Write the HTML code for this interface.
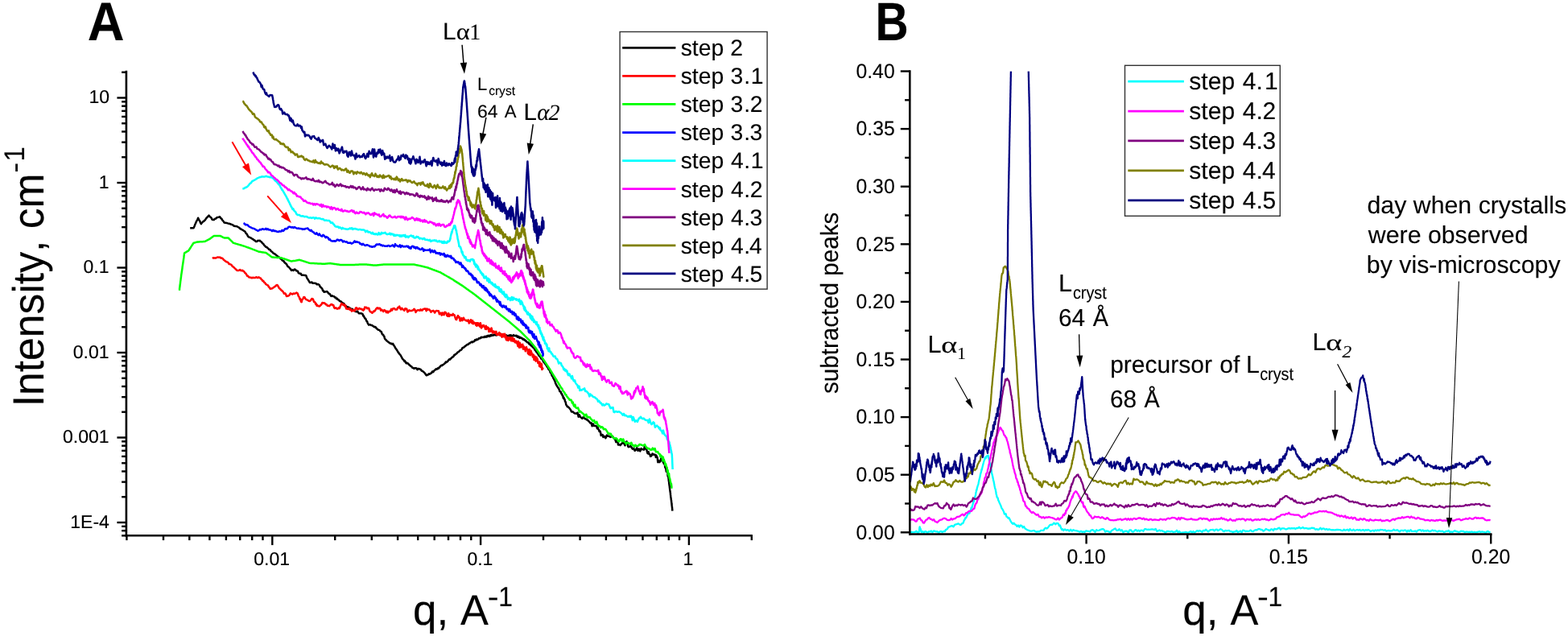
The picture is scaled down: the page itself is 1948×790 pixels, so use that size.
<!DOCTYPE html>
<html lang="en"><head><meta charset="utf-8"><title>SAXS intensity curves and subtracted peaks</title>
<style>html,body{margin:0;padding:0;background:#fff}body{width:1948px;height:790px;overflow:hidden}svg{display:block;filter:blur(0.45px)}text{font-family:"Liberation Sans", Arial, Helvetica, sans-serif;fill:#000;white-space:pre;font-kerning:none;text-rendering:geometricPrecision;stroke:#000;stroke-width:0.12px;paint-order:stroke fill}</style>
</head><body>
<svg width="1948" height="790" viewBox="0 0 1948 790" role="img" aria-label="SAXS intensity curves (A) and subtracted peaks (B)">
<rect width="1948" height="790" fill="#fff"/>
<defs><clipPath id="cb"><rect x="1131" y="88.3" width="730" height="576"/></clipPath></defs>
<g id="chartA">
<polyline points="236.2,283.5 237.6,283.2 239.1,283.2 240.5,283.2 241.1,281.9 241.6,281 242.2,279 242.7,278.1 243.3,276.8 243.8,275.4 244.4,274.4 245,273.2 245.5,272.5 246.1,270.7 246.7,271.9 247.3,273.4 248,274.1 248.6,275.5 249.2,277.1 249.9,278.2 250.7,276.9 251.6,276.1 252.5,274.9 253.4,274.7 254.2,273.8 255.1,273 256,271.4 256.9,270.4 257.7,269.5 258.6,268.7 259.5,267.6 260.5,269 261.5,269.7 262.5,270.5 263.5,272.6 264.6,273.1 265.8,273 266.9,271.9 268.1,271.5 269.3,270.3 270.5,269.9 271.7,269.8 272.9,269.2 273.7,270.1 274.5,271.3 275.3,271.6 276.1,273.3 276.9,274.1 277.7,275 278.5,276.5 280,276.7 281.5,276.9 283,277.4 284.6,277.7 286.1,278.2 287.3,278.8 288.6,279.1 289.9,280.1 291.1,280.8 292.4,281.1 293.7,281.1 294.9,281.5 296.2,282.3 297.3,282.9 298.4,284.2 299.5,284.5 300.5,285.3 301.6,285.7 302.7,286.7 303.8,287.2 304.6,287.9 305.5,289.7 306.3,290.3 307.2,291.7 308,293.4 308.9,294.4 310.1,294.8 311.4,295.3 312.7,296.4 313.9,296.8 315.2,298 316.5,298.6 317.7,299.9 319,300 320.3,298.8 321.5,298.9 322.8,298.7 323.7,299.9 324.6,300.2 325.5,301.4 326.4,302.4 327.3,303.1 328.2,304.6 329.1,305.4 330.2,306.7 331.3,306.9 332.4,308 333.5,308.9 334.5,310.1 335.6,310.2 336.7,312 337.7,312.6 338.7,313.5 339.7,314.7 340.8,314.9 341.8,315.9 342.8,316.5 343.8,317.6 344.8,318.3 345.8,319.2 346.8,319.5 347.8,320 348.7,321.5 349.7,321.9 350.6,323.3 351.6,324.1 352.5,324.3 353.5,326 354.4,326.9 355.3,327.5 356.1,328.3 357,330.2 357.8,331.3 358.6,331.5 359.5,332.5 360.3,333.6 361.2,334.5 362,336 363.3,335.3 364.6,336 365.8,334.5 367.1,334.9 368,336.3 369,336.6 369.9,336.7 370.9,339.2 371.8,339.4 372.8,340.1 373.7,339.8 374.7,341.7 375.9,341.7 377.2,341.8 378.5,341.9 379.7,342 380.4,342.7 381,344.5 381.6,345.8 382.3,346.7 382.9,347.7 383.5,348.6 384.2,349.8 384.8,351 386.1,351 387.3,350.5 388.6,351.8 389.9,351.8 391.1,351.8 392.4,352 393.7,353.3 394.9,353 396.2,353.6 396.9,354.2 397.6,356.2 398.3,356.4 399,357.4 399.7,357.8 400.4,358.9 401.1,361.1 401.8,361 402.5,362.7 403.8,362.6 405.1,362.3 406.3,362.1 407.2,362.9 408,364.4 408.9,364.9 409.7,365 410.5,366.5 411.4,367.9 412.7,367.3 413.9,368.1 415.2,368.3 416.1,369.6 417.1,369.4 418,371.3 419,370.9 419.9,372.2 420.9,372.4 421.8,373.8 422.8,374.3 423.7,374.4 424.7,376 425.6,376.1 426.6,377.7 427.5,377.1 428.5,379.6 429.4,379.5 430.4,380.6 431.4,381.2 432.4,381.5 433.4,381.9 434.4,382.4 435.4,383.5 436.5,383.7 437.5,383.7 438.5,384.8 439.5,385.8 440.5,386.1 441.6,386.7 442.8,387.3 443.9,386.6 445,388.1 446.1,389.3 447.3,389.2 448.4,389.3 449.5,389.4 450.6,390.3 451.2,392.3 451.7,392.1 452.3,393.6 452.8,394.2 453.3,395.5 453.9,395.6 454.4,396.2 455,397.9 455.5,399.1 456.1,399.1 456.6,400.9 457.1,402 457.7,402.8 458.2,403.7 459.5,403.2 460.8,403.9 462,404 463.3,404.9 464.2,405.6 465.1,406.3 466.1,406 467,406.8 467.9,408.2 468.8,408.7 469.7,409.8 470.7,409.7 471.6,410.3 472.5,411.6 473.4,411.8 474,412.6 474.5,414.4 475.1,415.5 475.6,415.5 476.2,416 476.7,417.4 477.3,417.6 477.8,419.9 478.4,421.2 478.9,421.6 479.5,422 480,423.1 481,423.6 482,424.5 483,425.3 484.1,425.9 485.1,426.7 486.1,426.6 487.1,427.5 488.1,426.9 488.7,427.7 489.3,429.2 489.8,429.5 490.4,430.7 491,431.8 491.6,432.9 492.2,433.5 492.7,434.4 493.3,435.1 493.9,436.3 494.5,437.5 495,437.6 495.6,438.9 496.2,439.5 496.8,440.4 497.4,440.9 498,441.9 498.6,443 499.2,444.3 499.8,445.2 500.5,446.3 501.1,446.8 501.7,447.2 502.3,448.7 503.1,448.3 503.9,450.3 504.7,451.3 505.5,450.6 506.3,451.4 507.1,451.4 507.9,452.8 508.8,453.3 509.6,454.2 510.4,454.9 511.2,455.2 512,456.5 512.8,457 513.6,457 514.4,457.8 515.4,457.3 516.5,457.2 517.5,457.5 518.5,459.1 519.5,457.9 520.5,458.1 521.5,458.5 522.5,458.7 523.2,459.8 523.9,460.7 524.6,460.7 525.3,461.3 526,461.8 526.7,462.4 527.4,463.1 528.1,464 528.8,465 529.5,466 530.2,466.3 531.1,465.6 532,465.5 532.9,464.2 533.7,464.8 534.6,463.9 535.5,463.8 536.4,462.5 537.2,461.4 538.1,462.2 539,460.8 539.9,459.9 540.8,459.4 541.5,458.3 542.3,458.8 543.1,458.4 543.9,457.4 544.7,457.8 545.4,456.5 546.2,456.3 547,454.9 547.8,454.4 548.5,453.8 549.3,454 550.1,453.2 550.9,452.7 551.6,452.2 552.3,451.5 553.1,451.1 553.8,449.5 554.5,450.1 555.2,449.5 555.9,449.1 556.7,448.1 557.4,447.1 558.1,446.3 558.8,446.8 559.6,445.4 560.3,445.5 561,444.6 561.7,443.6 562.4,443.4 563,443.3 563.7,442.3 564.4,440.8 565.1,441 565.7,440.2 566.4,439.8 567.1,439.1 567.8,438.8 568.4,437.6 569.1,437.3 569.8,437.1 570.5,436.3 571.1,435.5 571.8,435.1 572.4,435 573.1,434.5 573.7,433.8 574.3,432.3 575,432 575.6,431.8 576.3,431.6 576.9,430.7 577.5,430 578.2,430.1 578.8,429.3 579.5,428.8 580.1,428.4 580.7,427.8 581.4,427.9 582,427.7 582.7,426.6 583.3,426.2 583.9,426.3 584.5,425.4 585.1,425.3 585.7,424.9 586.3,424.5 586.9,425.3 587.5,424.5 588.2,424.4 588.8,424.2 589.4,423.4 590,422.2 590.6,423 591.2,422.7 591.8,421.4 592.4,421.4 593,422 593.6,421.4 594.2,421.3 594.8,420.2 595.4,420.4 596,420.1 596.5,420.3 597.1,419.2 597.7,419.6 598.2,418.7 598.8,419 599.3,419.1 599.9,419.1 600.4,418.8 601,418.6 601.5,418.9 602.1,418.5 602.6,417.8 603.2,418.5 603.7,418.7 604.3,417.9 604.8,417.4 605.4,418.3 605.9,417.8 606.5,416.7 607,417.3 607.6,417.1 608.1,417.9 608.6,417 609.1,416.4 609.6,417.1 610.1,417.3 610.6,415.9 611.1,416.6 611.6,416.4 612.2,416.8 612.7,416.5 613.2,415.9 613.7,416.3 614.2,416.1 614.7,415.3 615.2,415.4 615.7,416.3 616.2,416.2 616.7,416.5 617.2,415.6 617.7,415.8 618.2,414.8 618.7,415.9 619.2,414.7 619.7,415.1 620.2,415.4 620.7,415 621.2,416.2 621.7,415.2 622.2,414.9 622.7,415.5 623.1,416.1 623.6,415.4 624.1,416.3 624.6,416.5 625.1,415.3 625.6,416.4 626.1,416.3 626.6,416.4 627,416.5 627.5,416.7 628,416.4 628.5,416.8 629,416.4 629.5,417.3 630,417.2 630.4,417.4 630.9,417 631.4,417.2 631.9,417.1 632.4,416.7 632.9,417.3 633.4,416.3 633.9,417.7 634.4,417.3 634.9,416.3 635.4,417.3 635.9,417.6 636.5,417.5 637,416.8 637.5,417 638,416.1 638.5,417.1 639,417.2 639.5,417 640,416.8 640.5,417 640.9,417.4 641.4,416.9 641.8,416.8 642.3,417.4 642.7,418.7 643.2,418.7 643.6,418.4 644.1,417.7 644.5,418.9 645,418.5 645.4,419.9 645.9,419.5 646.3,419 646.8,419.2 647.2,419.8 647.7,419.7 648.1,420.2 648.5,420.1 648.9,420.8 649.3,421.5 649.7,420.9 650.1,421.6 650.5,421.8 650.9,421.2 651.3,422.2 651.7,422.5 652.2,422.2 652.6,422.9 653,423.4 653.4,423.2 653.8,423.8 654.2,424.4 654.6,424.7 655,425.2 655.4,425.3 655.8,425.2 656.2,425.3 656.5,425.6 656.9,426.6 657.2,427.1 657.6,426.4 657.9,427.7 658.2,427.8 658.6,427.8 658.9,428.3 659.2,428.4 659.6,429.3 659.9,429.1 660.3,429 660.6,429.8 660.9,429.5 661.3,430.7 661.6,430.7 661.9,431.3 662.3,431.6 662.6,431.9 662.8,432 663.1,432.2 663.4,432.1 663.7,433.1 663.9,432.9 664.2,434.1 664.5,434 664.8,435.1 665,435.2 665.3,434.8 665.6,435.5 665.9,436 666.1,437 666.4,437.1 666.7,437.2 667,437.3 667.2,438 667.5,437.9 667.8,439.2 668.1,439.4 668.4,439.4 668.6,439.8 668.9,440.6 669.2,441.4 669.5,440.4 669.7,441 670,442.3 670.3,442.2 670.6,442.7 670.8,443.2 671.1,442.9 671.4,443.8 671.7,444 671.9,444 672.2,445.4 672.5,444.7 672.8,444.6 673,445.8 673.3,445.4 673.6,446.2 673.9,446.1 674.2,447.3 674.4,447.6 674.7,447.4 674.9,449 675.2,448.7 675.4,449.1 675.7,450.1 675.9,450.1 676.2,450.6 676.5,450.6 676.7,450.8 677,451.1 677.2,451.9 677.5,451.9 677.7,452.7 678,452.7 678.2,452.6 678.5,453 678.7,454.1 679,454.5 679.2,454.1 679.5,455.4 679.7,455 680,455.9 680.3,455.7 680.5,456 680.8,457 681,457.7 681.3,458.4 681.5,457.9 681.8,458.2 682,458.3 682.3,458.8 682.5,459.8 683.1,460.4 683.7,462.8 684.4,462.9 685,464.2 685.6,466.5 686.2,467.4 686.8,467.9 687.4,469.7 688,470.6 688.6,471.9 689.1,472.9 689.6,474 690.1,476 690.6,476.8 691.3,478.4 692,479.5 692.7,480.6 693.3,481.6 694,482.4 694.7,483.9 695.4,486.2 696,486.4 696.7,486.7 697.4,489.1 698.1,489.3 698.7,491.4 699.3,491.7 699.8,494.6 700.4,493.7 700.9,495.7 701.5,495.9 702,498.9 702.6,499.1 703.2,502.2 703.7,503.4 704.3,503.9 704.8,505.3 705.8,505.3 706.8,506.4 707.8,507.5 708.9,508.9 709.9,511.4 710.9,511.5 711.9,511.4 712.9,512.7 714.1,513.5 715.2,513.5 716.4,513.8 717.5,512.6 718.7,517.8 719.9,515.4 721,518 722.1,518.7 723.3,519.9 724.4,518.4 725.5,517.7 726.6,520.3 727.8,520.2 728.9,521.5 730,521.4 731.1,523.2 732.3,523.9 733.4,525.4 734.5,525.2 735.6,529.3 736.8,526.5 737.9,529 739,529 740.1,528.9 741.3,529.6 741.9,532.3 742.6,530.2 743.3,533.3 744,533.9 744.6,536 745.3,535.3 746,537 746.7,541.1 747.3,539.6 748,540.7 748.7,540.1 749.4,543 750.9,541.9 752.4,544.3 753.9,540.6 755.4,541.7 756.8,541.8 758.1,542.9 759.5,542.3 760.8,541.7 762.2,543.8 763.5,545.3 764.4,546.2 765.3,549.1 766.2,546.1 767.1,546.7 768,552.6 768.9,552.5 769.8,552.2 770.7,553.1 771.6,551.8 772.9,550.5 774.1,549.3 775.3,551 776.5,553.3 777.7,549.3 778.6,548.4 779.5,551.1 780.4,555 781.3,555.2 782.2,554.8 783.1,554.1 784,554.6 784.9,556.3 785.8,557.6 787.2,556.8 788.5,559.8 789.9,559.1 791.2,556.2 792.6,559.9 793.9,557.6 795.3,560.4 796.6,557.1 798,558.3 799,558.2 800,558.7 801,553.5 802,555.3 802.6,557.9 803.2,557.7 803.8,560.7 804.5,563.2 805.1,563.3 805.7,561.3 806.3,564 806.9,564.1 807.5,564.7 808.1,566.9 809.3,566.3 810.5,563.5 811.7,564.7 813,564.5 814.2,565.2 814.8,568 815.4,565.6 816.1,567.8 816.7,568.3 817.3,574.2 818,571.9 818.6,573 819.2,574.1 820.3,573.3 821.3,569.4 822.3,571.8 822.8,572.3 823.3,569.5 823.8,574.1 824.3,574.5 824.8,576 825.3,575.2 825.8,576.4 826.3,580.5 826.7,580.9 827.1,581.9 827.4,583.3 827.8,585.8 828.2,585.7 828.5,585.1 828.9,585.4 829.3,586.1 829.6,591.4 830,590 830.4,593.2 830.5,594.4 830.7,595.6 830.8,597.1 831,597.9 831.2,599.5 831.3,600.9 831.5,601.9 831.6,603.2 831.8,604.1 831.9,605.6 832.1,606.8 832.2,608.2 832.4,609.4 832.6,610.8 832.7,611.6 832.9,612.9 833,614.4 833.2,615.6 833.3,616.9 833.5,618.2 833.7,619.3 833.8,620.8 834,621.6 834.1,623.1 834.3,624.4 834.4,625.5 834.6,627 834.7,628.2 834.9,629.3 835,630.6 835.2,632.2 835.3,633.6 835.4,634.7" fill="none" stroke="#000000" stroke-width="2.5" stroke-linejoin="round"/>
<polyline points="263.8,320.8 265.2,320.2 266.5,320.5 267.9,320.6 269.3,319.9 270.7,319.4 272,319.7 273.4,319.6 274.5,320.7 275.7,320.6 276.8,321.3 277.9,322.8 279,323.5 280.2,324.6 281.3,325.2 282.4,325.5 283.5,326.3 284.6,328 285.6,328 286.7,328.6 287.7,329.3 288.7,330.7 289.8,331.6 290.8,332.3 291.8,333.3 292.9,334.3 293.9,335.4 294.9,336.1 296.5,336 298.1,335.1 299.7,336.3 301.3,335.7 302.3,336.9 303.2,337.2 304.2,338.9 305.2,339.5 306.2,341 307.2,342.8 308.2,342.8 309.1,344.3 310.1,344.6 311.5,344.7 312.9,345.2 314.3,344.8 315.8,345 317.2,344.9 318.6,344.2 320,345.1 321.4,344.3 322.8,345.2 323.7,345.4 324.6,347 325.5,347.5 326.4,349 327.3,349 328.2,350.8 329.1,351.1 330.1,352.9 331,353.4 332,354.1 332.9,354.4 333.9,356.4 334.8,357.1 335.8,358.8 336.7,358.6 337.8,358.4 338.9,357.8 340,357 341,356.3 342.1,355.6 343.2,354.4 344.3,353.9 345.1,354.8 346,356.4 346.8,358 347.7,358.6 348.5,359.5 349.4,360.3 350.2,361.2 351.1,361.7 351.9,362.7 352.9,364.8 353.9,364.3 354.9,365.1 355.9,367.9 357,367.7 358.2,367.5 359.5,366.6 360.8,364.3 362,364.9 363.3,365.6 364.6,364.4 365.8,364.9 367.1,364.4 368.4,363.6 369.6,364.3 370.2,365.8 370.7,367.6 371.3,368.5 371.9,369.2 372.4,371.4 373,371 373.6,373.4 374.1,374.8 374.7,375.1 375.2,372.5 375.7,372 376.2,371.6 376.7,370.5 377.2,369.3 378.2,369 379.2,370.7 380.3,372.1 381.3,372.4 382.3,372.8 383.5,373.7 384.8,374.1 386.1,373 387.3,371.1 388.6,371.3 389.3,372.6 390,374.9 390.7,374.9 391.4,375.4 392.1,377.6 392.8,377.2 393.5,379.8 394.2,378.7 394.9,380.1 396,380.3 397.1,380.4 398.2,379.2 399.3,378.3 400.4,376 401.4,376.4 402.5,376.3 403.6,376.6 404.6,378.2 405.7,378.1 406.8,379.7 407.8,379.7 408.9,380.2 409.7,379.5 410.5,378.9 411.4,378 412.3,378.1 413.3,379.1 414.2,378.9 415.2,382.3 416.1,383 417.1,382.3 418,382.8 419,383.7 419.9,383.3 420.8,382.4 421.7,383.1 422.6,380.7 423.5,378.8 424.4,376.9 425.3,378.2 426.3,378.7 427.2,377.8 428.2,380.3 429.1,379.4 430.1,383.5 431,383.5 432,383.8 432.9,384 433.9,382.7 434.9,384.9 435.9,384.1 437,386.6 438,385.9 439,384.9 440,386.2 441,385.9 442,382.4 443,382.3 444.1,384 445.2,384.3 446.3,382.9 447.4,383.5 448.5,383.9 449.5,383.8 450.6,385.1 451.3,385.6 451.9,384.1 452.5,384.4 453.2,381.5 454.2,382 455.2,381.8 456.2,383.3 457.2,382.7 458.2,382.8 459.2,386.1 460.3,387.5 461.3,387.5 462.3,388.7 463.3,387.9 464.2,386.4 465.2,386.7 466.1,385.5 467.1,384.1 468,382.7 469,382.3 469.9,383.4 470.9,382.8 472,382.8 473.1,385.6 474.1,384.6 475.2,385.7 476.3,387 477.4,385 478.5,385.7 480,388.2 481,386.5 482,388.5 483,386.8 484.1,387.1 485.1,386.3 486.1,383.9 487.1,385.5 488.1,383.4 489.1,383.1 490.1,383.2 491.1,384.6 492.2,384.5 493.2,384.4 494.2,382 495.2,382.2 496.2,380.6 497.2,383.2 498.2,384.4 499.2,382.7 500.3,384.3 501.3,384.4 502.3,385.7 503.3,383.3 504.3,383.5 505.3,383.8 506.3,387.5 507.3,386.8 508.4,385.3 509.4,386 510.4,385.9 511.4,386.1 512.4,385.4 513.4,385.2 514.4,383.8 515.4,384.7 516.5,387.9 517.5,386.2 518.5,385.5 519.5,385.1 520.5,385.4 521.5,385.8 522.5,384.3 523.5,385.4 524.6,385.5 525.6,384 526.6,383.9 527.6,383.5 528.6,383.4 529.6,386.2 530.6,383.6 531.6,384.7 532.5,384.4 533.5,384.6 534.4,385.9 535.4,387.7 536.4,386.4 537.3,386.3 538.3,385.8 539.2,386.8 540.2,388.5 541.1,386.8 542.1,386 543,386 544,386.5 544.9,386.3 545.9,390.3 546.8,389 547.8,388.7 548.7,391.5 549.7,388.5 550.6,390.8 551.6,391.1 552.5,387.7 553.5,387.9 554.4,389.1 555.3,392.1 556.3,392.8 557.2,389.2 558.2,392.9 559.1,390.9 560.1,391.1 561,391.6 561.9,391.7 562.8,389.8 563.7,391.3 564.6,391.3 565.4,394.2 566.3,396.7 567.2,397 568.1,393.9 569,392.1 569.9,394.4 570.8,393.9 571.6,398.6 572.5,396.9 573.4,395.2 574.3,398.1 575.2,397.3 575.9,394.7 576.7,396.6 577.4,397.2 578.2,397.8 578.9,398.2 579.7,397.7 580.4,398.8 581.2,397.8 581.9,397.5 582.7,401.5 583.4,399.9 584.1,400.2 584.9,397.2 585.6,399.7 586.4,401.4 587.1,398.3 587.9,402.3 588.6,400.2 589.4,401.2 589.9,401 590.5,401.8 591.1,403.6 591.7,401.3 592.3,404.7 592.8,401.2 593.4,401.2 594,404.1 594.6,401.5 595.2,402.8 595.7,405.1 596.3,405.8 596.9,401.3 597.5,405.2 598,407.6 598.6,406.8 599.2,404.7 599.8,404.4 600.4,405.1 600.9,404 601.5,405.9 602,406 602.4,406.3 602.9,408.7 603.3,406.6 603.8,404.8 604.2,409.1 604.7,405.9 605.1,407.1 605.6,407.9 606,407.8 606.5,406.9 606.9,408.4 607.4,412.1 607.8,408.2 608.3,409.2 608.7,411.5 609.2,411.1 609.6,411.4 610.1,411.8 610.5,407.4 611,409.4 611.4,411.2 611.9,412.1 612.3,413.6 612.8,412.5 613.2,411.5 613.7,412.2 614.1,412 614.6,413 615.1,413.9 615.5,412.4 616,411.8 616.5,411.9 616.9,415.4 617.4,415.9 617.9,415.6 618.3,415.6 618.8,415.7 619.3,414.5 619.7,415.8 620.2,413.1 620.7,414.7 621.1,414 621.6,416.7 622.1,414.7 622.6,415.7 623,416.7 623.5,418.6 624,415.1 624.4,415 624.9,418.2 625.4,415.1 625.8,417.5 626.3,416.4 626.7,417.5 627.1,414.7 627.6,419.3 628,417.4 628.4,416.9 628.9,422.1 629.3,420.2 629.7,422.5 630.2,420.1 630.6,419 631,420 631.5,422.9 631.9,420.2 632.3,421.3 632.8,421.6 633.2,419.3 633.6,421.4 634.1,420.4 634.5,419.3 634.9,423.3 635.4,423.2 635.8,422.3 636.2,420.8 636.7,419.2 637.1,423.7 637.5,422.9 638,422.2 638.4,423.5 638.8,421.1 639.1,424.1 639.5,424.6 639.9,425.3 640.3,425.3 640.7,425.5 641.1,423.4 641.5,425 641.9,425.1 642.3,425.9 642.6,427.1 643,428 643.4,430.1 643.8,423.9 644.2,428.4 644.6,427.6 645,431.7 645.4,430.2 645.8,425.7 646.2,429.8 646.5,428.3 646.9,431.4 647.3,427.9 647.7,429.9 648.1,430.3 648.5,430.5 648.9,429.8 649.3,427.8 649.7,432.3 650,433.6 650.4,431.9 650.8,430.4 651.2,432.9 651.6,433.9 652,432.8 652.4,433.4 652.8,436.3 653.2,431.8 653.6,433.1 653.9,430.9 654.3,433.4 654.7,433.6 655.1,433.5 655.5,434.2 655.9,439.2 656.3,435.7 656.7,436.2 657.1,440.3 657.4,436.8 657.8,433.9 658.2,437.7 658.5,436 658.9,441.3 659.2,436.1 659.5,437.8 659.8,436.1 660.1,439.8 660.4,438 660.7,440.1 661,439.9 661.3,439.8 661.7,443.1 662,443.5 662.3,442.1 662.6,440.6 662.9,440.7 663.2,443.6 663.5,447.1 663.8,442.9 664.1,442.6 664.5,443.1 664.8,442.7 665.1,443.3 665.4,445.1 665.7,448.7 666,446.2 666.3,446.2 666.6,443.8 666.9,447.7 667.2,447.6 667.5,445.6 667.8,446.3 668.1,448.7 668.4,451.1 668.6,450.7 668.9,450.2 669.2,449.6 669.5,451.2 669.8,450.9 670.1,455 670.4,449.4 670.7,451.3 671,454.9 671.2,452.2 671.5,455.9 671.8,453.4 672.1,454.1 672.4,453.4 672.7,451.8 673,453 673.3,459 673.6,456.9 673.9,457.2 674.1,458.3 674.4,456.7" fill="none" stroke="#ff0000" stroke-width="2.5" stroke-linejoin="round"/>
<polyline points="222.8,360.8 223,359.4 223.1,358.1 223.3,356.8 223.5,355.5 223.6,354.2 223.8,352.9 224,351.5 224.1,350.2 224.3,348.9 224.5,347.6 224.6,346.3 224.8,345 225,343.6 225.1,342.3 225.3,341 225.5,339.7 225.7,338.4 225.9,337 226.1,335.7 226.3,334.4 226.5,333 226.6,331.7 226.8,330.4 227,329.1 227.2,327.7 227.4,326.4 227.6,325.1 227.8,323.7 228,322.4 228.2,321.1 228.4,319.7 228.5,318.4 228.7,317.1 228.9,315.8 229.1,314.4 230.4,313.7 231.6,312.9 232.9,312.2 234.2,311.4 235,310.2 235.8,309 236.6,307.8 237.3,306.6 238.1,305.4 238.9,304.2 239.7,303 240.5,301.8 241.8,301.5 243,301.1 244.3,300.8 245.6,300.5 247,300.4 248.5,300.3 250,300.3 251.5,300.2 253,300.1 254.4,300 255.7,299.3 257,298.7 258.2,298 259.5,297.4 260.8,296.7 262,295.8 263.3,294.8 264.6,293.9 265.8,292.9 267.3,292.9 268.9,292.9 270.4,292.9 271.9,292.9 273.4,292.9 274.7,293.5 275.9,294.2 277.2,294.8 278.5,295.4 280.2,295.4 281.9,295.4 283.5,295.4 284.6,296.5 285.7,297.6 286.7,298.6 287.8,299.7 288.8,300.7 289.9,301.8 291.1,302.1 292.4,302.5 293.7,302.9 294.9,303.2 296.2,303.6 297.5,304 298.7,304.3 300,304.7 301.3,305.1 302.5,305.5 303.8,305.9 305.1,306.4 306.3,306.8 307.6,307.3 308.9,307.7 310.1,308.2 311.4,308.6 312.7,309.1 313.9,309.6 315.2,310.1 316.5,310.6 317.7,311.1 319,311.6 320.3,312.2 321.5,312.7 322.8,312.8 324.1,313 325.3,313.2 326.6,313.4 327.8,313.6 329.1,313.7 330.4,313.9 331.5,314.7 332.5,315.5 333.6,316.3 334.7,317.1 335.8,317.9 336.9,318.7 338,319.5 339.2,319.6 340.5,319.7 341.8,319.7 343,319.8 344.3,319.9 345.6,320 346.8,320.1 348.1,320.2 349.4,320.3 350.6,320.7 351.9,321.1 353.2,321.5 354.4,322 355.7,322.4 357,322.8 358.2,323.3 359.5,323.7 360.8,324.1 362,324.6 363.3,324.3 364.6,324.1 365.8,323.9 367.1,323.7 368.4,323.4 369.6,323.2 370.9,323 372.2,322.8 373.3,323.2 374.5,323.5 375.6,323.9 376.8,324.3 377.9,324.6 379.1,325 380.2,325.4 381.4,325.7 382.5,326.1 383.7,326.5 384.8,326.8 386.1,326.9 387.3,327 388.6,327.1 389.9,327.1 391.1,327.2 392.4,327.3 393.7,327.3 394.9,327.4 396.2,327.5 397.5,327.6 398.7,327.6 400,327.7 401.3,327.8 402.5,327.8 403.8,327.7 405.1,327.6 406.3,327.5 407.6,327.3 408.9,327.2 410.1,327.1 411.3,327.2 412.4,327.4 413.6,327.6 414.7,327.7 415.9,327.9 417,328.1 418.2,328.2 419.3,328.4 420.5,328.5 421.6,328.7 422.8,328.9 424,328.9 425.1,328.9 426.3,328.9 427.5,328.9 428.7,328.9 429.9,328.9 431.1,328.9 432.2,328.9 433.4,328.9 434.6,328.9 435.8,328.9 437,328.9 438.1,328.9 439.3,328.9 440.5,328.9 441.7,328.8 442.8,328.8 444,328.7 445.1,328.7 446.3,328.6 447.4,328.6 448.6,328.5 449.7,328.5 450.9,328.4 452,328.4 453.2,328.4 454.3,328.5 455.5,328.6 456.6,328.7 457.8,328.8 458.9,328.9 460.1,329 461.2,329.2 462.4,329.3 463.5,329.4 464.7,329.5 465.8,329.6 467,329.5 468.1,329.4 469.3,329.3 470.4,329.2 471.6,329 472.7,328.9 473.9,328.8 475,328.7 476.2,328.6 477.3,328.5 478.5,328.4 480,328.5 481.1,328.5 482.2,328.5 483.2,328.5 484.3,328.5 485.4,328.5 486.5,328.5 487.5,328.5 488.6,328.5 489.7,328.5 490.8,328.5 491.8,328.5 492.9,328.5 494,328.5 495.1,328.5 496.1,328.5 497.2,328.5 498.3,328.5 499.4,328.5 500.4,328.5 501.5,328.5 502.6,328.5 503.7,328.5 504.7,328.5 505.8,328.5 506.9,328.5 508,328.5 509.1,328.5 510.1,328.5 511.2,328.5 512.3,328.5 513.4,328.5 514.4,328.5 515.4,328.7 516.5,329 517.5,329.2 518.5,329.4 519.5,329.6 520.5,329.9 521.5,330.1 522.5,330.3 523.5,330.6 524.6,330.8 525.6,331 526.6,331.2 527.6,331.5 528.6,331.7 529.6,331.9 530.6,332.2 531.5,332.5 532.4,332.8 533.3,333.2 534.2,333.5 535.1,333.8 536,334.2 536.9,334.5 537.8,334.9 538.7,335.2 539.6,335.5 540.5,335.9 541.4,336.2 542.3,336.5 543.2,336.9 544.1,337.2 545,337.6 545.9,337.9 546.8,338.2 547.7,338.7 548.5,339.2 549.3,339.7 550.2,340.1 551,340.6 551.8,341.1 552.7,341.6 553.5,342 554.3,342.5 555.2,343 556,343.5 556.8,343.9 557.7,344.4 558.5,344.9 559.3,345.4 560.2,345.9 561,346.3 561.8,346.8 562.6,347.3 563.4,347.8 564.2,348.4 565,348.9 565.7,349.4 566.5,349.9 567.3,350.4 568.1,350.9 568.9,351.4 569.7,351.9 570.5,352.4 571.3,352.9 572,353.4 572.8,353.9 573.6,354.4 574.4,354.9 575.2,355.4 575.8,355.9 576.4,356.3 577,356.8 577.7,357.2 578.3,357.6 578.9,358.1 579.5,358.5 580.1,359 580.7,359.4 581.4,359.8 582,360.3 582.6,360.7 583.2,361.2 583.8,361.6 584.4,362 585.1,362.5 585.7,362.9 586.3,363.4 586.9,363.8 587.5,364.2 588.1,364.7 588.8,365.1 589.4,365.6 589.9,366 590.3,366.3 590.8,366.7 591.3,367.1 591.8,367.5 592.3,367.9 592.8,368.3 593.3,368.6 593.8,369 594.3,369.4 594.7,369.8 595.2,370.2 595.7,370.6 596.2,370.9 596.7,371.3 597.2,371.7 597.7,372.1 598.2,372.5 598.7,372.9 599.1,373.3 599.6,373.6 600.1,374 600.6,374.4 601.1,374.8 601.6,375.2 602.1,375.6 602.6,375.9 603.1,376.3 603.5,376.7 603.9,377 604.3,377.3 604.7,377.6 605.1,377.9 605.5,378.3 605.9,378.6 606.3,378.9 606.7,379.2 607.1,379.5 607.5,379.8 607.9,380.1 608.3,380.4 608.7,380.7 609.1,381 609.5,381.4 609.8,381.7 610.2,382 610.6,382.3 611,382.6 611.4,382.9 611.8,383.2 612.2,383.5 612.6,383.8 613,384.1 613.4,384.4 613.8,384.8 614.2,385.1 614.6,385.4 615,385.7 615.4,386 615.8,386.3 616.1,386.6 616.5,386.9 616.9,387.2 617.3,387.5 617.7,387.8 618.1,388.2 618.5,388.5 618.9,388.8 619.3,389.1 619.7,389.4 620.1,389.7 620.5,390 620.9,390.3 621.3,390.6 621.7,390.9 622.1,391.3 622.4,391.6 622.8,391.9 623.2,392.2 623.6,392.5 624,392.8 624.4,393.1 624.8,393.4 625.2,393.7 625.6,394 626,394.3 626.4,394.7 626.8,395 627.2,395.3 627.6,395.6 628,395.9 628.4,396.2 628.7,396.5 629.1,396.8 629.5,397.1 629.9,397.4 630.3,397.7 630.7,398.1 631.1,398.4 631.5,398.7 631.9,399 632.3,399.3 632.6,399.6 633,399.9 633.4,400.3 633.8,400.6 634.1,400.9 634.5,401.2 634.9,401.5 635.3,401.9 635.6,402.2 636,402.5 636.4,402.8 636.7,403.1 637.1,403.5 637.5,403.8 637.9,404.1 638.2,404.4 638.6,404.7 639,405.1 639.4,405.4 639.7,405.7 640.1,406 640.5,406.3 640.9,406.7 641.2,407 641.6,407.3 642,407.6 642.3,407.9 642.7,408.3 643.1,408.6 643.5,408.9 643.8,409.2 644.2,409.5 644.6,409.9 645,410.2 645.3,410.5 645.7,410.8 646.1,411.1 646.4,411.5 646.8,411.8 647.1,412.2 647.4,412.5 647.8,412.8 648.1,413.2 648.4,413.5 648.8,413.8 649.1,414.2 649.5,414.5 649.8,414.9 650.1,415.2 650.5,415.5 650.8,415.9 651.1,416.2 651.5,416.5 651.8,416.9 652.2,417.2 652.5,417.6 652.8,417.9 653.2,418.2 653.5,418.6 653.8,418.9 654.2,419.2 654.5,419.6 654.9,419.9 655.2,420.3 655.5,420.6 655.9,420.9 656.2,421.3 656.5,421.6 656.9,421.9 657.2,422.3 657.6,422.6 657.9,423 658.2,423.3 658.5,423.7 658.8,424 659.1,424.4 659.4,424.7 659.7,425.1 660,425.5 660.3,425.8 660.5,426.2 660.8,426.5 661.1,426.9 661.4,427.3 661.7,427.6 662,428 662.3,428.4 662.6,428.7 662.9,429.1 663.1,429.4 663.4,429.8 663.7,430.2 664,430.5 664.3,430.9 664.6,431.2 664.9,431.6 665.2,432 665.5,432.3 665.8,432.7 666,433.1 666.3,433.4 666.6,433.8 666.8,434.2 667.1,434.6 667.3,434.9 667.6,435.3 667.8,435.7 668.1,436.1 668.4,436.5 668.6,436.8 668.9,437.2 669.1,437.6 669.4,438 669.6,438.4 669.9,438.7 670.1,439.1 670.4,439.5 670.6,439.9 670.9,440.3 671.1,440.6 671.4,441 671.6,441.4 671.9,441.8 672.2,442.2 672.4,442.5 672.7,442.9 672.9,443.3 673.2,443.7 673.4,444.1 673.7,444.4 673.9,444.8 674.2,445.2 674.4,445.6 674.7,445.9 674.9,446.3 675.2,446.7 675.4,447.1 675.7,447.5 675.9,447.8 676.2,448.2 676.5,448.6 676.7,449 677,449.4 677.2,449.7 677.5,450.1 677.7,450.5 678,450.9 678.2,451.3 678.5,451.6 678.7,452 679,452.4 679.2,452.8 679.5,453.2 679.7,453.5 680,453.9 680.3,454.3 680.5,454.7 680.8,455.1 681,455.4 681.3,455.8 681.5,456.2 681.8,456.6 682,457 682.3,457.3 682.5,457.7 683.3,458.9 684,460.1 684.7,461.3 685.5,462.5 686.2,463.7 687,464.9 687.7,466.1 688.4,467.3 689.2,468.5 689.9,469.7 690.6,470.9 690.6,470.9 691.4,471.9 692.1,473.3 692.8,474.4 693.5,475.4 694.2,476.8 695,477.9 695.7,478.9 696.4,480.6 697.1,481.4 697.9,482.4 698.6,483.2 699.3,485.5 700,486 700.8,487.1 701.6,488.1 702.4,490.2 703.3,490.3 704.1,492.4 705,493.2 705.8,494.3 706.7,495.2 707.5,496.7 708.4,496.9 709.2,496.6 710,497.6 710.9,500.6 711.8,499.7 712.6,503.4 713.5,504.9 714.4,502.7 715.2,505.9 716.1,506.8 717,507.1 718,506.4 719,509 720,511.7 721,510.8 722,511.8 723,512.8 724.1,513.6 725.1,514.5 726.2,517.3 727.3,515.1 728.4,514.8 729.6,518.6 730.7,517.8 731.8,518.6 732.9,518.3 734.1,520.5 735.2,521.3 736.2,522.9 737.2,522.7 738.2,522.1 739.2,525.4 740.3,525.5 741.3,523.9 742.3,526.8 743.3,529.1 744.3,528.7 745.3,529.5 746.5,531.2 747.6,530.2 748.8,530.8 749.9,533.3 751.1,533 752.3,533.1 753.4,534.8 754.3,536 755.2,537.9 756.1,538.9 757,538.4 757.9,539.2 758.8,538.7 759.7,541.3 760.6,541.4 761.5,543.2 762.8,544.5 764.1,544.8 765.3,544.2 766.6,545.3 767.8,547.7 769.1,548.5 770.4,545.5 771.6,545.3 772.9,548.3 774.2,545.5 775.4,548.5 776.7,549.6 778,551.7 779.2,549.6 780.5,550.2 781.8,550.6 783,551.8 784.3,549.8 785.6,553 786.8,553 788.1,555 789.4,552.7 790.6,554.1 791.9,554 793.2,553.6 794.6,551.9 795.9,552.2 797.3,552.9 798.6,553.4 800,552.9 801,552.1 802,554.3 803,555.7 804.1,556.9 805.1,556.7 806.1,557.5 807.1,557.4 808.1,558.8 809.5,558.8 810.8,556.6 812.2,558.6 813.5,557 814.9,561.3 816.2,561.3 817.1,561.1 817.9,562.8 818.8,563.7 819.7,563.9 820.5,567.6 821.4,565.7 822.3,567 822.8,568 823.3,572.4 823.8,567.7 824.3,571.9 824.8,570.6 825.3,572.8 825.8,573.6 826.3,577.6 826.8,575.7 827.3,577 827.8,579.3 828.4,580.6 828.7,580.8 829,585.7 829.4,583.7 829.7,584.6 830,588.9 830.4,588.3 830.7,590.9 831.1,588.2 831.4,591.3 831.7,593.6 832.1,594.4 832.4,595.4 832.7,598 833,598.5 833.3,600.3 833.6,601.2 833.9,600.7 834.2,603.1 834.5,605.7 834.8,605.3" fill="none" stroke="#00ff00" stroke-width="2.5" stroke-linejoin="round"/>
<polyline points="302.5,277.2 303.8,277.9 305.1,279.3 306.3,279.1 307.6,279.4 308.9,281 310.1,281.8 311.4,282.3 312.7,283.1 313.9,283.5 315.2,283.9 316.5,284.4 317.7,285.3 319,285.8 320.3,286.7 321.5,286.4 322.8,285 324.1,285.4 325.3,284.6 326.6,284.3 327.8,285 329.1,284.8 330.4,283.9 331.6,285.3 332.9,284.4 334.2,285.6 335.4,285.4 336.7,285.9 338,287.2 339.2,285.7 340.5,287 341.8,286.7 343,287.3 344.3,287.7 345.6,288.1 346.8,287.3 348.1,287.5 349.4,287.4 350.6,285.9 351.9,286.9 353,285.8 354.1,284.3 355.2,284.1 356.2,284.3 357.3,283.6 358.4,281.9 359.5,281.6 360.8,281.9 362,282.6 363.3,282.1 364.6,283 365.8,282.1 367.1,282.7 368.4,283.5 369.6,283.7 370.9,283.5 372.2,284.1 373.4,284 374.7,284.2 375.9,284.9 377.2,284.5 378.5,284.7 379.7,283.9 381,283.8 382.3,283.5 383.4,285.1 384.4,285.6 385.5,286.7 386.6,285.8 387.7,287.4 388.8,288.1 389.9,288.7 391,290.2 392.2,290.7 393.3,289.3 394.5,290.9 395.6,292.1 396.8,290.4 397.9,292.3 399.1,293.1 400.2,293.6 401.4,291.7 402.5,292.7 403.5,293.8 404.6,295.1 405.6,294 406.6,295 407.6,295.3 408.6,297.6 409.6,297 410.6,298.5 411.6,299.2 412.7,299.6 413.9,299.5 415.2,299.3 416.5,299.7 417.7,299.1 419,297.6 420.3,298 421.5,298.9 422.8,298 423.9,298.1 425.1,298.9 426.2,300.4 427.4,299.4 428.5,300.2 429.7,300.5 430.8,300.3 432,301.8 433.1,301.8 434.3,301.8 435.4,301.4 436.7,302.7 438,302.1 439.2,301.2 440.5,299.4 441.8,300.8 443,300.2 444.2,300.8 445.3,301 446.4,301.2 447.5,303.1 448.7,302.8 449.8,304.1 450.9,302.8 452,303.8 453.2,304.7 454.3,304.9 455.4,304.2 456.5,304.3 457.7,304.8 458.8,305.5 459.9,306.3 461,306.1 462.2,306.8 463.3,306.6 464.3,306 465.3,306.4 466.3,305.4 467.3,304 468.4,303.5 469.5,303.9 470.6,303.5 471.7,303.2 472.9,304.6 474,304.3 475.1,305.5 476.2,304.7 477.4,305.5 478.5,305.7 480,305.6 481.1,305.9 482.2,305 483.3,305.1 484.4,306.1 485.5,305.7 486.6,305.2 487.7,304.4 488.8,305.7 489.9,306.5 491,303.1 492.2,305.1 493.3,305.1 494.5,306.1 495.6,306.3 496.8,304.4 497.9,307.1 499.1,305.1 500.3,305.7 501.3,306.5 502.3,306 503.3,306.5 504.3,305.9 505.3,305.6 506.3,306.7 507.3,305.8 508.4,308.3 509.4,307.4 510.4,308.7 511.4,306.3 512.4,305.7 513.4,305.9 514.4,307.6 515.4,306.8 516.5,308.6 517.5,307 518.5,307.2 519.5,309 520.5,308.6 521.5,309.7 522.4,310 523.4,309.8 524.4,308.4 525.3,308.9 526.3,311.8 527.3,310 528.2,310.7 529.2,310.7 530.2,310.7 531.1,310.8 532.1,310.6 533,310.8 534,309.5 535,313.5 535.9,311.8 536.9,310.8 537.9,312.9 538.8,313.2 539.8,311.2 540.8,312.6 541.7,314.7 542.6,314 543.5,314.2 544.4,315.1 545.3,314.2 546.2,314.3 547.1,316.6 548,314.9 548.9,315.3 549.8,316.4 550.7,316 551.6,314.9 552.5,318.5 553.4,316.8 554.3,319 555.2,318 556.1,316.7 557,318.5 557.8,318.3 558.6,318 559.4,319.5 560.2,317.8 561,320.9 561.8,320.2 562.6,321.2 563.4,321 564.3,323.3 565.1,323.1 565.8,324.8 566.5,326 567.3,325 568,325.3 568.7,326.1 569.5,325.4 570.2,326.3 571,328.3 571.7,327 572.4,326.3 573.2,328.9 573.7,329.9 574.2,331.9 574.8,329.9 575.3,330.2 575.9,332 576.4,332.2 576.9,333.2 577.5,332.9 578,334.3 578.6,333.9 579.1,336.3 579.6,336 580.2,336.9 580.7,336.3 581.3,336.7 581.7,337.9 582.2,338.3 582.7,340.1 583.2,340.5 583.6,339.8 584.1,340.3 584.6,339.7 585,341.3 585.5,342.1 586,341.9 586.5,341.6 586.9,344.9 587.4,342.8 587.9,346.4 588.4,346.3 588.8,347.3 589.3,344.9 589.8,347.2 590.2,345.3 590.7,347 591.2,346.1 591.7,347.6 592.1,348.4 592.6,350.6 593.1,351.3 593.6,350 594,350.7 594.5,350.4 595,350.6 595.4,351.7 595.8,352.6 596.3,354 596.7,352.7 597.1,354.5 597.5,353 597.9,353.6 598.3,354.5 598.7,356.6 599.1,355.3 599.5,357.2 599.9,356.2 600.3,355.7 600.7,355 601.1,357.2 601.5,357 601.9,359.6 602.3,359.4 602.7,357.3 603.1,360.7 603.5,360.7 603.9,358 604.4,359.5 604.8,361.5 605.2,359.6 605.6,361 606,362.9 606.4,363 606.8,363.6 607.2,364.2 607.6,362.7 608,366.4 608.4,365.2 608.8,367.2 609.2,365 609.6,365.9 610,366.5 610.3,366.2 610.7,367.1 611,367.4 611.4,368.5 611.8,368.2 612.1,368.2 612.5,369.1 612.8,370.7 613.2,369.3 613.6,370.4 613.9,370.1 614.3,367.8 614.6,369.5 615,369.9 615.3,369.6 615.7,371 616.1,369.9 616.4,372.8 616.8,372.1 617.1,374.7 617.5,374 617.8,372.3 618.2,374 618.6,374.7 618.9,374.1 619.3,374.9 619.6,374.3 620,375.1 620.3,376.7 620.7,376.3 621.1,378.7 621.4,374.9 621.8,377.4 622.2,377.6 622.6,380.3 623,380.1 623.4,379.9 623.8,380.4 624.2,381.5 624.6,380.6 625,379.7 625.4,380.5 625.8,379.6 626.2,380.5 626.6,381.5 627,380.7 627.4,381.7 627.8,381.3 628.3,380.4 628.7,380.5 629.1,383.6 629.5,383 629.9,384.3 630.3,383.3 630.7,383.7 631.1,384.4 631.5,383.8 631.9,386.4 632.3,386.2 632.7,385.6 633.1,384 633.5,384.9 633.9,385.9 634.3,387.8 634.6,386.5 635,386.9 635.3,388 635.7,387.8 636,387.8 636.4,386.8 636.7,390.3 637,388.9 637.4,388.7 637.7,389.6 638.1,388.3 638.4,388.1 638.8,388.3 639.1,391.6 639.5,389.6 639.8,391.9 640.2,390.5 640.5,390 640.9,392 641.2,392.1 641.6,392.6 641.9,396.2 642.3,394.5 642.6,393.7 643,396.1 643.3,394.8 643.6,397.2 644,393.8 644.3,397.8 644.7,395.1 645,395.9 645.4,397.6 645.7,396.2 646.1,397.2 646.4,397.8 646.7,398.3 647,396.8 647.4,400.7 647.7,398.6 648,399.2 648.3,400.1 648.6,400.8 649,402.6 649.3,398.8 649.6,401.8 649.9,403.4 650.2,402.8 650.6,402.7 650.9,401.6 651.2,404 651.5,403.2 651.8,404.4 652.2,403.1 652.5,404.5 652.8,405.1 653.1,403.5 653.4,407.4 653.8,406.1 654.1,404.8 654.4,406.6 654.7,407.5 655,407.2 655.3,406.6 655.7,408.1 656,406.8 656.3,406.7 656.6,411.1 656.9,412.2 657.3,412.8 657.6,413.2 657.9,412.7 658.2,410.7 658.5,410.7 658.8,413.4 659.1,411.5 659.4,412.1 659.7,412.9 660,413.9 660.3,411.7 660.5,414.1 660.8,415.1 661.1,412 661.4,416.7 661.7,416.6 662,414.7 662.3,418.9 662.6,417.2 662.9,417.6 663.1,419.5 663.4,414.9 663.7,418 664,419.9 664.3,420.8 664.6,419 664.9,419.2 665.2,418.7 665.5,419.7 665.8,419.3 666,418.1 666.3,421 666.5,420.2 666.7,421.2 667,421.8 667.2,422.2 667.4,423.5 667.6,423.7 667.8,423.7 668,423.7 668.2,424.9 668.4,425 668.6,425.7 668.8,428.3 669.1,427.1 669.3,426.5 669.5,424.7 669.7,425.8 669.9,425.6 670.1,430.1 670.3,430.9 670.5,429 670.7,429.4 670.9,431.2 671.1,431.8 671.4,428.7 671.6,431.4 671.8,431.7 672,430.7 672.2,435.1 672.4,433.8 672.6,433 672.7,434.2 672.9,433.9 673,434.4 673.2,435 673.3,437.6 673.5,436.5 673.6,436.3 673.8,436.4 673.9,438.2 674.1,437 674.2,436.3 674.4,439 674.5,442 674.7,439 674.8,440.5" fill="none" stroke="#0000ff" stroke-width="2.5" stroke-linejoin="round"/>
<polyline points="301.3,234.4 302.5,234.2 303.8,233.8 305.1,232.8 306.3,232.5 307.3,231.7 308.2,230.9 309.2,229.7 310.1,228.4 311.1,227.6 312,227.1 313,225.4 313.9,224.9 315.2,224.2 316.5,223.5 317.7,222.9 319,221.8 320.3,221.2 321.5,220.7 322.8,220.1 324.1,219.9 325.3,219.3 326.6,219.4 327.8,219.5 329.1,219.4 330.4,218.8 331.6,219.2 332.9,219.5 334.2,219.7 335.4,220.3 336.7,220.2 338,220.6 338.9,221.4 339.7,221.7 340.6,222.7 341.5,224 342.4,224.8 343.3,225.4 344.2,226.4 345.1,227.7 345.9,228.6 346.8,229.5 347.5,230.2 348.2,231.8 348.9,233.2 349.6,234.1 350.3,235.8 351,236.1 351.7,237.4 352.4,238.6 353,239.6 353.7,240.9 354.4,242.1 355,243.2 355.6,244.2 356.2,245.3 356.8,246.7 357.4,247.2 357.9,249.1 358.5,249.7 359.1,251.3 359.7,252.1 360.3,253.8 360.9,254.7 361.4,255.9 362,257.1 362.8,258.2 363.5,259.9 364.3,259.3 365.1,261.3 365.8,262.1 366.6,262.8 367.3,263.4 368.1,265.6 368.9,266 369.6,267 370.9,267 372.2,267.1 373.4,268.3 374.7,268.4 375.9,268.2 377.2,268.6 378.5,269.3 379.7,268.9 381,269.1 382.3,269.9 383.5,270.5 384.8,270.5 386.1,270.3 387.3,271 388.6,270.3 389.9,270.2 391.1,271.7 392.4,270.4 393.7,271.2 394.9,271.2 396.2,271.1 397.5,271.2 398.6,271.9 399.8,272.2 400.9,271.9 402.1,272.6 403.2,273.8 404.4,273.8 405.5,273.5 406.7,274.1 407.8,273.9 409,274.1 410.1,275.1 411.1,277 412,276.4 413,276.4 413.9,278.3 414.9,278.7 415.8,280.4 416.8,281.5 417.7,281.4 418.8,281.9 420,281.5 421.1,283.1 422.2,282.2 423.3,283 424.5,284.4 425.6,282.9 426.7,283.9 427.8,284 429,284.4 430.1,284.4 431.3,285 432.5,284.4 433.6,284.4 434.8,283.3 435.9,284.3 437.1,283.2 438.2,284.9 439.4,284 440.5,284.3 441.7,284 442.8,284.7 444,284.8 445.1,285.4 446.3,285.1 447.4,285 448.6,285.4 449.7,285.5 450.9,285.5 452,285.5 453.2,286.2 454.2,288.2 455.3,286.7 456.4,286.8 457.5,288.5 458.6,288.3 459.7,288.3 460.8,289.5 461.8,290.3 462.9,288.8 464,290.7 465.1,290.4 466.2,291.1 467.3,290.2 468.4,291.3 469.5,291.5 470.6,289.1 471.7,291.2 472.9,291.1 474,288.9 475.1,290 476.2,289.4 477.4,289.5 478.5,288.9 480,290.7 481.1,291.2 482.1,290.7 483.2,290.8 484.3,289.7 485.3,291.5 486.4,290.2 487.5,291.3 488.5,290.8 489.6,292.9 490.7,291.6 491.7,292.8 492.8,291.8 493.9,291.9 494.9,292.6 496,292.1 497.1,293.7 498.1,292.2 499.2,293.7 500.3,292.2 501.3,292 502.3,293.4 503.3,291.9 504.3,294.7 505.3,293.7 506.3,293.5 507.3,295 508.4,293.4 509.4,293.3 510.4,292.5 511.4,292.7 512.4,294.1 513.4,293 514.4,295.3 515.4,295.6 516.5,295.3 517.5,293.8 518.5,294.6 519.5,294.3 520.5,295.8 521.5,296.6 522.4,295.8 523.4,296.2 524.4,296.5 525.3,297.1 526.3,296 527.3,296.1 528.2,297.8 529.2,297.7 530.2,297.9 531.1,297.7 532.1,298.5 533,298.5 534,297.8 535,299.9 535.9,299.6 536.9,298.7 537.9,299 538.8,298.6 539.8,298.3 540.8,299.3 541.7,298.5 542.6,299.3 543.6,300.3 544.5,300.1 545.5,299.1 546.4,300.3 547.4,300 548.3,299.8 549.3,301.8 550.2,300.1 551.2,301.9 552.1,299.8 553,301.6 554,300.9 554.9,301.9 555.6,301.3 556.3,299.6 557,300.2 557.6,300.1 558.3,299.5 559,297.9 559.2,296.4 559.5,297 559.7,294.4 559.9,293.8 560.2,291.9 560.4,291.9 560.6,290.1 560.9,290.2 561.1,288 561.3,289.5 561.6,287.9 561.8,287.4 562,285.8 562.5,284.8 563,284.2 563.5,283.1 564.1,280.4 564.6,280.2 565.1,280.3 565.3,282 565.6,281.1 565.8,283.2 566.1,283.5 566.3,285.4 566.6,286.3 566.8,285.8 567.1,287.3 567.2,289.1 567.4,289.7 567.6,290 567.7,291.3 567.9,291.8 568,292.8 568.2,293.2 568.4,294.6 568.5,296 568.7,296.8 568.8,297.5 569,297.8 569.2,299.1 569.3,299.2 569.5,300.1 569.6,301.2 569.8,301.4 570,302.9 570.1,303.1 570.4,306 570.8,306 571.1,306.3 571.4,306.1 571.7,306.9 572,307.9 572.3,307.4 572.7,309.4 573,309.7 573.3,312.1 573.6,313.3 573.9,314.2 574.2,312.3 574.6,313 574.9,316.5 575.2,316.1 575.7,317.5 576.1,317.7 576.6,317.9 577.1,320.2 577.5,319.8 578,320.2 578.5,319.2 578.9,321 579.4,322.8 579.9,322.6 580.3,323.6 580.8,323.1 581.3,324.2 581.9,323.2 582.6,323.3 583.3,324.3 584,324.7 584.6,322.5 585.3,322.4 586,322.1 586.7,322 587.3,321.9 587.6,323.4 587.8,323.5 588.1,323.7 588.4,324.7 588.6,323.1 588.9,325.3 589.1,328 589.4,325.6 589.6,326.6 589.9,328.1 590.1,329.4 590.4,328.9 590.8,328.4 591.2,331.5 591.7,328.4 592.1,329.9 592.5,330.5 593,329.7 593.4,332.7 593.8,334.6 594.1,331.5 594.4,333.1 594.8,333.8 595.1,335.2 595.4,334.8 595.8,336 596.1,336.4 596.5,336.2 596.8,336.9 597.1,338.8 597.5,337.9 597.8,338.9 598.1,338.6 598.5,339.9 598.8,341.3 599.2,340.2 599.5,340 599.8,340.2 600.2,342.5 600.5,341.1 600.8,342.9 601.2,344.9 601.5,343.4 601.9,345.6 602.3,344 602.6,344.2 603,345.3 603.4,344 603.8,343.3 604.1,345.6 604.5,345.2 604.9,346.6 605.3,348.7 605.6,347.7 606,345.7 606.4,348.2 606.8,346.1 607.1,346.3 607.5,350.8 607.9,348 608.3,347.3 608.6,349.6 609,349.8 609.4,350.9 609.8,350.5 610.1,350.8 610.5,352.4 610.9,351.6 611.3,351.2 611.6,352.6 612,352.1 612.4,354.3 612.8,353.4 613.2,353.5 613.6,353.5 614,355 614.4,355.8 614.8,354.6 615.2,353.1 615.5,356.4 615.9,355 616.3,356.9 616.7,355.8 617.1,357.3 617.5,356.8 617.9,356.5 618.3,356.2 618.7,357.9 619,358.5 619.4,356.8 619.8,356.8 620.2,359.6 620.6,361.8 621,359 621.4,359.9 621.8,360.1 622.1,359.4 622.5,363 622.8,359.6 623.2,362.2 623.5,361.4 623.9,363.3 624.2,364.8 624.6,363.5 624.9,363.3 625.3,365.3 625.6,364 626,362.5 626.3,366.7 626.7,364.8 627,366 627.4,368.4 627.7,367.6 628.1,367.2 628.4,369.2 628.8,366.4 629.1,365.8 629.5,366.8 629.8,368.7 630.2,369.2 630.5,368.4 630.9,371.9 631.2,371 631.5,370.5 631.9,370.3 632.4,370.6 632.9,371.1 633.3,370.4 633.8,373.1 634.3,373 634.8,371.8 635.3,371 635.8,368.9 636.2,372.4 636.7,370.3 637.2,372.5 637.7,371.8 638.2,369.6 638.6,371.4 639.1,371.2 639.6,371.2 640.1,371.4 640.6,371.7 641.1,371.3 641.5,372.7 642,371.9 642.4,371.8 642.8,372.1 643.2,372.2 643.5,372.5 643.9,373.1 644.3,373.9 644.7,373.5 645.1,371.8 645.4,374.6 645.8,373.7 646.2,375.1 646.6,377.9 647,377.1 647.3,373.7 647.7,374.1 648.1,377.2 648.3,376.1 648.6,375.5 648.8,375.7 649.1,378.2 649.3,377.7 649.6,379.1 649.8,379.2 650,380 650.3,379.8 650.5,379.7 650.8,382.1 651,383.6 651.3,380.9 651.5,382.2 651.7,385.2 652,381.8 652.2,382.1 652.5,384.7 652.7,385.6 653,384.8 653.2,386.8 653.4,385.5 653.7,386.3 653.9,386.4 654.2,387 654.5,387.3 654.8,389.5 655.1,389 655.4,390.5 655.7,388.5 656,388.1 656.3,388.7 656.6,389.3 656.9,390.7 657.2,390.1 657.5,391.4 657.8,391.9 658.1,390.2 658.4,390.2 658.7,394.3 659,392 659.3,395.7 659.6,393.2 659.9,392.1 660.2,392.8 660.5,393.7 660.8,397.6 661.1,392.9 661.4,393.3 661.7,395 662,396.7 662.3,398 662.6,398.7 662.9,396.4 663.2,400.2 663.5,400.2 663.8,397.9 664.1,399.9 664.4,400 664.7,399.6 665,399.6 665.3,399.7 665.6,401.5 665.9,400.5 666.2,402.8 666.5,402.9 666.8,400.1 667.1,403.2 667.4,402.8 667.7,404.5 668.1,403.2 668.4,404.6 668.5,405.7 668.7,406.2 668.9,406.2 669,403.9 669.2,406.2 669.4,408.2 669.6,408.4 669.7,408.4 669.9,408 670.1,408.3 670.3,407 670.4,406.8 670.6,409.5 670.8,411.3 671,410.2 671.1,410.3 671.3,411.2 671.5,413.8 671.7,411.5 671.8,412.6 672,413.7 672.2,415.1 672.3,414.7 672.5,413.8 672.7,414.2 672.9,413.8 673,415.5 673.2,417.6 673.4,416.9 673.6,416.5 673.7,416 673.9,417.5 674.1,419.5 674.3,419.7 674.4,419.5 674.6,420.9 674.8,421.9 674.9,420.8 675.1,421.9 675.3,418.7 675.4,422.7 675.6,421.8 675.8,423 675.9,421.8 676.1,423.1 676.3,422.3 676.5,424.3 676.7,423.4 677,426.8 677.2,425.4 677.5,426.5 677.8,425.9 678,427.1 678.3,426.7 678.6,427 678.8,429.4 679.1,428.2 679.4,428 679.6,429.6 679.9,433.3 680.2,432.6 680.4,432 680.7,432.5 680.9,433 681.2,433.7 681.5,436.2 681.7,436.2 682,434.8 682.3,432.6 682.5,435 683.4,437 684.3,437.1 685.2,439.5 686.1,439.6 687,441.8 687.9,442.9 688.8,442.7 689.7,442.6 690.6,445.4 691.5,445.6 692.4,446.3 693.3,448.8 694.2,451.5 695.1,450.2 696,451.1 696.9,451.1 697.8,454.2 698.7,454.8 699.5,456.1 700.4,459.1 701.2,458.2 702,460.4 702.8,459.3 703.6,461.4 704.4,460.6 705.2,464.1 706,466.1 706.8,464.4 707.6,464.7 708.5,467.3 709.3,467.9 710.1,470.3 710.9,467 711.7,470.1 712.5,472.8 713.3,473.4 714.1,472.4 714.9,475.4 715.6,476.4 716.3,477.3 717,478 717.6,479.3 718.3,481.6 719,479.6 719.7,479.9 720.3,485 721,483.8 722.4,484.8 723.7,483.8 725.1,483.3 726.1,482.4 727.1,486 728.1,485.7 729.1,486.4 730.1,487.8 731.1,488.7 732.3,492.4 733.4,489.5 734.5,491.2 735.6,491.3 736.8,492.9 737.9,493.3 739,493.4 740.1,494.7 741.3,495.3 742.2,496.5 743.1,498.8 744,497.8 744.9,498.7 745.8,500.6 746.7,500.4 747.6,502.2 748.5,503.4 749.4,502.1 750.7,503.7 752.1,503 753.4,501.3 754.8,502 756.1,501.9 757.5,504.9 758.5,507.2 759.5,506.2 760.5,506.9 761.5,506.1 762.5,511.8 763.5,512.2 764.6,511 765.6,511 766.7,511.8 767.9,511.6 769,511.2 770.2,512 771.4,512.8 772.5,513.8 773.7,515.7 775,513.9 776.4,516.3 777.7,515.9 779.1,517.2 780.4,517.8 781.8,516.8 782.8,518 783.8,516.6 784.8,517.8 785.8,522.2 786.8,518.1 787.8,521 788.9,523.8 789.9,522.6 790.9,522.6 791.9,524 792.9,521.6 793.9,519.4 794.9,519.4 795.9,517.7 797.2,519.5 798.4,520.2 799.6,519.5 800.8,520.9 802,521.7 803.2,521.9 804.5,522 805.7,525.1 806.9,520.6 808.1,524.4 809.3,527.1 810.4,526.4 811.6,524.4 812.7,525.3 813.9,530.8 815,529.3 816.2,528.6 817.1,529.9 817.9,530.2 818.8,532.4 819.7,531.2 820.5,534.1 821.4,534.7 822.3,535.9 823.1,538.4 824,534.6 824.9,538.5 825.8,540 826.6,541 827.5,541.6 828.4,542.8 828.8,545.7 829.3,544.1 829.7,546.4 830.2,548.5 830.6,548 831.1,551.2 831.5,549.3 832,553.8 832.4,552.8 832.6,555.4 832.9,556.6 833.1,555.4 833.4,558.6 833.6,559.3 833.9,560.1 834.1,560.8 834.3,562.9 834.6,563.4 834.8,564.8 834.9,566 834.9,567.3 835,568.4 835.1,569.5 835.1,570.9 835.2,571.8 835.2,573.4 835.3,574.5 835.3,575.7 835.4,576.9 835.4,578.2 835.5,579.5 835.5,580.5 835.6,581.7 835.6,583" fill="none" stroke="#00ffff" stroke-width="2.5" stroke-linejoin="round"/>
<polyline points="301.3,171.6 302,172.8 302.8,173.8 303.5,174.9 304.2,175.8 305,177.1 305.7,178.2 306.5,179.6 307.2,180 308,182.1 308.7,181.8 309.5,183.6 310.2,185 310.9,185.7 311.7,186.6 312.4,187.9 313.2,189.3 313.9,190.3 314.7,190.5 315.5,192.3 316.3,192.9 317.1,194.7 317.9,195 318.7,196.4 319.5,197.8 320.3,198.2 321,199.5 321.8,200 322.6,201.3 323.4,201.6 324.2,203.1 325,204.2 325.8,205.2 326.6,206.9 327.5,206.6 328.5,207.6 329.4,209.5 330.4,210.6 331.3,211.4 332.3,212.8 333.2,214.2 334.2,213.9 335.1,214.4 336.1,215.9 337,217.6 338,218.2 338.9,218.8 339.9,220 340.8,220.9 341.8,221.4 342.8,222.8 343.8,222.9 344.8,224.1 345.8,224.8 346.8,226 347.8,227.4 348.9,227.5 349.9,228.6 350.9,229.9 351.9,230.5 352.9,230.6 353.9,232.4 354.9,232.4 355.9,233.4 357,234.5 358,236.1 359.1,235.2 360.2,236.3 361.3,237.4 362.4,237.4 363.5,238.8 364.6,240.3 365.6,238.9 366.7,240.9 367.8,241.1 368.9,243.7 370,243.5 371.1,244.2 372.2,244.5 373.2,244.5 374.2,246.1 375.2,247.1 376.2,247.6 377.2,249.7 378.2,249.7 379.2,249.1 380.3,250.3 381.3,251.6 382.3,251.8 383.5,252.2 384.7,252 385.9,252.9 387,253.1 388.2,252.7 389.4,254.5 390.6,253.1 391.8,254.5 393,253.2 394.2,253.5 395.4,254 396.6,254.4 397.8,255.7 399,253.8 400.1,257 401.3,254.5 402.5,256.4 403.7,256.3 404.8,256 406,257.5 407.1,256.5 408.3,257.2 409.4,257.5 410.6,259.5 411.7,257.1 412.9,260.1 414,258.3 415.2,258.1 416.3,258.6 417.5,260.5 418.6,259.4 419.8,259.1 420.9,260.7 422.1,260.7 423.2,261.7 424.4,259.8 425.5,262.6 426.7,262.6 427.8,261.5 429,261.5 430.1,262.4 431.3,261.9 432.5,263 433.6,263 434.8,262.5 435.9,261.6 437.1,261.1 438.2,263.2 439.4,261.8 440.5,264.3 441.7,265.1 442.8,263.6 444,264.5 445.1,265 446.3,264.7 447.4,262.9 448.6,263.2 449.7,263.8 450.9,264.5 452,263.7 453.2,264.9 454.3,266.2 455.4,264.6 456.5,265.1 457.6,264.3 458.7,265.3 459.8,266.5 460.9,267 462,266 463.1,265.1 464.2,268 465.3,264.4 466.4,265.9 467.5,265.7 468.6,266.6 469.7,267.3 470.8,266.4 471.9,268.9 473,269.1 474.1,268.1 475.2,266.9 476.3,265.9 477.4,268.9 478.5,268.1 480,269.4 481.1,270.7 482.1,269.8 483.2,267.9 484.3,267.5 485.3,269 486.4,269.6 487.5,270.2 488.5,269.9 489.6,269.5 490.7,268.9 491.7,270.3 492.8,270.6 493.9,269.2 494.9,268.9 496,269.5 497.1,268.9 498.1,270.3 499.2,268.8 500.3,270.3 501.3,269.4 502.3,271 503.3,272.7 504.3,269.6 505.3,271.1 506.3,273.1 507.3,272.2 508.4,271.6 509.4,272.1 510.4,271.4 511.4,270.3 512.4,270.1 513.4,271.3 514.4,271.6 515.4,273.7 516.5,272.9 517.5,271 518.5,273.4 519.5,271.7 520.5,273.7 521.5,272.3 522.4,274.6 523.4,274 524.4,273.6 525.3,275.6 526.3,274.4 527.3,273 528.2,275.6 529.2,274.3 530.2,275.1 531.1,276.1 532.1,276.9 533,276.5 534,275.4 535,276 535.9,275.8 536.9,277 537.9,276.8 538.8,278.6 539.8,277.2 540.8,278.7 541.7,280.4 542.7,279 543.6,278.4 544.6,280.1 545.5,277.9 546.5,278.9 547.4,280.6 548.4,279.9 549.3,279.1 550.3,279.1 551.2,279 552.2,281.4 553.1,282 554.1,281.6 555.1,280.1 556,280.5 557,280 557.8,278.4 558.6,279.8 559.4,279.2 560.2,276.4 561,276.9 561.2,276.7 561.5,274.3 561.7,275.5 561.9,274.7 562.1,271.8 562.4,271.6 562.6,271.8 562.8,270.9 563,269.1 563.3,268.1 563.5,267.1 563.7,266.9 563.9,266.1 564.2,264.5 564.4,263.3 564.6,262.8 564.8,261.8 565.1,260.9 565.3,258.8 565.6,259.4 565.8,259.4 566.1,257.8 566.3,258.1 566.6,256.4 566.8,255.9 567.1,255.2 567.3,251.6 567.6,253.4 567.8,252.9 568.1,250.5 569.1,248.3 570.1,249.5 570.4,250.2 570.6,251.8 570.9,250.2 571.1,252.6 571.4,252.2 571.6,254.7 571.9,255 572.2,256.2 572.4,256 572.7,256.9 572.9,259.3 573.2,258.8 573.3,259.8 573.5,260.2 573.6,261.1 573.7,261.6 573.9,263.7 574,264.3 574.2,264.2 574.3,266.5 574.5,266.1 574.6,267.8 574.8,266.8 574.9,267.9 575,268.6 575.2,271.2 575.3,271.3 575.5,271.1 575.6,272.4 575.8,272.9 575.9,273.6 576.1,273.8 576.2,275.6 576.4,276.3 576.6,276 576.8,277.8 576.9,279 577.1,279.2 577.3,279.4 577.5,281 577.7,281.9 577.9,283.7 578,282.1 578.2,283.7 578.4,284.1 578.6,284.4 578.8,285.6 579,285 579.1,286.3 579.3,286.4 579.5,288.7 579.7,288.8 579.9,289 580.1,290.3 580.3,291.7 580.6,291.5 580.9,290.4 581.2,295.8 581.5,293.5 581.8,295.7 582.2,293.8 582.5,295.3 582.8,296.6 583.1,297.5 583.4,297.1 583.7,300.8 584.1,298 584.4,299.2 584.7,302.8 585,301.1 585.3,300.8 585.7,303 586.2,303.4 586.6,305 587,306.3 587.4,304.5 587.9,306.4 588.3,305.5 588.7,304.7 589.1,305.4 589.6,305.8 590,307.3 590.1,308.2 590.2,306 590.3,304.9 590.4,305.1 590.5,303.7 590.6,304.7 590.7,304.7 590.8,303.1 590.9,302.1 591,301.3 591.1,301.3 591.2,300.9 591.3,300.4 591.5,298.8 591.6,298.6 591.7,296.8 591.8,297.4 591.9,297.3 592,296.7 592.1,294.7 592.2,293.7 592.3,295.4 592.4,293.5 592.6,292.6 592.8,292.8 593,291.5 593.1,292 593.3,291.6 593.5,289.2 593.7,287.7 593.9,288.3 594.1,286 594.2,289.2 594.4,287.3 594.5,287.3 594.6,288.8 594.7,289.6 594.8,289.4 594.9,289.6 595,289.6 595.1,290.7 595.2,291.3 595.3,291.3 595.4,292.8 595.4,293.7 595.5,293.9 595.6,295.9 595.7,295.2 595.8,296.1 595.9,297.6 596,298 596.1,297.5 596.2,298.2 596.3,298.4 596.4,299.2 596.5,299.6 596.6,298.8 596.7,299.4 596.8,301.8 596.9,303.3 597,302.4 597.1,301.9 597.2,302.2 597.4,305.2 597.5,306 597.6,305.9 597.7,305.3 597.8,305.5 597.9,307.4 598,306.7 598.1,306.6 598.3,306.4 598.4,308 598.5,308.8 598.6,308.8 598.7,311.4 598.8,309.8 598.9,312.2 599,311.8 599.2,312 599.3,313.5 599.4,312.1 599.5,314.5 599.8,313.4 600.1,313.9 600.4,315.7 600.7,315.7 601,314.6 601.3,317.5 601.6,315.2 601.9,317.1 602.2,316.3 602.5,317.6 602.8,319.2 603.1,318.4 603.4,317.7 603.7,321 604.1,320.6 604.4,319.1 604.7,320 605,320.3 605.3,324.2 605.6,322 606,324.4 606.3,323.6 606.7,324.1 607.1,323.5 607.5,320.9 607.9,323.6 608.3,324.7 608.7,323.5 609,327.3 609.4,325.4 609.8,325.5 610.2,323.2 610.6,327.7 611,328.2 611.4,324.8 611.7,325.3 612.1,329 612.5,326 612.9,328.7 613.3,328.2 613.7,329.7 614.1,329.1 614.5,330.2 615,329.3 615.4,327.3 615.8,330 616.2,332.6 616.7,330.5 617.1,331.4 617.5,331.3 617.9,332.6 618.4,332.7 618.8,333.9 619.2,330.9 619.6,330 620.1,334.5 620.5,332.5 620.9,333.6 621.3,336.1 621.8,333.9 622.1,337.1 622.5,334.8 622.8,332.4 623.2,335.5 623.5,336.1 623.9,336.4 624.2,336.3 624.6,339.8 624.9,339.5 625.3,339 625.6,337.3 626,338.2 626.4,339.4 626.7,341.4 627.1,337.1 627.4,341.8 627.8,342 628.1,341.1 628.5,341.5 628.8,340.3 629.2,341.2 629.5,343.9 629.9,342.6 630.2,344.6 630.5,344.2 630.8,342.8 631.2,345.2 631.5,346.8 631.8,347.3 632.1,345.9 632.4,342.9 632.8,346.9 633.1,343.3 633.4,349 633.7,345.6 634,345.4 634.4,349.3 634.7,348.8 635,348.4 635.3,351 635.6,348.5 635.9,349.7 636.2,349.7 636.5,349.4 636.7,349 637,348.5 637.2,344.4 637.5,346.2 637.7,346.7 638,344.6 638.2,346.8 638.5,344.5 638.7,343 639,345.1 639.2,342.4 639.5,342.4 639.7,342.5 640,341.8 640.3,342.5 640.5,343.1 640.8,340.3 641,341.4 641.3,340 641.5,339.8 641.8,338.2 642,339.5 642.2,339 642.4,339.6 642.6,339.7 642.8,339.7 642.9,342.3 643.1,341.6 643.3,340.3 643.5,344.5 643.7,345.9 643.9,342.7 644.1,344.7 644.3,342.8 644.5,343.6 644.8,344.2 645,341.1 645.2,340.5 645.5,340.9 645.7,341.8 646,341.9 646.2,339.6 646.4,340.3 646.7,342.6 646.9,339.7 647.1,336.6 647.4,339.1 647.6,336 647.9,336.5 648.1,336.8 648.3,339.3 648.4,341.1 648.6,340.7 648.7,340.7 648.9,338.4 649,342.3 649.2,342.6 649.3,339.2 649.5,344.3 649.6,342.2 649.8,342.4 649.9,343.9 650.1,346.1 650.2,343.3 650.4,345.7 650.5,347.1 650.7,344.8 650.8,347.6 651,346.1 651.1,346.2 651.3,347 651.4,347.8 651.5,349.3 651.6,350.2 651.7,349.7 651.8,349.3 652,349.7 652.1,349.9 652.2,348.4 652.3,351.6 652.4,353.3 652.5,350.8 652.7,352.7 652.8,353 652.9,353.3 653,352.5 653.1,352.5 653.2,354.9 653.4,355.5 653.5,354.8 653.6,357.1 653.7,356.4 653.8,357.4 653.9,357.2 654.1,359.5 654.2,358.7 654.4,358.9 654.5,357.1 654.7,362.8 654.9,361.7 655.1,363.6 655.3,359.5 655.4,361.5 655.6,361.8 655.8,361.4 656,363.2 656.2,363.5 656.3,365.5 656.5,365.5 656.7,362.8 656.9,366.4 657.1,365.2 657.3,368.2 657.4,367.8 657.6,368.1 657.8,365.9 658,367.8 658.2,370.3 658.3,368.4 658.5,370.5 658.7,367.2 658.9,368.4 659.1,370.1 659.2,370.4 659.4,368.8 659.5,370.7 659.7,369.1 659.8,369.3 659.9,368.2 660.1,369.4 660.2,364.7 660.3,364.3 660.5,367 660.6,367.8 660.8,365.8 660.9,365.8 661,364.3 661.2,365.6 661.3,364.4 661.4,362.3 661.6,365.2 661.7,361.6 661.9,359.5 662,363.1 662.1,360.9 662.3,360.6 662.4,359.7 662.5,361.8 662.6,361.8 662.6,362.2 662.7,364.2 662.8,363.4 662.9,364.7 663,363.7 663.1,364.7 663.2,364.5 663.3,366.2 663.4,366.9 663.5,366.9 663.6,366.8 663.7,366 663.8,367.6 663.8,370 663.9,369 664,369.9 664.1,371.4 664.2,369.9 664.3,370.5 664.4,371.3 664.5,372.5 664.6,373.5 664.7,373 664.8,372.5 664.9,373.6 664.9,374.1 665,375.7 665.1,373.7 665.2,375.7 665.3,375.8 665.6,377.3 665.9,376.6 666.2,378.5 666.5,377.4 666.8,377.8 667.1,380.9 667.4,376.9 667.7,381.6 668,379.7 668.3,378.7 668.6,381.5 668.9,379.3 669.2,380.3 669.5,379.8 669.8,382.5 670.1,379.5 670.4,381.6 670.6,380.1 670.8,382.4 670.9,382.3 671.1,381.7 671.3,378.7 671.5,378.6 671.7,376.8 671.9,378.7 672.1,376.6 672.3,377.4 672.5,374.8 672.7,376.6 672.8,379.1 673,375.3 673.2,375.3 673.4,374.4 673.5,374.4 673.6,375.5 673.6,374.9 673.7,375.7 673.8,377.3 673.9,375.9 673.9,378 674,376.9 674.1,378.2 674.2,379.3 674.2,378.9 674.3,380.8 674.4,379.6 674.5,381.1 674.5,382.9 674.6,382 674.7,381.8 674.8,383.3 674.8,383.7 674.9,383 675,384.2 675.1,384.2 675.1,384.8 675.2,385.4 675.3,384.5 675.4,386.3 675.4,386.7 675.6,389.6 675.7,387.6 675.9,386.5 676.1,389.6 676.2,391.3 676.4,392.1 676.5,387 676.7,393.4 676.8,390.4 677,389.4 677.1,393.7 677.3,392.5 677.4,390.7 677.6,393.5 677.7,392.8 677.9,393.6 678.1,391.6 678.2,394.7 678.4,395.8 678.5,395.1 678.7,395.2 678.8,395 679,399.8 679.1,397 679.3,396 679.4,396.8 679.6,398.9 679.7,398.8 679.9,397.2 680,398.9 680.2,399.3 680.4,401.7 680.5,400.8 681.5,400.3 682.5,399.7 683.5,404.1 684.6,404.2 685.6,402.9 686.6,405.6 687.6,406 688.6,408.2 689.6,409.4 690.6,411.7 691.6,410 692.7,410.4 693.7,413.9 694.7,413.1 695.7,412.9 696.7,414.8 697.3,416.4 697.9,419.9 698.4,419.3 699,421.4 699.6,423 700.2,425.9 700.8,424.1 701.3,426.7 701.9,426.7 702.5,427.6 703.1,428.4 703.7,431 704.2,430.6 704.8,432.6 706.3,432 707.8,431.9 708.5,433.3 709.1,434.1 709.7,436.7 710.4,436.8 711,438.9 711.6,439 712.3,439.1 712.9,442.9 714.3,444.7 715.6,444.4 717,442.3 718.3,442.6 719.7,444.1 721,443.8 721.7,448.5 722.4,447.6 723,448.9 723.7,448.9 724.4,451.3 725.1,453.3 725.7,451.2 726.4,452.1 727.1,455 728.4,456 729.6,452.4 730.9,454.9 732.2,453.2 732.9,453 733.6,458.3 734.3,456 735,457.8 735.8,460.4 736.5,460.3 737.2,461 738.7,460.2 740.3,460.6 741.8,461 743.3,459.8 744,464.8 744.6,462.6 745.3,465 746,463.9 746.7,467.6 747.3,467.4 748,472 748.7,467.7 749.4,470.9 750.8,467.9 752.2,472.3 753.6,474.6 755,472 756.5,472.3 757.3,475.8 758.1,476 759,475.5 759.8,474.7 760.7,478.8 761.5,479.1 763,479.8 764.6,476.1 766.1,477.5 767.6,479.4 768.2,478.6 768.8,480 769.4,483 770,482.3 770.6,480.1 771.2,485.6 771.8,487.1 772.5,486.3 773.1,489.1 773.7,488.8 774.7,488.8 775.7,487.2 776.7,487.3 777.7,485.8 778.7,485.7 779.7,490.5 780.8,487.6 781.8,489.3 782.6,489.3 783.4,491.2 784.2,495.6 785,493.4 785.8,494.4 786.3,493.5 786.7,491.7 787.2,491.5 787.7,486.9 788.1,489.3 788.6,485.2 789,487.3 789.5,485.6 790,483.8 790.4,482 790.9,481.9 791.6,482 792.3,479.8 793.1,483.3 793.8,485.9 794.5,485.7 795.2,489.4 795.9,489.9 796.5,486.4 797,484.6 797.5,485.8 798,484.1 798.5,480.3 799,482.5 799.3,482.4 799.6,484.6 799.9,483.1 800.2,487.5 800.5,487.6 800.8,491 801.1,490.2 801.4,494.1 801.7,491.2 802,494.9 802.8,492.5 803.5,495.5 804.3,493.7 805.1,497 805.8,498.5 806.6,498 807.3,500.2 808.1,502.8 809.4,499.9 810.6,499.1 811.9,503 813.2,500.8 813.6,502.6 814.1,506.4 814.5,504.3 815,503.3 815.5,505.3 815.9,506.5 816.4,508.9 816.8,513.3 817.3,512.9 817.8,512.8 818.2,515.3 819.2,516 820.3,511.1 821.3,511.9 822.3,510.3 823.3,509.7 823.6,508.9 823.9,510.5 824.2,513.4 824.5,514.4 824.8,518.4 825.2,517.3 825.5,520.4 825.8,519.9 826.1,519.1 826.4,521.4 826.7,522.6 827,522.4 827.3,525.4 827.5,526.6 827.7,527.4 827.9,528.1 828.2,530.2 828.4,531.1 828.6,532.7 828.8,534.8 829,534.3 829.2,535.6 829.4,537.9 829.5,538.9 829.6,540.2 829.7,541.5 829.8,543 829.9,544.2 830,545.6 830.1,546.8 830.2,548.1 830.3,549.3 830.4,550.6 830.5,551.7 830.6,553.2 830.7,554.6 830.8,555.4 830.9,556.7 831,558.2 831.1,559.4 831.2,560.3 831.3,561.3 831.4,562.8" fill="none" stroke="#ff00ff" stroke-width="2.5" stroke-linejoin="round"/>
<polyline points="301.3,163 302,163.8 302.8,165.6 303.6,166 304.4,167.7 305.2,168 305.9,170.1 306.7,170.8 307.5,172.6 308.3,173.4 309.1,174.2 309.8,175.1 310.6,176.6 311.4,177.5 312.4,177.9 313.4,179.5 314.4,179 315.4,180.8 316.5,182.7 317.5,182.8 318.5,182.6 319.5,184.8 320.5,185.2 321.5,185.6 322.5,186.4 323.5,187.7 324.6,188.9 325.6,189.2 326.6,190.5 327.5,190.6 328.5,192.4 329.4,191.8 330.4,192.4 331.3,194.4 332.3,195.5 333.2,197.5 334.2,196.9 335.1,198.2 336.1,198 337,199.7 338,201 338.9,201.2 339.9,203.1 340.8,204.2 341.8,204.2 342.9,204.6 344.1,205.1 345.3,206.3 346.4,205.6 347.6,207.7 348.8,207.1 350,208.4 351.1,207.9 352.3,208.6 353.5,209.3 354.6,210.9 355.8,211.1 357,211.7 358,213.2 359.1,212.2 360.2,214.3 361.3,213.7 362.4,214 363.5,215 364.6,217.1 365.6,218.3 366.7,216.9 367.8,217 368.9,217.2 370,219.3 371.1,220.3 372.2,220.7 373.3,221 374.5,222.4 375.7,221.3 376.9,222 378.1,221.5 379.2,221.1 380.4,220.3 381.6,222.6 382.8,222.2 384,222.5 385.1,222.7 386.3,223.6 387.5,223.9 388.7,221.9 389.9,224.2 391.1,225.1 392.3,225.2 393.5,224.8 394.7,225.5 395.9,223.7 397.1,226.2 398.3,225.7 399.5,226.3 400.7,227.3 401.9,226.9 403.1,225.6 404.3,224.9 405.5,226.9 406.8,227.7 408,228.2 409.2,229.4 410.4,228.9 411.6,229 412.8,226.8 414,230.1 415.2,229.4 416.3,231.9 417.5,230.6 418.6,229 419.8,230.2 420.9,231 422.1,229.3 423.2,228.6 424.4,231.3 425.5,230.3 426.7,230.9 427.8,231.4 429,231.1 430.1,232.6 431.3,232.1 432.5,232.3 433.6,233.2 434.8,232.3 435.9,230.9 437.1,232.7 438.2,231.2 439.4,233.3 440.5,232.7 441.7,233.3 442.8,235 444,234.4 445.1,232.6 446.3,232 447.4,233.3 448.6,235.3 449.7,234.8 450.9,232.3 452,235.4 453.2,234.8 454.3,235.5 455.5,236.4 456.6,233.7 457.8,235.6 458.9,235.2 460.1,236.5 461.2,234.9 462.4,233.6 463.5,235.7 464.7,236.8 465.8,235.6 466.9,235.4 468,235.9 469.1,235.6 470.2,235.2 471.3,235.2 472.4,237.7 473.5,235.2 474.5,236 475.6,237.3 476.7,237.2 477.8,233.7 478.9,234.8 480,235.3 481.1,235.8 482.1,233.7 483.2,234.5 484.3,236.3 485.3,237.1 486.4,235.3 487.5,237.3 488.5,238.8 489.6,236 490.7,239.1 491.7,237.5 492.8,235.2 493.9,238.1 494.9,238.2 496,240.2 497.1,237.5 498.1,241 499.2,238.7 500.3,239.1 501.3,238.8 502.3,240 503.3,241.2 504.3,239.7 505.3,239.2 506.3,241 507.3,240 508.4,240.9 509.4,242.1 510.4,241.1 511.4,241.6 512.4,241.6 513.4,241.7 514.4,242.9 515.4,243.5 516.5,242.5 517.5,240 518.5,240.5 519.5,243.8 520.5,243.6 521.5,244.9 522.4,242.8 523.4,244 524.4,243.2 525.3,244.7 526.3,244.3 527.3,243.3 528.2,245.7 529.2,245.2 530.2,247.9 531.1,247.2 532.1,243.8 533,247.3 534,245.1 535,245.7 535.9,246.6 536.9,245.3 537.9,249.9 538.8,248.7 539.8,246.6 540.8,248.5 541.7,245.5 542.7,250.1 543.6,248.7 544.6,249.1 545.5,250.2 546.5,249.4 547.4,250.1 548.4,248.2 549.3,250.3 550.3,249.4 551.2,250.8 552.2,249.9 553.1,251 554.1,249.9 555.1,249 556,249.9 557,251.5 557.7,250.2 558.5,250.2 559.2,249.1 560,250.4 560.8,247.5 561.5,245.3 562.3,246.6 563,246.8 563.3,247.5 563.5,244.5 563.7,243.9 563.9,244.2 564.1,243.6 564.3,241.5 564.5,242.5 564.7,239.8 565,239.5 565.2,237.5 565.4,235.5 565.6,236 565.8,235.3 566,234.1 566.2,236.3 566.4,231.6 566.7,233.1 566.9,233.4 567.1,231 567.3,230.5 567.4,228.6 567.6,227.8 567.8,228.7 568,228.2 568.2,225.3 568.3,225.4 568.5,224.2 568.7,224 568.9,221.8 569.1,222.6 569.2,220.4 569.4,220.3 569.6,218.5 569.8,219.3 569.9,217.2 570.1,216.9 570.5,215.8 570.9,216.4 571.3,215 571.7,216.3 572.2,212.1 572.4,214.8 572.7,213.3 572.9,215.1 573.2,213 573.4,218.4 573.7,214 573.9,219.2 574.2,218.5 574.3,219.4 574.4,220.2 574.5,220.9 574.6,221.8 574.7,222.5 574.8,223.2 574.9,224.1 575,225 575.1,225.7 575.2,226.4 575.3,227.2 575.4,228 575.5,228.9 575.6,229.6 575.7,230.3 575.8,231.1 575.9,231.7 576,232.6 576.1,233.5 576.2,234.2 576.3,235 576.4,235.9 576.5,236.6 576.6,237.4 576.7,237.8 576.8,238.9 576.9,239 577.1,239.9 577.2,241.1 577.3,242.3 577.4,240.9 577.5,244.5 577.7,244.4 577.8,244.6 577.9,244.5 578,245 578.2,248.1 578.3,246.9 578.4,248 578.5,248.7 578.7,249.5 578.8,252 578.9,252.6 579,251 579.1,251.8 579.3,254.6 579.4,254.3 579.5,254 579.6,255 579.8,257 579.9,256.8 580,257.6 580.1,260 580.3,259.4 580.6,258.3 580.9,261.4 581.2,259.2 581.5,260.5 581.8,261.6 582.2,260.9 582.5,264.1 582.8,264.2 583.1,264.7 583.4,267.1 583.7,268.1 584.1,266.5 584.4,269.6 584.7,270.4 585,267.9 585.3,269.8 585.7,267.8 586.2,268.1 586.6,270.8 587,273.1 587.4,275.2 587.8,272.5 588.3,275.2 588.7,270.9 589.1,274.5 589.5,276.8 590,273.8 590.4,275.3 590.5,274.8 590.5,274.4 590.6,273.4 590.7,272.8 590.8,272.5 590.9,271.9 591,271.3 591.1,270.5 591.1,270 591.2,269.7 591.3,268.8 591.4,268.4 591.5,267.8 591.6,266.9 591.6,266.4 591.7,266 591.8,265.3 591.9,264.7 592,264 592.1,263.5 592.2,262.9 592.2,262.6 592.3,261.8 592.4,261.3 592.6,263.1 592.8,260.9 593,259.5 593.1,260.4 593.3,255.3 593.5,257.4 593.7,257.9 593.9,256.6 594.1,256 594.2,255.9 594.4,254.8 594.5,256.7 594.6,255.6 594.7,257.6 594.8,256.4 594.9,259.6 595,259.1 595.1,257.1 595.2,258 595.3,258.7 595.4,260.3 595.4,260.8 595.5,263.3 595.6,264 595.7,261.3 595.8,262.8 595.9,262.1 596,263.7 596.1,265.2 596.2,266.1 596.3,266.4 596.4,268.2 596.5,266.8 596.6,266.9 596.7,268.6 596.8,270 596.9,269.2 597,270.4 597.1,272.5 597.2,270.3 597.4,271.7 597.5,270.8 597.6,273.7 597.7,271.1 597.8,273.8 597.9,276.4 598,274.7 598.1,274.7 598.3,276 598.4,276.5 598.5,276.3 598.6,276.6 598.7,277.9 598.8,278.5 598.9,277.8 599,279.7 599.2,279.1 599.3,280 599.4,280.3 599.5,280.5 599.8,278 600.1,285.4 600.4,280.5 600.7,281.6 601,283.6 601.3,285.5 601.6,283.8 601.9,282.8 602.2,286.7 602.5,286.8 602.8,284.7 603.1,286.3 603.4,286.8 603.7,290.9 604.1,288.3 604.4,285.8 604.7,288.4 605,285.8 605.3,289.9 605.6,290.3 605.9,292.4 606.3,291.3 606.6,289.6 607,290.7 607.3,289.7 607.7,291.4 608,288.6 608.4,288.4 608.7,292.9 609.1,292.3 609.4,291.2 609.8,292.2 610.1,295.5 610.5,293.6 610.9,296.4 611.2,296.3 611.6,293.3 611.9,299.2 612.3,298.3 612.6,294.7 613,297 613.3,295 613.7,297.5 614.1,300.1 614.5,297.4 614.9,296.8 615.3,299.9 615.7,297.1 616.1,299.5 616.5,302.3 616.9,301.4 617.3,298.8 617.7,299.6 618.1,303.3 618.5,304.9 618.9,300.4 619.3,301.5 619.7,300.5 620.2,300 620.6,300.7 621,302.3 621.4,305.9 621.8,304.6 622.1,308.1 622.5,302.8 622.8,302 623.2,306.6 623.5,302.1 623.9,304.1 624.2,308.6 624.6,308.8 624.9,309.2 625.3,305.3 625.6,309.5 626,308.8 626.4,306.6 626.7,310.1 627.1,312.6 627.4,308.1 627.8,313.9 628.1,311.2 628.5,309.8 628.8,306.5 629.2,309.1 629.5,309.6 629.9,310.9 630.2,313.7 630.5,314.4 630.7,313 631,313.2 631.3,313.2 631.6,312.2 631.9,313.6 632.2,319 632.5,313.4 632.8,317.6 633.1,317.9 633.3,316.4 633.6,318.7 633.9,316.7 634.2,316.9 634.5,317.5 634.8,320.9 635.1,318.4 635.4,314.8 635.7,319.7 635.9,319.7 636.4,320.3 636.8,320.1 637.3,321 637.7,325.1 638.2,322.1 638.6,322 639.1,317.9 639.5,320.2 640,321.8 640.1,321.3 640.1,320.9 640.2,320.2 640.2,319.8 640.3,319.4 640.4,319.1 640.4,318.5 640.5,318.2 640.5,317.9 640.6,317 640.7,316.6 640.7,316.3 640.8,315.4 640.8,315.2 640.9,314.7 641,314.6 641,313.7 641.1,313.4 641.1,313 641.2,312.1 641.3,311.7 641.3,311.6 641.4,310.8 641.4,310.8 641.5,309.9 641.5,309.3 641.6,308.9 641.7,308.8 641.7,308.1 641.8,308 641.8,306.8 641.9,306.5 642,306.3 642,305.8 642.1,305.8 642.2,307.3 642.3,305.9 642.3,308.7 642.4,308.1 642.5,308 642.6,308.7 642.7,309 642.8,310 642.8,308.2 642.9,310.6 643,310.3 643.1,310.7 643.2,313.8 643.2,313.1 643.3,312.8 643.4,313.5 643.5,316.4 643.6,314.8 643.6,314.3 643.7,315.8 643.8,316.4 643.9,316.1 644,319.3 644.1,316.9 644.1,317.7 644.2,318.8 644.3,319.4 644.4,318.9 644.5,320.2 644.8,321.9 645.2,321.1 645.6,319.2 646,319 646.3,322.4 646.7,319.1 647.1,317.8 647.2,317.2 647.3,320.3 647.4,315.5 647.6,319.3 647.7,315.7 647.8,316.3 647.9,314.6 648,315.7 648.1,315.2 648.3,312.5 648.4,311.7 648.5,309.6 648.6,310.1 648.7,312.3 648.8,311.3 649,310.4 649.1,309.7 649.2,309 649.3,310.3 649.4,308.3 649.5,307.9 649.7,310 649.8,307.1 649.9,306.5 650,305.6 650.1,305.3 650.3,305.1 650.4,308 650.6,303.9 650.7,306.3 650.9,306.8 651.1,303.9 651.2,310.6 651.4,305.9 651.5,309.7 651.7,310.5 651.8,308.9 652,309 652.2,312.7 652.2,312.1 652.3,312.1 652.4,312.3 652.4,313.5 652.5,313.4 652.6,313.3 652.6,315.9 652.7,314.5 652.8,316.8 652.8,317.4 652.9,317.8 653,318.2 653,317.1 653.1,318.9 653.2,318.9 653.2,319.9 653.3,319.6 653.4,321.7 653.4,321.3 653.5,322.2 653.6,323.6 653.6,321.5 653.7,322.7 653.8,321.9 653.8,322.6 653.9,323.5 654,325.3 654,324.3 654.1,327.4 654.2,326.5 654.4,327.3 654.5,331.5 654.7,328.8 654.9,326.5 655.1,328.1 655.2,333.3 655.4,331.3 655.6,327.7 655.8,332.3 655.9,332.1 656.1,333 656.3,330.3 656.5,328.6 656.6,328.1 656.8,330.4 657,332.6 657.2,331.8 657.3,332.9 657.5,335.2 657.7,333.4 657.9,335.6 658.1,332.8 658.2,336.5 658.6,341.2 658.9,338.2 659.2,336.7 659.6,334.8 659.9,342.3 660.3,340.9 660.6,341.6 660.9,338.1 661.3,341.9 661.6,339.3 661.9,340.6 662.3,338.3 662.5,340.8 662.6,342.2 662.8,345.3 663,346 663.2,345.9 663.3,344.7 663.5,343.6 663.7,343.8 663.9,347.8 664,340.9 664.2,344.7 664.4,341.1 664.6,343.8 664.7,347 664.9,348.5 665.1,343.3 665.3,346.1 665.4,343.4 665.6,350.7 665.8,349.1 666,354.3 666.2,345.9 666.3,350.3 666.8,355.4 667.2,350.1 667.7,352.2 668.1,347.6 668.6,349.1 669,355.1 669.5,349.4 669.9,350.1 670.4,353.7 670.8,356.4 671.2,355.1 671.5,348.2 671.9,351 672.3,354 672.7,349.1 673.1,351.1 673.5,352.6 673.9,356.2 674.3,349.8 674.7,350.1 675.1,351.8 675.4,355.4" fill="none" stroke="#800080" stroke-width="2.5" stroke-linejoin="round"/>
<polyline points="301.3,125.6 302.1,125.9 303,127.6 303.8,129.1 304.6,129.7 305.5,130.9 306.3,131.2 307.2,132.8 308,133.8 308.9,135.5 309.7,136.2 310.5,137.2 311.4,138.1 312.3,138.7 313.2,140.2 314.1,141.9 315,141.1 315.9,142 316.8,145.1 317.6,146 318.5,146.4 319.4,147.2 320.3,147.7 321.2,148.7 322.1,149.1 323,151.2 323.9,151.7 324.8,151.5 325.7,153.4 326.6,154.6 327.4,155.2 328.2,158 329,158.5 329.8,157.4 330.6,160.1 331.4,161.5 332.2,162.7 333,163.3 333.8,162.3 334.6,165.4 335.4,165.8 336.2,167.9 337,168.1 337.8,167.5 338.6,171.2 339.4,169.7 340.2,172.7 341,173.1 341.8,173.5 342.9,172.7 344,174.1 345.1,174.6 346.3,175.8 347.4,176.3 348.5,178.6 349.6,178 350.8,179.3 351.9,178.4 352.9,179.2 353.8,181.4 354.8,182.4 355.8,183 356.8,182.7 357.7,182.9 358.7,186.7 359.7,185 360.7,186.2 361.6,189.2 362.6,188.5 363.6,188.6 364.6,190.5 365.7,190.5 366.8,192.7 367.9,191.7 369,191.4 370.1,195 371.2,194.9 372.3,194.2 373.4,194.4 374.5,193.5 375.6,195 376.7,194.7 377.8,197.9 379,198.9 380.1,197.5 381.2,197.8 382.3,199.2 383.5,199.3 384.7,200.3 385.9,200.5 387,200.7 388.2,201.3 389.4,199.4 390.6,202.1 391.8,198.9 393,201.8 394.2,201.6 395.4,202.8 396.6,202.3 397.8,203.2 399,200.5 400.1,202.7 401.3,202.6 402.5,204.2 403.7,204.7 404.8,204.1 406,204.3 407.1,204.4 408.3,205.6 409.4,206.7 410.6,207.5 411.7,206.6 412.9,205.6 414,206.2 415.2,208.9 416.3,206.6 417.5,208 418.6,206.2 419.8,210.5 420.9,209.6 422.1,208.9 423.2,209.9 424.4,211.4 425.5,210.7 426.7,211.6 427.8,211.6 429,210 430.1,209.5 431.3,213.7 432.5,211.7 433.6,214.4 434.8,214.7 435.9,212.5 437.1,212.5 438.2,212.8 439.4,216.3 440.5,214.1 441.7,214 442.8,215.9 444,213.4 445.1,214.2 446.3,214.4 447.4,215.4 448.6,213.8 449.7,215 450.9,216.4 452,214.9 453.2,216.1 454.3,217.4 455.4,215.3 456.5,216.7 457.6,218.3 458.7,217.3 459.8,220.1 460.9,217.3 462,215.2 463.1,218.2 464.2,218.1 465.3,219 466.4,215.8 467.5,217.9 468.6,219.9 469.7,218.6 470.8,220.1 471.9,217.5 473,219.3 474.1,218.8 475.2,221.2 476.3,217.5 477.4,220.9 478.5,219.3 480,219.6 481.1,218.8 482.1,218.4 483.2,218 484.3,220.9 485.3,219.2 486.4,222.6 487.5,221.8 488.5,222 489.6,223.2 490.7,221.6 491.7,223.3 492.8,219.6 493.9,221.7 494.9,224.1 496,222.6 497.1,225.5 498.1,223.4 499.2,222.1 500.3,224.4 501.3,224.1 502.3,223.7 503.3,224.1 504.3,223.3 505.3,224.1 506.3,226.1 507.3,224 508.4,225 509.4,224.3 510.4,225.7 511.4,226.7 512.4,226.9 513.4,225.8 514.4,225.4 515.4,227.1 516.5,228.2 517.5,228.1 518.5,230.1 519.5,227.7 520.5,227.4 521.5,227.5 522.4,229.6 523.4,226.9 524.4,228.2 525.3,226.2 526.3,228.5 527.3,230.1 528.2,230.8 529.2,230.4 530.2,231.2 531.1,228.7 532.1,232.5 533,233 534,227.9 535,228.9 535.9,231.9 536.9,232.1 537.9,233.2 538.8,231.7 539.8,230 540.8,231.4 541.7,234.1 542.7,232 543.6,229.5 544.6,232 545.5,233.4 546.5,232.5 547.4,233.6 548.4,233.5 549.3,232.9 550.3,231.4 551.2,233.2 552.2,234.3 553.1,232.4 554.1,235.1 555.1,236.4 556,234.9 557,234 557.6,233.2 558.2,231.1 558.8,234.1 559.4,230.4 560,229.2 560.6,232.4 561.2,230.4 561.8,227.3 562.4,227.9 563,226.8 563.2,226.6 563.4,223.2 563.6,223.2 563.7,221.9 563.9,222.5 564.1,220.8 564.3,221 564.4,221.4 564.6,219.3 564.8,217.1 565,217 565.2,216.5 565.3,213.6 565.5,215.5 565.7,213.7 565.9,213.4 566,212.9 566.2,211.1 566.4,211.3 566.6,209.6 566.7,207.2 566.9,207.4 567.1,206.4 567.2,206.4 567.4,206.4 567.6,202.6 567.7,203.1 567.9,201.6 568,201.6 568.2,201.3 568.4,201.2 568.5,197.3 568.7,198.1 568.8,198.4 569,195.5 569.2,196.1 569.3,195 569.5,195.1 569.6,193.2 569.8,190.2 570,190.1 570.1,190.3 570.4,188.9 570.7,188 570.9,190 571.2,185.1 571.5,186.6 571.7,187.2 572,181.5 572.3,184.2 572.6,183.1 572.7,183.1 572.9,187 573.1,184.7 573.3,187.2 573.5,186 573.6,186.7 573.8,188.9 574,190.8 574.2,190.2 574.2,191.1 574.3,191.7 574.4,192.7 574.4,193.3 574.5,194.1 574.6,194.9 574.6,195.6 574.7,196.3 574.8,197 574.8,197.9 574.9,198.6 575,199.6 575,200.1 575.1,201 575.2,201.6 575.2,202.5 575.3,202.9 575.4,203.8 575.4,204.9 575.5,205.5 575.6,205.9 575.6,206.9 575.7,207.7 575.8,208.4 575.8,209 575.9,209.8 576,211 576,211.4 576.1,212.4 576.2,213.1 576.2,213.7 576.3,214.6 576.3,215.3 576.4,215.9 576.5,216.9 576.5,217.6 576.6,218.4 576.7,219 576.7,219.8 576.8,220.6 576.9,220.6 577,222.9 577.2,223.1 577.3,223.5 577.4,224 577.5,225.3 577.6,225.8 577.7,226.1 577.8,227.8 578,229.5 578.1,230.4 578.2,230 578.3,230 578.4,232.6 578.5,232.1 578.6,232.7 578.8,232.6 578.9,234.1 579,234.3 579.1,234.9 579.2,236.2 579.3,237.1 579.4,237.8 579.6,238.5 579.7,237.6 579.8,240.4 579.9,240 580,241.3 580.1,240.8 580.3,243.2 580.6,244.1 580.9,243.6 581.2,243.9 581.5,244.2 581.8,248.8 582.2,245.4 582.5,245 582.8,246.5 583.1,248.7 583.4,248.5 583.7,249.6 584.1,251 584.4,253.6 584.7,255.4 585,251.2 585.3,252.8 585.7,253 586.2,256 586.6,257.7 587,256.9 587.4,255.1 587.8,256.5 588.3,254.5 588.7,256.9 589.1,257.7 589.5,256.5 590,258.8 590.4,259.5 590.5,258.1 590.6,258.2 590.6,257.2 590.7,255 590.8,256.8 590.9,254.4 591,253.4 591.1,254.6 591.2,253.8 591.3,253.5 591.4,252.8 591.5,253 591.5,251.6 591.6,251.6 591.7,250.6 591.8,248.4 591.9,249.1 592,248.7 592.1,248 592.2,247.1 592.3,246.4 592.4,247.3 592.5,245.7 592.5,243.9 592.6,245.2 592.7,243.8 592.8,243 592.9,242.3 593.1,239.1 593.2,238.5 593.3,239.8 593.5,241.7 593.6,240.2 593.7,237 593.9,239.4 594,239.9 594.1,235.4 594.2,235.5 594.4,233.8 594.5,233.9 594.6,234.7 594.7,235.2 594.8,236 594.8,236.5 594.9,237.2 594.9,237.8 595,238.1 595.1,238.4 595.1,239.3 595.2,239.8 595.3,240.2 595.3,241.1 595.4,241.4 595.5,242.2 595.5,242.7 595.6,243.4 595.6,243.4 595.7,244 595.8,244.8 595.8,245.6 595.9,246.2 596,246.5 596,247.1 596.1,247.9 596.1,248.1 596.2,248.8 596.3,249.5 596.3,250 596.4,250.4 596.5,251.4 596.6,251.3 596.7,250.9 596.9,250.8 597,253.7 597.1,256.5 597.2,254.3 597.4,254.6 597.5,256.2 597.6,254.7 597.8,256.2 597.9,257.6 598,257.5 598.2,259.3 598.3,258.8 598.4,258.4 598.6,260.4 598.7,261.4 598.8,263.3 599,259.1 599.1,260.6 599.2,265.2 599.4,262.9 599.5,264.4 599.8,264.4 600,262.8 600.3,262.6 600.6,263.5 600.8,267.7 601.1,262.1 601.3,264.2 601.6,267.6 601.9,267.5 602.1,266.3 602.4,266.7 602.7,266.5 602.9,267.8 603.2,273.4 603.5,270.7 603.7,271 604,272.5 604.2,270.9 604.5,267.3 604.8,275.2 605,268.4 605.3,272.2 605.6,273.8 605.9,269.6 606.3,275.1 606.6,272.5 607,272.2 607.3,274.6 607.7,273.9 608,273.6 608.4,275.1 608.7,277.9 609.1,275.5 609.4,274.1 609.8,276.6 610.1,276.8 610.5,274.4 610.9,278.6 611.2,277.7 611.6,279.9 611.9,279.5 612.3,279.8 612.6,278.4 613,282.5 613.3,282.3 613.7,281.8 614.1,282.7 614.5,286.1 614.9,281.4 615.3,280.8 615.7,284.9 616.1,281.6 616.5,282.3 616.9,285.5 617.3,286 617.7,287.8 618.1,280.3 618.5,281.8 618.9,282.7 619.3,282 619.7,288 620.2,288.1 620.6,282.1 621,287.9 621.4,289.9 621.8,288.4 622.1,289.2 622.5,285 622.8,289.1 623.2,286.7 623.5,288.8 623.9,290.9 624.2,291.6 624.6,290.6 624.9,288.7 625.3,295.5 625.6,290.4 626,291.5 626.4,294.7 626.7,292.5 627.1,292.4 627.4,293.4 627.8,291 628.1,293.7 628.5,293.9 628.8,294 629.2,294.2 629.5,294.5 629.9,296.7 630.2,294.4 630.6,294.6 630.9,296.5 631.3,299.3 631.7,296.8 632,299.4 632.4,298.1 632.7,301.3 633.1,298.8 633.4,294.6 633.8,294.8 634.2,303.5 634.5,297.5 634.9,304.4 635.2,302.6 635.6,297.5 635.9,302.6 636.3,299.5 636.6,302.4 637,299.3 637.3,297.1 637.6,299.8 638,298.8 638.3,299.1 638.6,298.8 639,302.1 639.3,295.6 639.7,300.8 640,297.6 640.1,296.9 640.1,296.8 640.2,296.3 640.3,295.9 640.3,295.1 640.4,295.1 640.5,294.5 640.5,293.7 640.6,293.4 640.7,292.5 640.7,292.4 640.8,291.8 640.9,291.4 640.9,291.2 641,290.5 641.1,290 641.1,289.9 641.2,289.5 641.3,288.2 641.4,288.3 641.4,287.6 641.5,287 641.6,286.5 641.6,286 641.7,285.7 641.8,285.3 641.8,285 641.9,284.7 642,284 642,283.9 642.1,286.5 642.2,283.6 642.3,283.8 642.4,285.8 642.5,285.4 642.6,287 642.7,289.2 642.8,284.9 642.9,290 643,288.1 643.1,288.6 643.1,291.9 643.2,287.6 643.3,287.7 643.4,291.1 643.5,290.6 643.6,290.7 643.7,291.9 643.8,290.6 643.9,292.7 644,293.1 644.1,292.9 644.2,294.7 644.3,295 644.4,294.9 644.5,296.4 644.7,295.5 645,295.4 645.2,292.8 645.5,292.1 645.8,289.4 646,291 646.3,291.3 646.6,292.3 646.8,290.6 647.1,291.4 647.2,294.2 647.3,290.8 647.4,291.4 647.5,291 647.6,290.7 647.7,289.5 647.8,287.7 647.9,284.5 648,286.9 648.2,288.4 648.3,287.3 648.4,285.1 648.5,287.3 648.6,288 648.7,282.9 648.8,283.3 648.9,284.4 649,279.7 649.1,282.2 649.3,283 649.5,285.4 649.7,279.1 649.9,288.2 650.1,284.1 650.3,286.7 650.4,282.9 650.6,287.8 650.8,287.2 651,291.3 651.2,288.4 651.4,290.7 651.6,284.8 651.8,292.8 652,291.9 652.2,289.4 652.2,289.1 652.3,291.1 652.4,290.5 652.4,290.9 652.5,292.7 652.6,292.5 652.6,291.9 652.7,292.9 652.8,294.5 652.8,295.4 652.9,296.8 653,294.5 653,295.7 653.1,296.8 653.2,295.7 653.2,295.1 653.3,298.5 653.4,298.9 653.4,297.4 653.5,301 653.6,300.2 653.6,299.6 653.7,301 653.8,300.7 653.8,301.3 653.9,303.9 654,300.7 654,304.8 654.1,301.8 654.2,303.1 654.3,307.9 654.5,302.5 654.6,303.8 654.8,307.9 654.9,304.8 655.1,307.9 655.2,305 655.4,311 655.5,306.9 655.7,308.5 655.8,310.1 656,305.5 656.1,312.5 656.3,308.2 656.4,307.9 656.6,314.8 656.7,310.2 656.9,308.5 657,310.2 657.2,311.1 657.3,313 657.5,314.3 657.6,311.1 657.8,315.7 657.9,317.8 658.1,320.4 658.2,316.5 658.6,314.3 658.9,315.9 659.2,315.6 659.6,311.4 659.9,310.8 660.3,309.6 660.6,315.5 660.9,313.2 661.3,315.2 661.6,312.5 661.9,312.7 662.3,312.7 662.4,312.4 662.4,313.1 662.5,313.6 662.6,312.9 662.7,313.2 662.7,314.3 662.8,315 662.9,316.9 663,316.5 663.1,317.2 663.1,316.7 663.2,318.8 663.3,319.6 663.4,318.4 663.4,317.2 663.5,319.1 663.6,318.5 663.7,320.3 663.8,321.8 663.8,320.8 663.9,323.3 664,322.1 664.1,320.1 664.1,322.5 664.2,322.7 664.3,323.8 664.4,322.9 664.5,326.2 664.6,326.9 664.8,327.8 664.9,326.1 665,325.2 665.1,324 665.2,326.8 665.3,327.1 665.4,326.8 665.5,326.5 665.7,329.3 665.8,330.9 665.9,333.2 666,331.9 666.1,331.6 666.2,331.5 666.3,330.7 666.5,335.2 666.8,335.8 667,329.7 667.2,335.2 667.4,336.4 667.6,337.2 667.8,336.1 668,335.5 668.2,333.9 668.5,338.5 668.7,336.5 668.9,333.8 669.1,337.9 669.3,333.8 669.5,338 669.7,334 670,339.1 670.2,334.6 670.4,339.2 670.5,342.6 670.6,335 670.8,342.3 670.9,337.2 671,336.7 671.2,338.3 671.3,337.3 671.4,339.6 671.6,336.5 671.7,333 671.8,337.3 672,335.6 672.1,333 672.2,333.7 672.4,335.3 672.5,331.8 672.6,336.9 672.8,335.9 672.9,330.2 673,331.9 673.2,333.5 673.3,332.2 673.4,330.2 673.5,330.5 673.5,330.8 673.6,331.8 673.7,331.7 673.7,332.1 673.8,333.3 673.9,333.3 673.9,334 674,334.2 674.1,334.7 674.1,335.1 674.2,335.6 674.3,336.5 674.3,336.6 674.4,337.2 674.5,337.4 674.5,338 674.6,338.4 674.7,338.8 674.7,339.5 674.8,339.7 674.9,340.1 674.9,340.5 675,341 675.1,341.9 675.1,342.3 675.2,342.3 675.2,343 675.3,343.7 675.4,343.6 675.4,344.3" fill="none" stroke="#808000" stroke-width="2.5" stroke-linejoin="round"/>
<polyline points="314.4,89.6 315.1,91.2 315.8,92.9 316.5,92.7 317.2,94.6 317.9,94.3 318.6,96.4 319.2,96.5 319.9,98.7 320.6,99.7 321.3,101.5 322,101.7 322.7,102.3 323.4,103.5 324.1,104.8 324.7,107.9 325.4,106 326.1,108.8 326.8,110.6 327.5,111 328.2,111 328.9,113.8 329.6,115.9 330.3,117 331,115.5 331.6,118 332.9,118.8 334.2,119.9 335.4,118.1 336.7,118.3 338,118.3 338.2,118.4 338.5,120.3 338.7,120.6 339,122.8 339.2,123.9 339.5,125.3 339.7,127.4 340,128.6 340.3,129.7 340.5,130.5 340.8,131.5 341,132.7 342.2,132.9 343.3,132.5 344.4,130.8 345.6,130.2 346.3,130.7 347,133.6 347.7,135.5 348.4,136.2 349.1,135 349.8,136.6 350.5,137.3 351.2,141.5 351.9,141 353.2,139.7 354.4,142 355.7,142.1 357,142.1 357.7,143.5 358.3,143.1 359,143.8 359.7,147 360.4,149.8 361.1,146.6 361.8,147.5 362.5,151.2 363.2,149.4 363.9,149.7 364.6,153.2 365.8,155.5 367.1,156.2 368.4,156.3 369.6,154.4 370.9,156.5 372.2,155.8 373.4,156.8 374.1,159 374.8,157.5 375.5,162.1 376.2,162.6 376.9,164 377.6,164.8 378.3,163.9 379,169.4 379.7,168.7 380.9,167.5 382,168.2 383.2,167.8 384.3,168.8 385.5,171.2 386.7,172.6 387.8,169.5 389,169.5 390.1,169.1 391.3,171.7 392.4,172.1 393.5,173.3 394.6,174.1 395.7,171 396.7,173.2 397.8,176.5 398.9,174.5 400,175.4 401.1,173.9 402.2,180.2 403.3,179.7 404.3,178.7 405.4,181.8 406.5,184 407.6,182.5 408.8,180.7 409.9,181.8 411.1,183.2 412.3,185.4 413.4,178.6 414.6,183.8 415.8,180 416.9,187.4 418.1,184.2 419.3,187 420.4,184.7 421.6,190.4 422.8,187.2 423.9,185.2 425,182.6 426,189.3 427.1,189.9 428.2,187.7 429.3,188.5 430.4,187.6 431.5,193.4 432.5,194.7 433.6,189.1 434.7,188.9 435.8,193.5 436.9,187.5 438,192.5 439.1,193.2 440.3,192.8 441.5,197.6 442.6,190.7 443.8,195.3 445,193.9 446.2,193 447.3,195.4 448.5,194.3 449.7,195 450.8,192.4 452,191.1 453.2,195.4 454.2,197 455.3,194.3 456.4,190.9 457.5,194.8 458.6,187.8 459.7,190.6 460.8,191.2 461.8,189.6 462.9,185.3 464,195.6 465.1,185.4 466.2,193.6 467.3,194.6 468.4,189.6 469.3,190.8 470.3,185.9 471.3,189.4 472.3,185.5 473.3,190.2 474.3,192.7 475.2,187 476.2,191.4 477.2,190.5 478.2,197.8 479.2,194.8 480.2,196.4 481.2,194.5 482.1,196.3 483.1,196.2 484.1,193 485.1,200 486.1,197.4 487.1,195 488.1,199.4 489.1,201.2 490.1,201.4 491.1,201.6 492.2,199.6 493.2,198 494.2,197.2 495,193.9 495.9,199.2 496.8,196 497.6,198.1 498.5,193 499.4,193.8 500.3,193.9 501.1,191.9 501.9,194.6 502.7,195.1 503.5,196.8 504.3,192.5 505.1,194 505.9,193.8 506.7,198.1 507.5,196.6 508.4,202.4 509.2,197.4 510,203.6 510.8,201.8 511.6,197.4 512.4,197.3 513.4,194.2 514.4,197.6 515.4,199.3 516.5,203.3 517.5,197.7 518.5,199 519.5,202 520.5,200.4 521.5,194.8 522.5,203.5 523.5,200.9 524.6,200.5 525.6,201.9 526.6,199.9 527.6,198.2 528.6,201.9 529.6,206.3 530.6,200.9 531.6,204 532.7,201.6 533.7,204.1 534.7,203 535.6,200.1 536.5,205.7 537.4,199.8 538.3,195.9 539.2,199.4 540.1,200 541,200.7 541.9,199.3 542.8,199.2 543.7,205.3 544.6,197.1 545.5,199.9 546.4,202.1 547.3,203.8 548.2,201.6 549.1,205.8 550,202.4 550.9,205 551.9,200 552.9,205.3 553.9,206.1 554.9,202.5 555.9,205.2 557,205.2 557.7,203.2 558.4,203.6 559.2,204.7 559.9,205.3 560.6,206 561.4,202.3 562.1,204.3 562.9,203.7 563.6,203.2 564.3,200.5 565.1,196.4 565.3,201.3 565.6,198.1 565.8,195.7 566.1,192.9 566.3,193.5 566.6,191.4 566.8,188.4 567.1,189.3 567.3,192.1 567.6,188.2 567.8,189.1 568.1,193.5 568.4,188.1 568.6,189.9 568.9,184 569.1,185.4 569.2,184.4 569.3,183.7 569.3,182.5 569.4,182.1 569.5,181.4 569.5,180.2 569.6,179.6 569.7,178.9 569.8,178 569.8,177.2 569.9,176.2 570,175.7 570.1,175 570.1,173.7 570.2,173.2 570.3,172.1 570.3,171.5 570.4,170.8 570.5,169.5 570.6,168.5 570.6,168.1 570.7,167.7 570.8,166.7 570.8,165.6 570.9,164.7 571,164 571.1,163.1 571.1,162.3 571.2,161.6 571.3,160.4 571.4,160.1 571.4,158.7 571.5,158.7 571.6,157.6 571.6,156.5 571.7,155.4 571.8,155.2 571.9,154 571.9,153.4 572,152.4 572.1,152 572.2,150.9 572.2,150.2 572.3,149.1 572.3,148.4 572.4,147.7 572.4,147.1 572.5,146 572.6,145.5 572.6,145 572.7,143.7 572.7,143 572.8,142.4 572.9,141.3 572.9,140.6 573,139.7 573,139.1 573.1,138.6 573.1,137.5 573.2,136.8 573.3,136.2 573.3,135.5 573.4,134.5 573.4,133.6 573.5,133 573.6,132 573.6,131.5 573.7,130.6 573.7,130.1 573.8,128.7 573.8,128.4 573.9,127.2 574,126.6 574,126.4 574.1,125.2 574.1,124.7 574.2,123.6 574.3,122.9 574.3,121.9 574.4,121.4 574.4,120.5 574.5,119.6 574.5,119 574.6,118.1 574.7,117.7 574.7,116.8 574.8,116.1 574.8,114.9 574.9,114.5 575,113.9 575,112.7 575.1,111.9 575.1,111.3 575.2,110.7 575.3,107.9 575.4,108.5 575.6,109 575.7,105.7 575.8,107.8 575.9,105.4 576.1,103.9 576.2,105.8 576.3,104.5 576.4,101.8 576.6,103 576.7,101.4 576.8,100.6 576.9,103.7 577.1,101 577.2,103.9 577.3,102.8 577.5,103.6 577.6,106.1 577.7,106.3 577.8,106.1 578,107.4 578.1,107.5 578.2,108.2 578.3,109 578.3,109.7 578.4,110.8 578.5,110.8 578.5,112.3 578.6,112.9 578.6,113.6 578.7,114.2 578.7,114.6 578.8,116.1 578.9,116.1 578.9,117.2 579,118 579,118.4 579.1,119.3 579.1,120.1 579.2,120.8 579.2,121.8 579.3,122.6 579.4,122.5 579.4,123.6 579.5,124.7 579.5,125 579.6,126.1 579.6,126.8 579.7,127.3 579.7,128.1 579.8,128.3 579.8,129.3 579.9,130 579.9,131 580,131.3 580,132.2 580.1,132.8 580.1,133.9 580.2,134.7 580.2,135.1 580.3,135.9 580.3,136.5 580.4,137.5 580.4,138 580.5,138.8 580.5,139.4 580.6,139.9 580.6,140.5 580.7,141.5 580.7,142.5 580.8,143.1 580.8,143.9 580.9,144.4 580.9,145.1 581,145.7 581,146.4 581.1,147.4 581.1,148 581.2,148.8 581.2,149.3 581.3,150.3 581.3,150.6 581.4,151.7 581.4,152.2 581.4,153.2 581.5,153.7 581.5,154.1 581.6,154.8 581.6,156.1 581.7,156.3 581.7,157 581.8,157.7 581.8,159.1 581.9,159.7 581.9,160.4 582,160.6 582,161.9 582.1,162.5 582.1,163 582.2,163.3 582.2,164.4 582.3,165.1 582.3,165.9 582.4,166.2 582.4,167.3 582.5,167.7 582.5,168.1 582.6,169.2 582.6,169.9 582.7,170.8 582.7,171.7 582.8,171.6 582.8,172.5 582.9,173.7 582.9,174 583,174.3 583.1,175.2 583.1,176.3 583.2,177.1 583.2,177.6 583.3,178.5 583.3,179 583.4,179.2 583.4,180.1 583.5,181 583.5,181.4 583.6,182.2 583.6,182.8 583.7,183.7 583.7,184.6 583.8,185.2 583.8,185.7 583.9,186.1 583.9,186.7 584,187.4 584,188.1 584.1,188.9 584.1,189.9 584.2,190.5 584.2,191.1 584.3,191.6 584.3,192.4 584.4,193.6 584.4,193.6 584.5,194.7 584.5,195.5 584.6,195.9 584.6,196.8 584.7,197.2 584.8,197.8 584.8,198.4 584.9,199.1 584.9,200.1 585,201 585,201.2 585.1,201.9 585.1,202.6 585.2,203.5 585.2,204.5 585.3,205.1 585.3,204.2 585.5,207.1 585.7,206.4 586,208.5 586.2,209.9 586.4,214.1 586.6,207.6 586.8,209.9 587,211.7 587.2,208.7 587.4,216.5 587.7,214.6 587.9,209.9 588.1,218.3 588.3,212.7 588.5,216.9 588.7,215.9 588.9,218.7 589.2,212.9 589.4,218.2 589.5,215.6 589.6,216.6 589.7,215.9 589.8,215 589.9,215 590,217 590.2,213.2 590.3,211.8 590.4,210.7 590.5,209.7 590.6,210.8 590.7,210.4 590.8,210.7 590.9,211 591.1,206.4 591.2,208 591.3,209.1 591.4,204.7 591.5,207.7 591.6,204.5 591.7,207.1 591.8,207 592,206.3 592.1,202.6 592.2,201.4 592.3,199.8 592.4,201.5 592.5,200.3 592.6,200.1 592.7,200.1 592.8,199.7 592.9,196.1 593,195.5 593.1,199.4 593.2,198.7 593.3,196.4 593.3,194.7 593.4,194.6 593.5,194.7 593.6,194.6 593.7,192 593.8,193.6 593.9,191.1 594,190.1 594.1,191.7 594.2,190.9 594.3,188.3 594.4,188.6 594.5,187.7 594.6,188.6 594.7,188.6 594.8,187.2 594.8,186.3 594.9,186.5 595,185.2 595.1,185.7 595.2,186.6 595.2,186.7 595.3,187.7 595.3,188 595.4,188.2 595.5,188.9 595.5,189.8 595.6,190.4 595.7,191.2 595.7,191.8 595.8,192 595.8,192.7 595.9,192.9 596,193.7 596,194.3 596.1,194.7 596.1,195.2 596.2,195.8 596.3,196.4 596.3,197 596.4,197.5 596.4,198.4 596.5,198.4 596.6,198.8 596.6,199.8 596.7,200.5 596.8,201 596.8,201.4 596.9,202.2 596.9,202.1 597,203.3 597.1,203.6 597.1,204.1 597.2,204.9 597.2,204.8 597.3,205.6 597.4,206.3 597.4,206.4 597.5,207.2 597.5,207.4 597.6,208.5 597.6,209 597.7,209.5 597.8,209.7 597.8,210.2 597.9,210.6 597.9,211.6 598,212.1 598,212.8 598.1,213.2 598.2,213.6 598.2,214.3 598.3,214.7 598.3,215.7 598.4,215.9 598.5,216.3 598.5,216.7 598.6,217.7 598.6,218.3 598.7,218.9 598.7,218.6 598.8,219.7 598.9,219.9 598.9,221 599,220.9 599,221.4 599.1,222.3 599.1,222 599.2,223.1 599.3,223.4 599.3,223.9 599.4,224.7 599.4,224.9 599.5,224.8 599.8,223.9 600.1,221.9 600.4,229 600.7,233.2 600.9,230.6 601.2,229.1 601.5,227.6 601.8,230.6 602.1,235.3 602.4,229.3 602.7,231.4 603,230.1 603.3,234.1 603.5,238.8 603.8,230.2 604.1,236.6 604.4,235.6 604.7,236.4 605,230.9 605.3,234.2 605.6,235.9 605.8,229.3 606,240.8 606.2,244.2 606.5,235.4 606.7,238 606.9,236.7 607.1,234.5 607.4,233.3 607.6,239.6 607.8,240.1 608,236.1 608.3,240.6 608.5,245.2 608.7,236.5 608.9,236.1 609.2,247.1 609.4,247.6 609.6,243.6 609.8,242.8 610.1,247.3 610.3,238.3 610.5,242.3 610.7,250 611,244.1 611.2,248.3 611.4,254.6 611.6,248.5 612.1,240 612.5,247.2 612.9,247.8 613.4,248.3 613.8,246.5 614.2,245.9 614.7,249.7 615.1,248.6 615.6,245 616,258 616.4,246.1 616.9,249.3 617.3,253.9 617.7,250.4 618.1,243.2 618.4,256.4 618.8,250.1 619.1,251.8 619.5,255.7 619.8,253.6 620.2,249.7 620.5,259.3 620.9,246 621.2,252.6 621.6,249.9 621.9,261.9 622.3,253.6 622.7,251.4 623,252.5 623.4,253 623.7,256.2 624.1,263 624.4,260.1 624.8,262.3 625.1,260.2 625.5,253.5 625.8,261 626.1,255.7 626.4,252 626.7,256.2 627,257.6 627.3,261.3 627.6,265.1 627.9,257.5 628.3,265.2 628.6,260 628.9,263.7 629.2,263.2 629.5,272.2 629.8,262.2 630.1,262.9 630.4,264.1 630.7,269.3 631,271.6 631.3,269.7 631.6,262.2 631.9,267.1 632.3,268.3 632.7,260.4 633.1,261.8 633.5,258.5 633.8,264.8 634.2,263.6 634.6,272.7 635,256.4 635.4,265.2 635.8,262.5 636.2,268.1 636.6,258.3 637,262.2 637,264.9 637.1,260.5 637.2,264.2 637.2,263.7 637.3,262.6 637.4,265.9 637.5,264.4 637.5,269.4 637.6,267.4 637.7,265.2 637.7,268.5 637.8,269.2 637.9,266.4 638,270.5 638,271.6 638.1,273.4 638.2,274.2 638.2,272.3 638.3,272.8 638.4,275.3 638.4,272.5 638.5,272.2 638.6,270.3 638.7,276.9 638.7,275.4 638.8,273.3 638.9,278.8 638.9,277.3 639,277.4 639.1,275.9 639.2,274.1 639.2,278.3 639.3,277.1 639.4,277.6 639.4,280.4 639.5,278.1 639.6,280.8 639.6,280.7 639.7,277.9 639.8,280 639.9,283.9 639.9,284.2 640,283.4 640,283.1 640.1,282.4 640.1,281.7 640.1,282.1 640.2,280.7 640.2,280.7 640.2,279.9 640.2,279.6 640.3,278.8 640.3,278.7 640.3,278.6 640.4,277.8 640.4,277.2 640.4,276.6 640.5,276.5 640.5,275.9 640.5,275.5 640.5,275.1 640.6,274.1 640.6,273.7 640.6,273.5 640.7,273.4 640.7,272.5 640.7,271.5 640.8,271.8 640.8,270.6 640.8,270.1 640.8,270.3 640.9,269.6 640.9,269.8 640.9,269.3 641,268.3 641,267.9 641,267.9 641.1,267.1 641.1,265.7 641.1,265.7 641.1,265 641.2,264.7 641.2,264.6 641.2,264.2 641.3,263.3 641.3,262.6 641.3,262.6 641.4,262 641.4,262 641.4,261.5 641.4,260.4 641.5,260.1 641.5,259.7 641.5,259.2 641.6,258.3 641.6,258.1 641.6,257.9 641.7,256.7 641.7,256.2 641.7,257 641.7,256.1 641.8,255.4 641.8,255.1 641.8,254.3 641.9,254 641.9,254.1 641.9,253.2 642,252.7 642,251.9 642,251.2 642,251.3 642.1,250.6 642.1,250.3 642.1,250.1 642.2,249.6 642.2,248.8 642.2,248.4 642.3,247.3 642.3,247.5 642.3,246.7 642.3,246.1 642.4,245.7 642.4,245.5 642.4,244.9 642.5,244.9 642.5,246 642.5,246.5 642.5,246.9 642.6,247.7 642.6,247.6 642.6,248.5 642.7,248.4 642.7,249.1 642.7,250 642.7,250.2 642.8,250.4 642.8,251.4 642.8,251.8 642.8,252.3 642.9,252.7 642.9,253.1 642.9,253.3 643,254.2 643,253.9 643,254.3 643,255 643.1,255.6 643.1,256.2 643.1,256.6 643.2,256.7 643.2,257.7 643.2,257.9 643.2,258.7 643.3,258.8 643.3,259.4 643.3,260 643.3,260.2 643.4,260.4 643.4,261.9 643.4,261.6 643.5,262.5 643.5,262.7 643.5,263.3 643.5,263.9 643.6,264.6 643.6,265.2 643.6,265.4 643.7,266.1 643.7,266.1 643.7,267 643.7,266.7 643.8,267.5 643.8,268 643.8,268 643.8,269.1 643.9,268.9 643.9,270.3 643.9,270.2 644,270.7 644,271.2 644,272 644,272.4 644.1,272.4 644.1,273.6 644.1,273.8 644.2,274.4 644.2,274.5 644.2,275.2 644.2,275.8 644.3,276.2 644.3,276.1 644.3,277 644.3,277.8 644.4,277.6 644.4,278.5 644.4,279.2 644.5,280.7 644.6,278.6 644.7,281.1 644.8,279.9 644.9,278.5 645,276.7 645.2,273.3 645.3,281.3 645.4,276.9 645.5,273.4 645.6,272.3 645.7,270.1 645.9,273.6 646,272.6 646.1,277.9 646.2,274.2 646.3,272.6 646.5,270.2 646.6,272.5 646.7,271.2 646.8,272.8 646.9,267.8 647,268.1 647.2,268.1 647.3,266 647.4,268.4 647.5,272.1 647.6,266.7 647.7,264.5 647.9,264.2 648,269.3 648.1,265.1 648.2,264 648.3,267.4 648.4,270.3 648.5,269.9 648.6,266.7 648.7,267.1 648.8,265.9 648.9,270.8 649,265.9 649.1,266.4 649.2,270.5 649.3,271.4 649.4,273.9 649.5,271.5 649.6,271.8 649.7,275.1 649.8,276.6 649.9,272.6 650,270.9 650.1,273.6 650.2,275.1 650.3,272.3 650.4,275.8 650.5,275.2 650.6,277.1 650.7,280.5 650.8,278.5 650.9,277 651,278.7 651.1,279.3 651.2,278.8 651.2,278.1 651.2,278 651.3,277.1 651.3,276.8 651.3,276.4 651.4,276.1 651.4,275.3 651.4,275.6 651.5,275.1 651.5,274.1 651.5,273.4 651.5,272.9 651.6,272.6 651.6,272.5 651.6,271.8 651.7,271.5 651.7,271.2 651.7,270.4 651.8,270 651.8,269.7 651.8,268.8 651.9,268.8 651.9,268 651.9,267.6 651.9,267 652,266.7 652,266.4 652,265.6 652.1,265.1 652.1,265.1 652.1,264.6 652.2,264.1 652.2,263.6 652.2,263.1 652.3,262.2 652.3,262.1 652.3,261.5 652.4,261.2 652.4,260.3 652.4,260.2 652.4,259.9 652.5,258.9 652.5,259 652.5,258.3 652.6,258.1 652.6,257.5 652.6,256.6 652.7,256.8 652.7,256 652.7,255.6 652.8,255 652.8,254.7 652.8,254 652.8,254 652.8,253.4 652.9,253.1 652.9,252.3 652.9,251.7 652.9,251.3 652.9,251 653,250.2 653,249.8 653,249.7 653,249.1 653,248.8 653,248.1 653.1,247.5 653.1,247.5 653.1,246.6 653.1,245.9 653.1,245.4 653.2,245.7 653.2,244.6 653.2,244.3 653.2,244.1 653.2,243.4 653.3,243.2 653.3,242.7 653.3,241.8 653.3,241.3 653.3,240.9 653.4,240.6 653.4,240.1 653.4,239.4 653.4,239.2 653.4,238.8 653.4,238.1 653.5,237.9 653.5,237.4 653.5,236.9 653.5,236.8 653.5,235.9 653.6,235.4 653.6,235.1 653.6,234.5 653.6,234.1 653.6,233.6 653.7,233.3 653.7,232.5 653.7,232.2 653.7,231.7 653.7,231.5 653.8,231 653.8,230.4 653.8,230 653.8,229.7 653.8,229.1 653.9,228.5 653.9,228 653.9,227.8 653.9,227.1 653.9,226.7 653.9,225.9 654,225.6 654,225.4 654,225.1 654,224.5 654,224 654.1,223.3 654.1,223 654.1,222.4 654.1,222.1 654.1,221.8 654.2,220.9 654.2,220.5 654.2,220 654.2,219.6 654.3,219.4 654.3,218.9 654.3,218.3 654.3,218 654.4,217.3 654.4,216.8 654.4,216.3 654.5,216.2 654.5,215.2 654.5,214.8 654.5,214.5 654.6,213.8 654.6,213.2 654.6,213.2 654.7,212.4 654.7,211.9 654.7,211.8 654.7,211 654.8,210.8 654.8,210 654.8,209.8 654.9,209.4 654.9,209.2 654.9,208.4 654.9,207.8 655,207.6 655,207.3 655,206.8 655.1,205.9 655.1,205.9 655.1,205.2 655.1,204.7 655.2,204.1 655.2,203.7 655.2,203.2 655.3,202.8 655.3,202.2 655.3,201.6 655.3,201.3 655.4,201.1 655.4,200.4 655.4,200.9 655.4,201.3 655.5,201.6 655.5,202.1 655.5,202.9 655.6,203.4 655.6,203.6 655.6,204.3 655.6,204.7 655.7,204.8 655.7,205.5 655.7,205.9 655.8,206.2 655.8,207.2 655.8,207.6 655.8,207.9 655.9,208.7 655.9,208.9 655.9,209.2 656,209.8 656,210.3 656,210.9 656,211.2 656.1,211.9 656.1,211.8 656.1,212.7 656.2,212.9 656.2,213.5 656.2,214.2 656.2,214.4 656.3,215 656.3,215.6 656.3,216 656.4,216.6 656.4,216.9 656.4,217.4 656.4,218.1 656.5,218.4 656.5,218.9 656.5,219.2 656.6,219.5 656.6,220 656.6,220.5 656.6,221.5 656.7,221.6 656.7,222.1 656.7,222.3 656.7,223.1 656.8,223.5 656.8,223.6 656.8,224.2 656.8,225 656.9,224.9 656.9,225.8 656.9,226.3 656.9,226.5 657,227.4 657,227.5 657,228 657,228.5 657.1,229 657.1,229.7 657.1,230.3 657.1,230.1 657.2,231.1 657.2,231.5 657.2,232.2 657.2,232.6 657.3,233 657.3,233.4 657.3,234 657.3,234.1 657.4,234.8 657.4,235.1 657.4,236 657.4,235.9 657.5,236.7 657.5,237.2 657.5,237.8 657.5,237.9 657.6,238.1 657.6,239.2 657.6,239.2 657.6,239.7 657.7,240.3 657.7,241.1 657.7,241.2 657.7,241.4 657.8,241.8 657.8,242.4 657.8,243.1 657.8,243.9 657.9,243.7 657.9,244.1 657.9,244.7 657.9,245.4 658,245.9 658,246.5 658,246.7 658,246.9 658.1,247.9 658.1,248.2 658.1,248.8 658.1,249.1 658.2,249.7 658.2,250 658.2,250.2 658.2,251 658.3,251.7 658.3,251.8 658.4,252.4 658.4,252.9 658.5,253 658.6,253.8 658.6,254.5 658.7,254.4 658.7,255.3 658.8,255.7 658.8,255.9 658.9,256.3 658.9,257.1 659,257.7 659.1,258 659.1,258.5 659.2,258.6 659.2,259.3 659.3,259.7 659.3,260.4 659.4,261 659.4,260.9 659.6,259.1 659.7,262.1 659.8,261.1 660,262.1 660.1,264.5 660.2,268.3 660.3,269.4 660.5,262.6 660.6,265.2 660.7,263.7 660.9,270.6 661,267.9 661.1,270.7 661.2,264.7 661.4,269.9 661.5,269.4 661.6,265.9 661.8,262.5 661.9,270.3 662,264.8 662.1,271 662.3,275.1 662.4,268.4 662.5,272.3 662.6,272.5 662.7,276.2 662.8,267.5 663,274.1 663.1,281.7 663.2,279.9 663.3,273.5 663.4,279.9 663.5,283.6 663.6,285.8 663.7,284 663.9,281 664,275.1 664.1,277.1 664.2,274.1 664.3,277.5 664.4,288.2 664.5,276.3 664.6,280.5 664.8,285.3 664.9,275.4 665,283.9 665.1,284.5 665.2,281.9 665.3,286 665.5,280.6 665.7,282.7 665.8,285.3 666,272.9 666.2,289.7 666.3,279.3 666.5,276.5 666.7,278.6 666.8,293.4 667,277.5 667.2,299.3 667.3,293.9 667.5,294.1 667.7,285.7 667.8,287.6 668,286.4 668.2,301.7 668.4,289.9 668.6,285.9 668.9,296.2 669.2,287.3 669.5,288.8 669.7,281.3 670,284.4 670.3,292 670.6,290.3 670.8,286.3 671.1,287.6 671.4,287.7 671.5,287.9 671.6,286.6 671.7,286.3 671.8,288.1 672,287.8 672.1,291.3 672.2,287.9 672.3,286.7 672.4,287.3 672.5,288.8 672.6,280.9 672.7,288.9 672.9,280.9 673,288.7 673.1,282.4 673.2,275.5 673.3,275.9 673.4,277.9 673.6,282.8 673.8,276.4 673.9,270.3 674.1,285.1 674.3,284.7 674.4,282.1 674.6,283.6 674.8,279.6 674.9,276.7 675.1,274.5 675.3,275.7 675.4,284.4" fill="none" stroke="#000080" stroke-width="2.5" stroke-linejoin="round"/>
<line x1="156.9" y1="87.8" x2="156.9" y2="666.6" stroke="#000" stroke-width="2.6"/>
<line x1="155.6" y1="665.3" x2="934.9" y2="665.3" stroke="#000" stroke-width="2.6"/>
<line x1="145.4" y1="649" x2="156.9" y2="649" stroke="#000" stroke-width="2.4"/>
<line x1="145.4" y1="543.5" x2="156.9" y2="543.5" stroke="#000" stroke-width="2.4"/>
<line x1="145.4" y1="438" x2="156.9" y2="438" stroke="#000" stroke-width="2.4"/>
<line x1="145.4" y1="332.5" x2="156.9" y2="332.5" stroke="#000" stroke-width="2.4"/>
<line x1="145.4" y1="227" x2="156.9" y2="227" stroke="#000" stroke-width="2.4"/>
<line x1="145.4" y1="121.5" x2="156.9" y2="121.5" stroke="#000" stroke-width="2.4"/>
<line x1="151.1" y1="665.34" x2="156.9" y2="665.34" stroke="#000" stroke-width="2.4"/>
<line x1="151.1" y1="659.22" x2="156.9" y2="659.22" stroke="#000" stroke-width="2.4"/>
<line x1="151.1" y1="653.83" x2="156.9" y2="653.83" stroke="#000" stroke-width="2.4"/>
<line x1="151.1" y1="617.24" x2="156.9" y2="617.24" stroke="#000" stroke-width="2.4"/>
<line x1="151.1" y1="598.66" x2="156.9" y2="598.66" stroke="#000" stroke-width="2.4"/>
<line x1="151.1" y1="585.48" x2="156.9" y2="585.48" stroke="#000" stroke-width="2.4"/>
<line x1="151.1" y1="575.26" x2="156.9" y2="575.26" stroke="#000" stroke-width="2.4"/>
<line x1="151.1" y1="566.91" x2="156.9" y2="566.91" stroke="#000" stroke-width="2.4"/>
<line x1="151.1" y1="559.84" x2="156.9" y2="559.84" stroke="#000" stroke-width="2.4"/>
<line x1="151.1" y1="553.72" x2="156.9" y2="553.72" stroke="#000" stroke-width="2.4"/>
<line x1="151.1" y1="548.33" x2="156.9" y2="548.33" stroke="#000" stroke-width="2.4"/>
<line x1="151.1" y1="511.74" x2="156.9" y2="511.74" stroke="#000" stroke-width="2.4"/>
<line x1="151.1" y1="493.16" x2="156.9" y2="493.16" stroke="#000" stroke-width="2.4"/>
<line x1="151.1" y1="479.98" x2="156.9" y2="479.98" stroke="#000" stroke-width="2.4"/>
<line x1="151.1" y1="469.76" x2="156.9" y2="469.76" stroke="#000" stroke-width="2.4"/>
<line x1="151.1" y1="461.41" x2="156.9" y2="461.41" stroke="#000" stroke-width="2.4"/>
<line x1="151.1" y1="454.34" x2="156.9" y2="454.34" stroke="#000" stroke-width="2.4"/>
<line x1="151.1" y1="448.22" x2="156.9" y2="448.22" stroke="#000" stroke-width="2.4"/>
<line x1="151.1" y1="442.83" x2="156.9" y2="442.83" stroke="#000" stroke-width="2.4"/>
<line x1="151.1" y1="406.24" x2="156.9" y2="406.24" stroke="#000" stroke-width="2.4"/>
<line x1="151.1" y1="387.66" x2="156.9" y2="387.66" stroke="#000" stroke-width="2.4"/>
<line x1="151.1" y1="374.48" x2="156.9" y2="374.48" stroke="#000" stroke-width="2.4"/>
<line x1="151.1" y1="364.26" x2="156.9" y2="364.26" stroke="#000" stroke-width="2.4"/>
<line x1="151.1" y1="355.91" x2="156.9" y2="355.91" stroke="#000" stroke-width="2.4"/>
<line x1="151.1" y1="348.84" x2="156.9" y2="348.84" stroke="#000" stroke-width="2.4"/>
<line x1="151.1" y1="342.72" x2="156.9" y2="342.72" stroke="#000" stroke-width="2.4"/>
<line x1="151.1" y1="337.33" x2="156.9" y2="337.33" stroke="#000" stroke-width="2.4"/>
<line x1="151.1" y1="300.74" x2="156.9" y2="300.74" stroke="#000" stroke-width="2.4"/>
<line x1="151.1" y1="282.16" x2="156.9" y2="282.16" stroke="#000" stroke-width="2.4"/>
<line x1="151.1" y1="268.98" x2="156.9" y2="268.98" stroke="#000" stroke-width="2.4"/>
<line x1="151.1" y1="258.76" x2="156.9" y2="258.76" stroke="#000" stroke-width="2.4"/>
<line x1="151.1" y1="250.41" x2="156.9" y2="250.41" stroke="#000" stroke-width="2.4"/>
<line x1="151.1" y1="243.34" x2="156.9" y2="243.34" stroke="#000" stroke-width="2.4"/>
<line x1="151.1" y1="237.22" x2="156.9" y2="237.22" stroke="#000" stroke-width="2.4"/>
<line x1="151.1" y1="231.83" x2="156.9" y2="231.83" stroke="#000" stroke-width="2.4"/>
<line x1="151.1" y1="195.24" x2="156.9" y2="195.24" stroke="#000" stroke-width="2.4"/>
<line x1="151.1" y1="176.66" x2="156.9" y2="176.66" stroke="#000" stroke-width="2.4"/>
<line x1="151.1" y1="163.48" x2="156.9" y2="163.48" stroke="#000" stroke-width="2.4"/>
<line x1="151.1" y1="153.26" x2="156.9" y2="153.26" stroke="#000" stroke-width="2.4"/>
<line x1="151.1" y1="144.91" x2="156.9" y2="144.91" stroke="#000" stroke-width="2.4"/>
<line x1="151.1" y1="137.84" x2="156.9" y2="137.84" stroke="#000" stroke-width="2.4"/>
<line x1="151.1" y1="131.72" x2="156.9" y2="131.72" stroke="#000" stroke-width="2.4"/>
<line x1="151.1" y1="126.33" x2="156.9" y2="126.33" stroke="#000" stroke-width="2.4"/>
<line x1="151.1" y1="89.74" x2="156.9" y2="89.74" stroke="#000" stroke-width="2.4"/>
<line x1="338.3" y1="665.3" x2="338.3" y2="677.1" stroke="#000" stroke-width="2.4"/>
<line x1="597.1" y1="665.3" x2="597.1" y2="677.1" stroke="#000" stroke-width="2.4"/>
<line x1="855.9" y1="665.3" x2="855.9" y2="677.1" stroke="#000" stroke-width="2.4"/>
<line x1="157.41" y1="665.3" x2="157.41" y2="671.1" stroke="#000" stroke-width="2.4"/>
<line x1="202.98" y1="665.3" x2="202.98" y2="671.1" stroke="#000" stroke-width="2.4"/>
<line x1="235.31" y1="665.3" x2="235.31" y2="671.1" stroke="#000" stroke-width="2.4"/>
<line x1="260.39" y1="665.3" x2="260.39" y2="671.1" stroke="#000" stroke-width="2.4"/>
<line x1="280.89" y1="665.3" x2="280.89" y2="671.1" stroke="#000" stroke-width="2.4"/>
<line x1="298.21" y1="665.3" x2="298.21" y2="671.1" stroke="#000" stroke-width="2.4"/>
<line x1="313.22" y1="665.3" x2="313.22" y2="671.1" stroke="#000" stroke-width="2.4"/>
<line x1="326.46" y1="665.3" x2="326.46" y2="671.1" stroke="#000" stroke-width="2.4"/>
<line x1="416.21" y1="665.3" x2="416.21" y2="671.1" stroke="#000" stroke-width="2.4"/>
<line x1="461.78" y1="665.3" x2="461.78" y2="671.1" stroke="#000" stroke-width="2.4"/>
<line x1="494.11" y1="665.3" x2="494.11" y2="671.1" stroke="#000" stroke-width="2.4"/>
<line x1="519.19" y1="665.3" x2="519.19" y2="671.1" stroke="#000" stroke-width="2.4"/>
<line x1="539.69" y1="665.3" x2="539.69" y2="671.1" stroke="#000" stroke-width="2.4"/>
<line x1="557.01" y1="665.3" x2="557.01" y2="671.1" stroke="#000" stroke-width="2.4"/>
<line x1="572.02" y1="665.3" x2="572.02" y2="671.1" stroke="#000" stroke-width="2.4"/>
<line x1="585.26" y1="665.3" x2="585.26" y2="671.1" stroke="#000" stroke-width="2.4"/>
<line x1="675.01" y1="665.3" x2="675.01" y2="671.1" stroke="#000" stroke-width="2.4"/>
<line x1="720.58" y1="665.3" x2="720.58" y2="671.1" stroke="#000" stroke-width="2.4"/>
<line x1="752.91" y1="665.3" x2="752.91" y2="671.1" stroke="#000" stroke-width="2.4"/>
<line x1="777.99" y1="665.3" x2="777.99" y2="671.1" stroke="#000" stroke-width="2.4"/>
<line x1="798.49" y1="665.3" x2="798.49" y2="671.1" stroke="#000" stroke-width="2.4"/>
<line x1="815.81" y1="665.3" x2="815.81" y2="671.1" stroke="#000" stroke-width="2.4"/>
<line x1="830.82" y1="665.3" x2="830.82" y2="671.1" stroke="#000" stroke-width="2.4"/>
<line x1="844.06" y1="665.3" x2="844.06" y2="671.1" stroke="#000" stroke-width="2.4"/>
<line x1="933.81" y1="665.3" x2="933.81" y2="671.1" stroke="#000" stroke-width="2.4"/>
<text><tspan x="110.52" y="128.1" font-size="23">10</tspan></text>
<text><tspan x="122.73" y="233.6" font-size="23">1</tspan></text>
<text><tspan x="103.55" y="339.1" font-size="23">0.1</tspan></text>
<text><tspan x="90.76" y="444.6" font-size="23">0.01</tspan></text>
<text><tspan x="77.97" y="550.1" font-size="23">0.001</tspan></text>
<text><tspan x="87.29" y="655.6" font-size="23">1E-4</tspan></text>
<text><tspan x="315.23" y="702.1" font-size="23">0.01</tspan></text>
<text><tspan x="580.43" y="702.1" font-size="23">0.1</tspan></text>
<text><tspan x="848.39" y="702.1" font-size="23">1</tspan></text>
<text><tspan x="512.97" y="775.6" font-size="53">q, </tspan><tspan x="572.1" y="775.6" font-size="53" textLength="34.89" lengthAdjust="spacingAndGlyphs">A</tspan><tspan x="605.66" y="752.5" font-size="34.6" textLength="13.83" lengthAdjust="spacingAndGlyphs">-</tspan><tspan x="619.18" y="752.5" font-size="34.6" textLength="17.7" lengthAdjust="spacingAndGlyphs">1</tspan></text>
<text transform="translate(54.2 0) rotate(-90)"><tspan x="-505.37" y="0" font-size="54.3" textLength="290.02" lengthAdjust="spacingAndGlyphs">Intensity, cm</tspan><tspan x="-214.74" y="-24.4" font-size="35.5" textLength="13" lengthAdjust="spacingAndGlyphs">-</tspan><tspan x="-200.49" y="-24.4" font-size="35.5" textLength="18.16" lengthAdjust="spacingAndGlyphs">1</tspan></text>
<text><tspan x="108.82" y="50.3" font-size="67.6" font-family='"Liberation Sans", Arial, Helvetica, sans-serif' font-weight="bold" textLength="45.79" lengthAdjust="spacingAndGlyphs">A</tspan></text>
<rect x="770.1" y="39.5" width="183" height="319.6" fill="#fff" stroke="#333" stroke-width="1.4"/>
<line x1="773.2" y1="59.3" x2="839.4" y2="59.3" stroke="#000000" stroke-width="2.7"/>
<text><tspan x="845.71" y="69.1" font-size="28.3">step </tspan><tspan x="907.18" y="69.1" font-size="28.3">2</tspan></text>
<line x1="773.2" y1="94.38" x2="839.4" y2="94.38" stroke="#ff0000" stroke-width="2.7"/>
<text><tspan x="845.71" y="104.18" font-size="28.3">step </tspan><tspan x="907.52" y="104.18" font-size="28.3">3</tspan><tspan x="924.32" y="104.18" font-size="28.3">.</tspan><tspan x="932.64" y="104.18" font-size="28.3">1</tspan></text>
<line x1="773.2" y1="129.46" x2="839.4" y2="129.46" stroke="#00ff00" stroke-width="2.7"/>
<text><tspan x="845.71" y="139.26" font-size="28.3">step </tspan><tspan x="907.52" y="139.26" font-size="28.3">3</tspan><tspan x="924.32" y="139.26" font-size="28.3">.</tspan><tspan x="931.68" y="139.26" font-size="28.3">2</tspan></text>
<line x1="773.2" y1="164.54" x2="839.4" y2="164.54" stroke="#0000ff" stroke-width="2.7"/>
<text><tspan x="845.71" y="174.34" font-size="28.3">step </tspan><tspan x="907.52" y="174.34" font-size="28.3">3</tspan><tspan x="924.32" y="174.34" font-size="28.3">.</tspan><tspan x="931.5" y="174.34" font-size="28.3">3</tspan></text>
<line x1="773.2" y1="199.62" x2="839.4" y2="199.62" stroke="#00ffff" stroke-width="2.7"/>
<text><tspan x="845.71" y="209.42" font-size="28.3">step </tspan><tspan x="907.95" y="209.42" font-size="28.3">4</tspan><tspan x="924.32" y="209.42" font-size="28.3">.</tspan><tspan x="932.64" y="209.42" font-size="28.3">1</tspan></text>
<line x1="773.2" y1="234.7" x2="839.4" y2="234.7" stroke="#ff00ff" stroke-width="2.7"/>
<text><tspan x="845.71" y="244.5" font-size="28.3">step </tspan><tspan x="907.95" y="244.5" font-size="28.3">4</tspan><tspan x="924.32" y="244.5" font-size="28.3">.</tspan><tspan x="931.68" y="244.5" font-size="28.3">2</tspan></text>
<line x1="773.2" y1="269.78" x2="839.4" y2="269.78" stroke="#800080" stroke-width="2.7"/>
<text><tspan x="845.71" y="279.58" font-size="28.3">step </tspan><tspan x="907.95" y="279.58" font-size="28.3">4</tspan><tspan x="924.32" y="279.58" font-size="28.3">.</tspan><tspan x="931.5" y="279.58" font-size="28.3">3</tspan></text>
<line x1="773.2" y1="304.86" x2="839.4" y2="304.86" stroke="#808000" stroke-width="2.7"/>
<text><tspan x="845.71" y="314.66" font-size="28.3">step </tspan><tspan x="907.95" y="314.66" font-size="28.3">4</tspan><tspan x="924.32" y="314.66" font-size="28.3">.</tspan><tspan x="931.09" y="314.66" font-size="28.3">4</tspan></text>
<line x1="773.2" y1="339.94" x2="839.4" y2="339.94" stroke="#000080" stroke-width="2.7"/>
<text><tspan x="845.71" y="349.74" font-size="28.3">step </tspan><tspan x="907.95" y="349.74" font-size="28.3">4</tspan><tspan x="924.32" y="349.74" font-size="28.3">.</tspan><tspan x="931.45" y="349.74" font-size="28.3">5</tspan></text>
<text><tspan x="549.96" y="49.3" font-size="29.8">L</tspan><tspan x="566.76" y="49.3" font-size="29" font-family='"Liberation Serif", "Times New Roman", serif' textLength="17.02" lengthAdjust="spacingAndGlyphs">α</tspan><tspan x="583.14" y="49.3" font-size="28" font-family='"Liberation Serif", "Times New Roman", serif'>1</tspan></text>
<text><tspan x="592.9" y="111.6" font-size="22">L</tspan><tspan x="607.14" y="117.5" font-size="15.6">cryst</tspan></text>
<text><tspan x="593.04" y="145.6" font-size="22.6" textLength="31.89" lengthAdjust="spacingAndGlyphs">64 </tspan><tspan x="626.76" y="145.6" font-size="22.6" textLength="14.77" lengthAdjust="spacingAndGlyphs">A</tspan></text>
<text><tspan x="650.38" y="149.4" font-size="29.5">L</tspan><tspan x="667.14" y="149.4" font-size="29" font-family='"Liberation Serif", "Times New Roman", serif' font-style="italic">α</tspan><tspan x="681.49" y="149.4" font-size="28" font-family='"Liberation Serif", "Times New Roman", serif' font-style="italic">2</tspan></text>
<line x1="574.1" y1="55.7" x2="576.04" y2="79.84" stroke="#000" stroke-width="1.5"/>
<polygon points="577,91.8 571.7,78.2 580.1,77.5" fill="#000"/>
<line x1="603.9" y1="145.9" x2="599.67" y2="167.82" stroke="#000" stroke-width="1.5"/>
<polygon points="597.4,179.6 595.9,165.1 604.2,166.6" fill="#000"/>
<line x1="662.3" y1="154.3" x2="658.53" y2="180.13" stroke="#000" stroke-width="1.5"/>
<polygon points="656.8,192 654.7,177.5 663,178.8" fill="#000"/>
<line x1="288.4" y1="176.2" x2="305.96" y2="206.67" stroke="#ff0000" stroke-width="1.9"/>
<polygon points="312.2,217.5 301,207.2 308.9,202.6" fill="#ff0000"/>
<line x1="332.2" y1="243.3" x2="353.72" y2="267.64" stroke="#ff0000" stroke-width="1.9"/>
<polygon points="362,277 348.9,269.2 355.8,263.1" fill="#ff0000"/>
</g>
<g id="chartB">
<polyline points="1130.8,661.4 1132.3,660.7 1133.8,661.4 1135.4,661 1136.9,660.9 1138.4,659.7 1140,661.8 1141.5,661.4 1141.7,660 1142,658.4 1142.2,656.9 1142.4,655.5 1142.6,654.4 1143.1,656.3 1143.7,657 1144.2,659.6 1144.8,661.1 1146.3,660 1147.8,661.9 1149.3,660 1150.8,660.4 1152.3,662.1 1153.8,660.1 1155.4,660.5 1156.9,659.4 1158.4,661.2 1160,659.4 1161.5,659.9 1163,660.4 1164.6,660.1 1166.1,662 1167.7,660.2 1169.2,660 1170.7,661 1172.3,660 1173.8,660.2 1174.9,658.1 1176,657.6 1177,656.9 1178.1,654.7 1179.7,654.3 1181.3,653.5 1183,653.2 1184.6,654.2 1186.1,651.9 1187.6,651.3 1189.2,650.9 1190.7,650.4 1192.3,651.6 1193.8,651.8 1195.3,650.1 1196.1,650.1 1196.9,648.8 1197.8,646.2 1198.6,645.2 1199.4,643.2 1200.2,643.4 1201,641.4 1201.8,639.9 1202.7,637.8 1203.5,636.8 1204.4,637.7 1205.2,634.5 1206.1,633.7 1206.6,630.6 1207.1,630.8 1207.5,630.5 1208,628.1 1208.5,626.6 1209,624.4 1209.4,623.9 1209.9,623 1210.4,620.6 1210.8,619.2 1211.2,617.3 1211.6,616 1212,615.5 1212.4,612 1212.7,611 1213.1,608.5 1213.5,608.6 1213.9,605.8 1214.3,605 1214.7,603.1 1215.1,602.6 1215.5,600.9 1215.9,598.7 1216.3,597 1216.7,595.4 1217.1,593.7 1217.4,592.9 1217.8,590.3 1218.2,588.6 1218.6,587.1 1219,586.1 1219.4,583.2 1219.8,583.5 1220.2,581.5 1220.6,579.8 1221,578.1 1221.4,576.6 1221.8,575.1 1222.2,573.4 1223,571.4 1223.9,568.3 1224.7,569.4 1225.5,566.8 1227.6,565.7 1228,568.4 1228.3,569.8 1228.7,570.5 1229.1,572.8 1229.4,573.8 1229.8,575.1 1230.1,577.1 1230.4,578.4 1230.7,580.1 1231,580.7 1231.3,582.4 1231.6,584.3 1231.9,586.3 1232.2,588.3 1232.6,589.3 1232.9,590.9 1233.2,591.5 1233.5,593.8 1233.9,595.3 1234.2,597.2 1234.5,597.4 1234.8,599.6 1235.2,601.4 1235.5,603.2 1235.8,604.7 1236.1,606.1 1236.4,607.3 1236.8,608.1 1237.1,610.3 1237.4,611.5 1237.7,614 1238.1,614.7 1238.4,616.8 1239,618.3 1239.6,618.3 1240.2,621.5 1240.8,622.2 1241.5,624.2 1242.1,625.4 1242.7,626.8 1243.4,628.2 1244.1,630.4 1244.8,631.8 1245.6,632.7 1246.3,634.2 1247,635.5 1247.9,638.6 1248.7,638.6 1249.6,638.3 1250.4,641.7 1251.3,642 1252.4,643.5 1253.4,643.1 1254.5,645.1 1255.6,647.4 1256.9,649.4 1258.2,650.8 1259.5,649.7 1260.8,651.4 1262.1,651.8 1263.5,653.8 1264.9,652.5 1266.4,654.6 1267.8,652.5 1269.2,652.9 1270.7,655.3 1272.1,654 1273.5,656.5 1275,657.4 1276.4,658.4 1277.8,658.7 1279.3,659.4 1281,659.7 1282.7,659.4 1284.4,659 1286.2,660.1 1287.9,660.7 1289.6,660.1 1291.3,660.3 1293.1,658.8 1294.8,658.8 1296.5,658.8 1297.8,656.7 1299.1,655.7 1300.4,656.5 1301.7,655.6 1303,653.9 1304.2,652.3 1305.5,651.7 1306.8,652 1308.1,651.1 1309.4,649.6 1311.2,651.2 1313,649.9 1314.8,650.3 1315.9,653.1 1316.9,652.4 1318,655.6 1319.1,658 1320.2,657.3 1321.2,659 1323,657.4 1324.8,658.8 1326.6,658.1 1328.4,659.6 1330.1,657.8 1331.8,659.6 1333.5,658.2 1335.2,659.1 1336.8,659.2 1338.3,659.5 1339.9,659.9 1341.4,660.7 1342.9,659.6 1344.5,660.9 1346,660.3 1347.6,660.8 1349.2,659.3 1350.8,659.6 1352.5,659.8 1354.1,660.5 1355.7,658.6 1357.4,658.2 1359,659.3 1360.6,660.8 1362.2,658.1 1363.7,659.1 1365.3,658.9 1366.9,658.1 1368.5,657.4 1370.1,657.1 1371.7,658.1 1373.2,660.6 1374.8,659.5 1376.4,659.9 1378,660.6 1379.5,661.4 1381,659 1382.5,658.3 1384.1,657.1 1385.6,656.5 1387.2,658.8 1388.8,658.9 1390.5,657.2 1392.1,659.4 1393.7,658.3 1395.4,661.2 1397,660 1398.6,659.7 1400.1,659.7 1401.7,661.6 1403.3,658.5 1404.9,658.3 1406.5,660.3 1408.1,660.6 1409.6,658.9 1411.2,658.1 1412.8,659.8 1414.4,658.7 1416,660 1417.5,658.7 1419,658.8 1420.5,659.7 1422.1,657.2 1423.6,657.2 1425.1,658 1426.6,657.6 1428.1,657.9 1429.6,657.6 1431.2,657.3 1432.7,657.7 1434.2,658.2 1435.7,656.9 1437.2,659.8 1438.8,659.4 1440.3,658.5 1441.8,659.5 1443.3,659 1444.8,659.9 1446.4,660.4 1447.9,661.8 1449.5,659.9 1451.1,660 1452.6,660.1 1454.2,660.5 1455.7,659.8 1457.3,660.9 1458.9,660.7 1460.4,660.5 1462,658.8 1463.6,661.3 1465.1,659.9 1466.7,662 1468.3,661.6 1469.8,661.5 1471.4,661.4 1473,660.9 1474.5,661.4 1476.1,661.9 1477.7,660.8 1479.3,659.9 1480.9,661.4 1482.5,660 1484,661.6 1485.6,660.4 1487.2,659.1 1488.8,660.1 1490.4,659.1 1491.9,659.7 1493.5,660.7 1495,658.8 1496.5,659.4 1498,657.7 1499.5,659.1 1501.1,660.4 1502.6,659 1504.1,658.1 1505.6,658.2 1507.1,657.8 1508.7,659.3 1510.2,657.9 1511.7,657.6 1513.2,659.1 1514.7,658.3 1516.3,657.2 1517.8,657.8 1519.3,659.5 1520.8,660.1 1522.3,658.8 1523.9,659.4 1525.4,659.1 1526.9,658.8 1528.4,660.1 1529.9,660.1 1531.5,661.1 1533.1,660.4 1534.7,660.3 1536.3,659 1537.8,661 1539.4,660.4 1541,659.4 1542.6,661.3 1544.2,658.6 1545.8,659 1547.3,660.1 1548.9,659.6 1550.5,659.9 1552.1,659.6 1553.7,658.5 1555.3,659.9 1556.8,660.2 1558.4,658.9 1560,658.2 1561.6,658.5 1563.2,657.1 1564.8,657.1 1566.3,658 1567.9,658 1569.5,659.6 1571.1,658.8 1572.7,657 1574.3,657.8 1575.8,658.4 1577.4,659.1 1578.9,657.5 1580.4,657.4 1581.9,659.1 1583.4,656.7 1584.9,657.4 1586.4,657.3 1587.9,656.2 1589.4,655.7 1590.9,657.9 1592.4,656.3 1593.9,656.4 1595.5,656.4 1597,657.4 1598.6,657.3 1600.1,656.4 1601.7,656.1 1603.2,656.6 1604.8,656.1 1606.3,656.4 1607.9,656.1 1609.4,657 1611,655.9 1612.5,656.2 1614,654.8 1615.6,656.4 1617.1,655.9 1618.7,655 1620.2,656.3 1621.8,656.1 1623.3,656.1 1624.9,656.8 1626.4,656.5 1628,656.6 1629.5,655.7 1631.1,656 1632.6,656 1634.2,657.8 1635.7,657.2 1637.3,657.8 1638.8,657.5 1640.4,655.7 1641.9,657.6 1643.4,656.5 1645,656.6 1646.5,657.8 1648.1,657 1649.6,658.1 1651.2,657.3 1652.7,657.9 1654.3,658.4 1655.8,658.2 1657.4,658.3 1658.9,658.3 1660.5,658 1662,657.8 1663.6,658.1 1665.1,658.2 1666.6,658.9 1668.1,659.1 1669.6,657.8 1671.1,658.9 1672.6,658.4 1674.1,657.7 1675.6,659.3 1677.1,657.1 1678.6,658.7 1680.1,658.9 1681.6,657.7 1683.1,659.2 1684.6,658.5 1686.2,658 1687.7,658.7 1689.2,658 1690.7,659.2 1692.2,658.5 1693.7,658.2 1695.2,659.3 1696.7,658.1 1698.2,658.8 1699.7,657.9 1701.2,658.7 1702.7,660 1704.2,659.3 1705.7,658.7 1707.2,659.7 1708.7,658.5 1710.2,659.3 1711.7,658.3 1713.3,659.1 1714.8,657.9 1716.3,658.1 1717.8,658.2 1719.3,658.8 1720.8,658.2 1722.3,659.7 1723.8,659.1 1725.3,659 1726.8,659.3 1728.3,659.3 1729.8,659.2 1731.3,657.7 1732.8,658.8 1734.3,658.9 1735.8,658.2 1737.3,659.3 1738.8,660.4 1740.4,658.9 1741.9,658.8 1743.4,659.4 1744.9,658.6 1746.4,658.7 1747.9,660.5 1749.4,658.8 1750.9,660.1 1752.4,658.1 1753.9,659.9 1755.4,659.8 1756.9,659.8 1758.4,659.5 1759.9,660.6 1761.4,658.8 1762.9,658.4 1764.4,658.1 1766,659.6 1767.5,658.4 1769,659.8 1770.5,659.2 1772,659.7 1773.5,658.7 1775,659.7 1776.5,660.1 1778.1,659.4 1779.6,658.5 1781.2,659.4 1782.7,658.9 1784.3,659.8 1785.8,660.4 1787.4,659.5 1788.9,659.6 1790.5,660.1 1792,659.7 1793.6,660.9 1795.1,660.7 1796.7,659.7 1798.2,660.1 1799.7,659 1801.3,661 1802.8,660.4 1804.4,661 1805.9,660.1 1807.4,659.2 1808.9,660 1810.5,660.3 1812,660.9 1813.5,660.7 1815,659.6 1816.6,660 1818.1,659.8 1819.6,661.3 1821.1,660.6 1822.6,660.5 1824.2,660.9 1825.7,660.7 1827.2,660.8 1828.7,660.4 1830.3,661.4 1831.8,660.7 1833.3,661.4 1834.8,661 1836.4,660.7 1837.9,660.1 1839.4,660.9 1840.9,660.5 1842.4,660.7 1844,660.8 1845.5,662.1 1847,660.6 1848.5,659.9 1850.1,660.9 1851.6,661.1" fill="none" stroke="#00ffff" stroke-width="2.3" stroke-linejoin="round" clip-path="url(#cb)"/>
<polyline points="1130.8,646.4 1132.4,645.1 1134,645.5 1135.6,645.7 1137.2,647.6 1138.7,647.5 1140.1,644.8 1141.5,644.2 1142.8,643.5 1144.1,646.1 1145.4,646.6 1146.7,649.3 1148,649.6 1149.3,647.4 1150.6,645.6 1151.9,645.3 1153.1,643.6 1154.4,642.9 1155.9,644.9 1157.3,645 1158.7,646.4 1160.2,645.3 1161.6,647.6 1163,648.3 1164.5,649.1 1165.9,647.4 1167.4,646.3 1168.8,645.6 1170.2,645.3 1171.7,644.1 1173.4,643.7 1175.1,644.4 1176.8,645.8 1178.5,646.2 1180.3,645.8 1181.7,643.9 1183.1,645.5 1184.6,644.3 1186,644.4 1187.4,643.5 1188.9,642 1190.6,641.8 1192.3,641.4 1194,639.9 1195.8,638.7 1197.5,640.3 1198.8,639.2 1200.1,637.1 1201.4,637.2 1202.7,635.7 1203.9,634.9 1205.6,635.1 1207.2,634.6 1208.8,632.5 1210.4,631.7 1211,628.9 1211.6,627.1 1212.2,625.5 1212.9,625.3 1213.5,624.2 1214.1,621.8 1214.7,620.6 1215.4,620 1216.1,617.8 1216.7,615.5 1217.4,614.9 1218.1,614.1 1218.7,613.4 1219.4,612.1 1220.1,609.8 1220.4,608.9 1220.7,606.8 1221.1,605.8 1221.4,604.2 1221.7,603.4 1222,600.2 1222.3,598.7 1222.7,597.9 1223,597.4 1223.3,594.5 1223.8,593.1 1224.3,592.8 1224.7,592.2 1225.2,588.5 1225.7,588.4 1226.2,587.7 1226.7,585.8 1227.1,583.3 1227.6,582.1 1227.9,580.2 1228.3,578 1228.6,576.9 1228.9,576.1 1229.2,574.1 1229.6,572.3 1229.9,570.1 1230.2,568.7 1230.5,569 1230.8,566.6 1231.2,564.9 1231.5,563.5 1231.8,562.7 1232.1,559.5 1232.5,559.1 1232.8,557.9 1233.1,555.5 1233.4,554.5 1233.8,553.8 1234.1,551.2 1234.6,549.1 1235.2,549.3 1235.7,545.9 1236.2,546.1 1236.8,543.6 1237.3,542.7 1238,541.9 1238.6,541.7 1239.2,539.2 1239.9,537.3 1240.5,535.4 1241.3,534 1242,532 1242.7,531 1243.8,532.4 1244.8,534.4 1245.9,535.2 1246.7,538 1247.5,540.5 1248.3,540.9 1249.1,542.4 1249.7,543.5 1250.2,543.5 1250.8,546.2 1251.3,547.6 1251.8,548.9 1252.4,551.4 1252.8,553.4 1253.2,554.7 1253.6,556.8 1254,558.3 1254.4,558.7 1254.8,562.6 1255.2,563 1255.6,564.8 1255.9,566 1256.2,568 1256.6,568.9 1256.9,569.9 1257.2,571.3 1257.5,573.2 1257.9,575.4 1258.2,577.1 1258.5,578.7 1258.8,579.5 1259.2,582 1259.6,582.5 1260,584.1 1260.4,585.9 1260.8,587.8 1261.3,588.7 1261.7,590 1262.1,592.5 1262.5,594.6 1263,594.7 1263.5,596.1 1264,598.9 1264.4,598.3 1264.9,600.2 1265.4,602.9 1265.9,602.9 1266.4,605.3 1266.8,605.9 1267.3,608.7 1267.8,609.2 1268.3,612.7 1268.8,612.8 1269.2,614.8 1269.7,615.8 1270.2,617.3 1270.7,619.2 1271.3,621.9 1271.9,622.9 1272.5,622.9 1273.1,623.9 1273.7,627.2 1274.4,628.8 1275,628.7 1276,630.8 1277.1,631.7 1278.2,632.1 1279.3,634.1 1280.4,635.4 1281.9,637.1 1283.4,636 1284.9,637.3 1286.4,638.8 1287.9,639.8 1289.5,639 1291.1,641.9 1292.7,641.8 1294.3,643.3 1296.1,642.1 1297.8,643.7 1299.5,642.3 1301.2,642.8 1303,642.2 1304.6,642.6 1306.2,643 1307.8,643.4 1309.4,644.1 1311,645.1 1312.6,645.4 1314.3,643.4 1315.9,645.5 1317.2,644.3 1318.5,643.1 1319.7,642.6 1321,639.2 1322.3,640 1323,637.3 1323.8,637.8 1324.5,633.8 1325.2,634 1325.9,631.7 1326.6,631.6 1327.2,630.4 1327.9,628.8 1328.5,627.8 1329.1,625.4 1329.7,623.2 1330.3,621.6 1330.9,620 1331.5,619.3 1332,616.7 1332.5,618 1333.1,615.6 1333.6,613.8 1334.2,612.8 1336.3,610.1 1337.4,610.9 1338.5,612.8 1339.5,613.9 1340.3,616.3 1341,616.3 1341.7,619.1 1342.4,618.6 1343.1,622.7 1343.8,623.3 1344.6,624.5 1345.3,623.8 1346,628.7 1346.7,630.1 1347.4,628.7 1348.2,630.7 1349,632.3 1349.9,634.4 1350.7,635.8 1351.6,636.7 1352.5,637.8 1353.6,640 1354.8,640.2 1355.9,642.4 1357.1,644.1 1358.6,643.5 1360.1,641.5 1361.7,642.2 1363.2,642.4 1364.7,641.9 1366.2,642.9 1367.6,643.5 1369.1,642.2 1370.6,643.2 1372.1,644.2 1373.6,644.9 1375,643.2 1376.5,643.7 1378,645.4 1379.9,646.1 1381.8,646.2 1383.7,646.4 1385.3,646 1387,646 1388.7,645.1 1390.3,645.3 1392,644.6 1393.7,646 1395.3,645.4 1397,644.8 1398.6,644.2 1400.1,645.8 1401.7,644.1 1403.3,645.8 1404.9,644.3 1406.5,645.7 1408.1,644.1 1409.6,644 1411.2,644.9 1412.8,644.3 1414.4,643.5 1416,643.3 1417.6,643.9 1419.1,644.8 1420.7,643.6 1422.3,645.4 1423.9,644.6 1425.5,645.4 1427.1,646 1428.6,645 1430.2,645 1431.8,646.2 1433.4,645.5 1435,645.3 1436.6,645.7 1438.2,645.9 1439.9,646.1 1441.5,644.7 1443.1,645.1 1444.7,645.6 1446.4,645 1448,645.8 1449.6,644.5 1451.2,643.7 1452.9,644.3 1454.5,643.8 1456.1,643 1457.8,643.2 1459.4,643.1 1461,644.2 1462.6,645.3 1464.3,642.9 1465.9,645.4 1467.5,643 1469.2,643.7 1470.7,643.6 1472.2,644.7 1473.7,645 1475.2,645.3 1476.8,645.1 1478.4,644.9 1480,644.2 1481.6,645.3 1483.3,645.3 1484.9,645.7 1486.5,645.6 1488.1,645.4 1490,644 1491.9,643.6 1493.5,645 1495.1,643.9 1496.7,644.5 1498.3,644.5 1499.9,644.4 1501.4,646 1503,646.9 1504.6,644.8 1506.2,645.8 1507.8,644.4 1509.4,645.2 1510.9,644.4 1512.5,645 1514.1,644.3 1515.7,644.7 1517.3,643 1518.9,644.8 1520.4,644 1522,645.5 1523.6,645.1 1525.2,646.6 1526.8,646.1 1528.4,644.5 1529.9,645.9 1531.5,646.8 1533.1,646.2 1534.7,646.9 1536.3,644.8 1537.8,645.3 1539.4,644.6 1541,645.3 1542.6,644.7 1544.2,644.5 1545.8,644.9 1547.3,646.7 1548.9,645 1550.5,645.1 1552.1,645.7 1553.7,644.8 1555.3,646.5 1556.8,646.5 1558.4,645.6 1560,645.2 1561.6,645.8 1563.2,645 1564.8,645.9 1566.3,645.5 1567.9,644.7 1569.5,645.1 1571.1,644.6 1572.7,645.6 1574.3,645.4 1575.8,646.4 1577.4,645.9 1578.9,644.5 1580.5,645.1 1582,645.3 1583.5,644.8 1585,644.3 1586.3,642.4 1587.5,642.1 1588.8,641.7 1590,641.4 1591.3,639.6 1592.5,639.4 1594.3,639 1596,639.6 1597.8,638 1599.5,638.5 1601.2,636.8 1602.8,638.7 1604.5,639 1606.2,639.1 1607.9,639.6 1609.5,639.7 1611.2,639.6 1612.9,639.6 1614.5,640.6 1616.2,642.1 1617.8,642.8 1619.3,641.3 1620.9,641.9 1622.4,640.7 1623.9,639.9 1625.5,638 1627,637.6 1628.6,638.7 1630.1,637.8 1631.7,637.5 1633.2,636.5 1634.8,636.7 1636.3,636.4 1637.9,635.6 1639.4,634.8 1641,635.2 1642.5,635.3 1644.1,634.8 1645.7,635.5 1647.3,634.7 1648.8,635.9 1650.4,636.4 1652,636.3 1653.6,636.6 1655.2,637.2 1656.8,638 1658.4,639 1660,639.1 1661.6,640.7 1663.2,640.1 1664.8,641.6 1666.4,640.4 1667.9,641.3 1669.5,642.2 1671.1,640.6 1672.7,643.3 1674.3,642.1 1675.9,643.6 1677.5,643.7 1679,642.4 1680.6,644.6 1682.1,643 1683.7,643.1 1685.2,645.7 1686.8,645.4 1688.3,646 1689.9,644.1 1691.4,644.8 1693,645.6 1694.5,644.2 1696.1,645.1 1697.6,646.5 1699.2,645.8 1700.7,647.1 1702.3,644.9 1703.8,646.1 1705.3,646.4 1707,646.6 1708.6,645.6 1710.2,645.9 1711.8,646.1 1713.5,646.3 1715.1,645.4 1716.7,647.4 1718.3,646.6 1720,647 1721.6,646.3 1723.2,645.8 1724.8,646.4 1726.4,647.4 1727.9,646.5 1729.5,645.4 1731,644.7 1732.6,645.8 1734.1,644.4 1735.7,644.2 1737.2,643.3 1738.8,643.5 1740.4,643.6 1742,642.1 1743.5,643.4 1745.1,642.6 1746.7,642.4 1748.3,641.9 1749.9,641.8 1751.6,643.3 1753.3,641.5 1754.9,643 1756.6,642.7 1758.3,644.1 1759.8,644.3 1761.3,642.9 1762.8,643.3 1764.4,644.6 1765.9,644.6 1767.4,645 1768.9,645.2 1770.4,646.3 1771.9,646.2 1773.5,645.9 1775,646.2 1776.6,647 1778.2,645.8 1779.8,646.5 1781.4,646.5 1782.9,647.2 1784.5,645.9 1786.1,646.6 1787.7,645.9 1789.3,645.7 1790.9,646.3 1792.5,646.8 1794.1,646.3 1795.7,646.7 1797.3,646.5 1798.9,645.2 1800.5,646.7 1802,645.2 1803.6,645.9 1805.2,646.8 1806.8,646.5 1808.4,645.8 1810,645.1 1811.6,645 1813.2,644.7 1814.8,646.3 1816.4,645.9 1818,645.1 1819.6,644.9 1821.1,644 1822.6,644.6 1824.1,644.6 1825.6,643.3 1827.2,644 1828.7,644.6 1830.2,644.7 1831.7,643.3 1833.2,642.7 1834.7,643.9 1836.3,643.2 1837.8,643.9 1839.3,643.7 1840.9,643.5 1842.4,643.5 1843.9,644.7 1845.5,646 1847,646.4 1848.5,646.1 1850.1,645.8 1851.6,646.4" fill="none" stroke="#ff00ff" stroke-width="2.3" stroke-linejoin="round" clip-path="url(#cb)"/>
<polyline points="1130.8,631.3 1131.8,633.9 1132.9,633.1 1134,634 1135.1,633.7 1136.1,632.8 1137.2,629 1138.3,629.5 1139.4,629.3 1141,629.6 1142.6,631.1 1144.2,629.3 1145.8,631.3 1147.1,632 1148.4,632.6 1149.7,630.5 1151,631.2 1152.3,627.7 1153.8,627.3 1155.4,628.1 1156.9,627.3 1158.4,627.5 1160,626.1 1161.5,625.1 1163,625.6 1164.5,625 1165.9,628.4 1167.4,629.9 1168.8,630.8 1170.2,631.2 1171.7,631.4 1172.5,629.7 1173.4,628 1174.2,628.3 1175.1,627.2 1176,624.8 1176.9,626 1177.8,626.6 1178.7,627.2 1179.5,631.4 1180.4,631.1 1181.3,632.9 1182.2,631 1183,628.8 1183.8,627.6 1184.6,626.5 1186.1,628.6 1187.6,627.4 1189.2,628.2 1190.7,626.6 1192.3,627 1193.8,627.6 1195.3,626.8 1197.1,628 1198.9,627.2 1200.7,629.5 1201.8,627.9 1202.9,625.4 1203.9,624.6 1205,624.2 1206.1,622.6 1207.5,622.7 1209,618.5 1210.4,619.7 1212,619.8 1213.6,619.3 1215.2,617.5 1216.9,616.1 1217.5,613.9 1218.1,613.6 1218.7,611.1 1219.2,611.7 1219.8,609.5 1220.4,607.6 1221,605.2 1221.6,605.1 1222.2,603.9 1222.9,601.7 1223.6,600.1 1224.3,600.1 1224.9,599.3 1225.6,596.8 1226.3,594.6 1226.9,592.8 1227.6,592.1 1228.1,592.8 1228.6,590.1 1229.1,587.7 1229.5,586.9 1230,586 1230.5,584.6 1231,582.3 1231.4,580.4 1231.9,579.3 1232.2,577.6 1232.4,575.8 1232.7,574.7 1232.9,574.6 1233.2,573 1233.4,571.6 1233.7,568.6 1234,567.6 1234.2,566.7 1234.5,564.4 1234.7,562.6 1235,562.2 1235.2,560.8 1235.5,557.3 1235.7,556.4 1236,554.3 1236.2,554 1236.5,552.2 1236.7,550.4 1236.9,549.3 1237.2,548.6 1237.4,547.1 1237.6,545.4 1237.8,542.3 1238.1,540.6 1238.3,540 1238.5,538.6 1238.8,537.5 1239,535.1 1239.2,533.7 1239.5,532.5 1239.7,531.2 1239.9,529.8 1240.1,527.2 1240.4,525.6 1240.6,524.2 1240.8,523.4 1241.1,521.5 1241.3,520.2 1241.5,518 1241.8,516.9 1242,515.2 1242.2,514 1242.5,512.4 1242.7,510.7 1242.9,509.3 1243,507.7 1243.2,505.9 1243.4,504.5 1243.5,502.8 1243.7,501.3 1243.9,499.5 1244.1,498.1 1244.2,496.7 1244.4,495 1244.7,493.6 1244.9,492 1245.2,490.4 1245.4,489.8 1245.7,487.9 1246,485.6 1246.2,484.8 1246.5,483.4 1246.7,481.1 1247,480.3 1247.4,479.6 1247.9,477.9 1248.3,475.8 1248.7,473.3 1249.1,471.2 1250.2,472.4 1251.3,470.2 1252.4,472 1253.4,473.3 1253.7,474.5 1254,476.3 1254.3,478.5 1254.5,479 1254.8,480.7 1255.1,483.3 1255.3,484.2 1255.6,486.4 1255.9,488.6 1256.1,490.3 1256.4,490.9 1256.7,492.1 1256.9,494.1 1257.2,497.1 1257.5,496.8 1257.8,499.3 1257.9,501.1 1258.1,502.5 1258.2,504.1 1258.4,505.8 1258.5,507.4 1258.7,509.1 1258.8,510.8 1259,512.4 1259.1,513.9 1259.3,515.5 1259.4,516.9 1259.6,518.4 1259.8,519.9 1259.9,521.5 1260.1,523.1 1260.2,524.5 1260.4,526.1 1260.5,527.8 1260.7,529.2 1260.8,530.6 1261,532.3 1261.1,534 1261.3,535.5 1261.4,536.7 1261.6,538.4 1261.8,540 1261.9,541.4 1262.1,543.1 1262.2,544.7 1262.4,546.1 1262.5,547.6 1262.7,549.3 1262.8,550.7 1263,552.2 1263.1,553.7 1263.3,555.2 1263.4,556.9 1263.6,558.2 1263.7,560 1263.9,561.6 1264.1,563 1264.2,564.6 1264.4,566.1 1264.6,567.8 1264.8,569.3 1265,570.9 1265.2,572.4 1265.4,573.9 1265.6,575.7 1265.8,577.1 1266,578.7 1266.2,580.2 1266.4,582.1 1266.8,582.1 1267.2,584.7 1267.7,584.7 1268.1,589.7 1268.5,588.9 1268.9,589.1 1269.4,592.4 1269.8,592.6 1270.2,595.4 1270.7,596.3 1271.1,599.9 1271.5,599.1 1272,600.9 1272.4,601 1272.8,603.8 1273.3,605.7 1273.7,607.4 1274.1,610.8 1274.5,611.2 1275,612.5 1275.8,612.8 1276.7,616 1277.6,617.9 1278.4,618.1 1279.3,619.8 1280.6,618.9 1281.9,623.2 1283.2,622.9 1284.4,624.1 1285.7,624.5 1287.2,626.4 1288.6,627.5 1290,627.8 1291.1,626.6 1292.2,623.7 1293.3,626.9 1294.3,623.4 1295.8,623.8 1297.2,625.5 1298.6,628.1 1300.1,627.5 1301.5,627 1303,629.2 1304.4,628.3 1305.8,628.8 1307.3,629 1308.7,628.5 1310.1,628.3 1311.6,625.6 1313.2,628.6 1314.8,627.7 1316.4,627.6 1318,628 1319.1,625.8 1320.2,625.5 1321.2,624.3 1322.3,622 1323.4,622.1 1324.1,622.6 1324.8,621.6 1325.6,620.2 1326.3,616.9 1327,615.9 1327.7,613.6 1328.2,613.8 1328.7,609.9 1329.1,609.5 1329.6,610.1 1330.1,604.8 1330.6,605.5 1331.1,602.5 1331.5,601 1332,601.8 1332.5,600.2 1333.1,598.3 1333.6,596.9 1334.2,594.3 1334.7,593.6 1335.2,592.8 1336.6,592.2 1338,589.8 1339.3,589.5 1340.5,592.6 1341.7,592.9 1342.2,594.5 1342.8,595.3 1343.3,597.7 1343.8,598.3 1344.4,599.7 1344.9,601.3 1345.4,602.2 1345.8,604.8 1346.3,606.9 1346.8,608.3 1347.2,607.9 1347.7,611.4 1348.2,612.5 1349,613.8 1349.9,614 1350.7,614.8 1351.6,619.9 1352.5,618.8 1353.6,619.8 1354.8,623.6 1355.9,623.6 1357.1,623.5 1359,625.8 1360.9,625.3 1362.4,625 1363.9,626 1365.5,625.9 1367,628.1 1368.5,626.5 1370.1,626.7 1371.7,626.4 1373.2,629 1374.8,627.7 1376.4,629.2 1378,628.3 1379.6,626.9 1381.2,628.4 1382.7,627.2 1384.3,625.5 1385.9,627.4 1387.5,627.4 1389.1,629.7 1390.6,627.7 1392.2,627.3 1393.8,628.5 1395.4,629.2 1397,630.5 1398.6,627.6 1400.1,629.6 1401.7,627 1403.3,629.1 1404.9,628.7 1406.5,627 1408.1,627.3 1409.8,627 1411.5,626.1 1413.1,625.7 1414.8,627.4 1416.4,627.3 1418.1,626.9 1419.8,626.9 1421.4,627.1 1422.9,628.8 1424.5,627 1426.1,630 1427.7,628.6 1429.3,628.6 1430.9,628.9 1432.4,627.6 1434,625.9 1435.6,628.7 1437.2,624.8 1438.8,626 1440.4,624.8 1442,626.9 1443.6,626.1 1445.3,627.9 1446.9,626.5 1448.5,627.1 1450.2,628.7 1451.7,628.5 1453.2,627.6 1454.7,628.1 1456.2,625.9 1457.8,627.1 1459.4,625.9 1461.1,625.3 1462.7,623.7 1464.4,622.9 1465.8,625.2 1467.3,625.6 1468.7,625.8 1470.1,625.8 1471.5,625.2 1473,628 1474.6,626.3 1476.2,627.6 1477.8,629.3 1479.5,628.7 1481.1,630 1482.7,628.2 1484.3,629.3 1486,629 1487.6,629.1 1489.2,629.9 1490.9,629.3 1492.5,629.6 1494.1,627.9 1495.7,628.2 1497.6,629 1499.5,630.2 1501.4,629.5 1503,629.8 1504.6,628.4 1506.2,629 1507.8,627.7 1509.4,627.6 1510.9,626.8 1512.5,627.6 1514.1,626.1 1515.7,627.7 1517.3,627.1 1518.9,625.7 1520.4,626.6 1522,627.8 1523.6,626.4 1525.2,627 1526.8,629.2 1528.4,627.6 1529.9,628.5 1530.9,627.1 1531.8,624.9 1533.4,626 1534.9,625.7 1536.4,626.2 1537.9,627.5 1539.4,628.5 1541,628.1 1542.6,629.1 1544.2,628.7 1545.8,627.6 1547.3,629.9 1548.9,629 1550.5,628.1 1552.1,629.1 1553.7,627.4 1555.3,626.2 1556.8,627.5 1558.4,627 1560,627.8 1561.6,628.6 1563.2,627.7 1564.8,629.6 1566.3,628.7 1567.9,629.2 1569.3,628.1 1570.8,628.6 1572.2,628.7 1573.6,627.6 1575.1,627.1 1576.7,628.4 1578.2,628.7 1579.7,627.8 1581.2,629 1582.6,628.3 1584.1,629.2 1585.5,626 1586.9,626.4 1587.8,624 1588.6,624.7 1589.5,623.1 1590.3,620.3 1591.1,619.8 1592.5,620.2 1593.9,618.4 1595.3,617.8 1596.7,616.2 1598.6,616.1 1600.4,617.8 1602.3,618.7 1603.7,620.3 1605.1,619.2 1606.5,620.9 1607.9,622.9 1609.2,621.5 1610.6,624.1 1612.2,624.7 1613.8,624.2 1615.4,625.1 1617,624.2 1618.6,625.3 1620.2,626.4 1621.8,626 1623.3,624.6 1624.9,625 1626.4,624.4 1628,624.4 1629.5,623.1 1631.1,624.1 1632.6,623.8 1634.2,621.8 1635.7,621.1 1637.3,619.2 1638.8,620 1640.4,621.5 1641.9,619.4 1643.4,618.4 1645,618.9 1646.5,619 1648.1,618.6 1649.6,617.4 1651.2,616.8 1652.8,617.3 1654.4,616.2 1656,617.2 1657.6,616.1 1659.2,615 1660.8,615.4 1662.6,615.9 1664.5,617.2 1666.4,616.7 1667.7,618.1 1669.1,617.8 1670.5,619.2 1671.9,620 1673.3,620.9 1674.7,621.1 1676.1,623 1677.5,623 1679,623.2 1680.6,622.7 1682.1,624.3 1683.7,623.5 1685.2,624.3 1686.8,624 1688.3,625.3 1689.9,625.8 1691.4,626.6 1693,626.2 1694.5,626.5 1696.1,626.4 1697.6,629 1699.2,628.6 1700.7,627.3 1702.3,627.7 1703.8,628.7 1705.3,628.4 1706.9,628 1708.4,628.4 1710,628.1 1711.5,629.7 1713.1,629 1714.6,628.9 1716.2,629.4 1717.7,629.2 1719.3,629.1 1720.8,628.9 1722.4,628 1723.9,626.9 1725.5,628.9 1727,629.1 1728.6,627.1 1730.1,627.7 1731.7,627.9 1733.2,626.9 1734.8,627.9 1736.4,626.4 1738,624.8 1739.6,626.4 1741.2,626.3 1742.8,623.6 1744.3,624.5 1746,624.6 1747.7,624.5 1749.4,625.3 1751,626 1752.7,625.6 1754.3,626.5 1755.9,626.1 1757.5,626.9 1759.1,627 1760.7,627.1 1762.3,628.8 1763.8,628.5 1765.4,628.3 1766.9,627.9 1768.4,629.2 1769.9,628.3 1771.4,628.6 1773,629.4 1774.5,629.7 1776,629.4 1777.5,628.1 1779,628.2 1780.6,629.6 1782.1,629.3 1783.7,629.8 1785.3,630 1786.9,629.5 1788.5,628.2 1790.1,629.6 1791.7,629.6 1793.3,630.6 1794.9,630.5 1796.5,628.9 1798.1,629.4 1799.7,628.8 1801.2,629.2 1802.8,629.2 1804.4,629.1 1805.9,628.5 1807.4,628.7 1808.9,629.4 1810.4,628.6 1812,629.2 1813.5,628.3 1815,628.8 1816.5,628.7 1818,628.6 1819.6,628.2 1821.1,626.9 1822.6,627.9 1824.1,627.2 1825.6,627.7 1827.2,626.5 1828.7,626.3 1830.2,626.6 1831.7,627.1 1833.2,625.8 1834.7,626.3 1836.3,626.2 1837.9,625.8 1839.6,627.6 1841.3,627 1843,626.2 1844.6,627.3 1846.4,628.1 1848.1,628.4 1849.8,628.4 1851.6,628.8" fill="none" stroke="#800080" stroke-width="2.3" stroke-linejoin="round" clip-path="url(#cb)"/>
<polyline points="1130.8,603.3 1131.8,605.1 1132.9,608.9 1134,606.9 1135.1,607.6 1135.8,610.7 1136.5,608.2 1137.2,611.9 1137.6,610.2 1138.1,609.6 1138.5,606.1 1138.9,606.6 1139.4,602.6 1139.8,603.1 1140.2,598.9 1140.7,598.7 1141.1,600.3 1141.5,598.2 1142.6,597.2 1143.7,599.7 1144.8,599.6 1145.8,600.4 1146.9,599.6 1148,603.1 1149.1,604.9 1150.1,605.5 1151.4,602.3 1152.7,605.1 1154,602.6 1155.3,604 1156.6,601.6 1158.2,603.1 1159.8,600.1 1161.4,604 1163,603.7 1164.5,603.8 1165.9,603.2 1167.4,601.5 1168.8,598.5 1170.2,598.5 1171.7,598.9 1173.1,596.4 1174.5,599.9 1176,600 1177.4,602.8 1178.8,601.3 1180.3,602.1 1181.7,604.7 1183.1,602.4 1184.6,598.7 1186,598.3 1187.4,596.2 1188.9,597.9 1190.6,598.7 1192.3,596.9 1194,598.5 1195.8,598.7 1197.5,597.5 1198.6,596.2 1199.6,593.2 1200.7,594.3 1201.8,591.8 1202.7,592.2 1203.5,587.9 1204.4,588.3 1205.2,587.7 1206.1,585.5 1207.4,588.5 1208.7,585 1210,582.4 1211.3,584 1212.6,582.4 1213.2,582 1213.9,579.3 1214.6,577.1 1215.2,575.9 1215.9,574.9 1216.6,572.9 1217.3,572.9 1217.9,570.9 1218.4,566.8 1218.8,566.7 1219.2,566.2 1219.7,564.8 1220.1,560.9 1220.5,563.5 1220.9,561.2 1221.4,558.6 1221.8,554.7 1222.2,556.2 1222.5,555.7 1222.7,553 1222.9,552.4 1223.2,550.5 1223.4,547.1 1223.6,546.3 1223.9,546.3 1224.1,543.3 1224.3,542.5 1224.5,540.8 1224.8,539 1225,537.7 1225.2,535.9 1225.5,534.6 1225.8,532.2 1226.1,531.4 1226.4,530 1226.8,526.8 1227.1,526.1 1227.4,525.7 1227.7,523.2 1228,522.4 1228.4,521.1 1228.7,519.4 1228.9,517.9 1229.1,516.2 1229.2,514.6 1229.4,513 1229.6,511.3 1229.8,509.8 1230,508.2 1230.1,506.3 1230.3,504.7 1230.5,503.2 1230.7,501.8 1230.8,500 1231,498.6 1231.1,496.6 1231.2,494.9 1231.3,493.4 1231.4,491.8 1231.5,490.2 1231.7,488.4 1231.8,487.1 1231.9,485.3 1232,483.7 1232.1,482.3 1232.3,480.5 1232.4,479.3 1232.6,477.8 1232.7,476.3 1232.8,474.8 1233,473.1 1233.1,472 1233.2,470.2 1233.4,468.7 1233.5,467.1 1233.7,465.6 1233.8,464.2 1233.9,462.8 1234.1,461.2 1234.2,459.8 1234.4,458.2 1234.5,456.9 1234.6,455.3 1234.8,453.8 1234.9,452.4 1235,450.9 1235.2,449.4 1235.3,447.7 1235.5,446.3 1235.6,444.8 1235.7,443.3 1235.9,442.1 1236,440.1 1236.1,438.8 1236.3,437.5 1236.4,435.7 1236.5,434.3 1236.6,432.8 1236.8,431.4 1236.9,429.8 1237,428.4 1237.2,426.7 1237.3,425.2 1237.4,424 1237.6,422.2 1237.7,421 1237.8,419.5 1238,417.9 1238.1,416.5 1238.2,414.6 1238.3,413.5 1238.5,411.6 1238.6,410.5 1238.7,408.9 1238.9,407.3 1239,405.8 1239.1,404.3 1239.2,402.8 1239.3,401.4 1239.5,399.7 1239.6,398.2 1239.7,396.5 1239.8,395.1 1239.9,394 1240,392.3 1240.2,390.6 1240.3,389.2 1240.4,387.6 1240.5,386.2 1240.6,384.4 1240.8,383.2 1240.9,381.9 1241,380 1241.1,378.6 1241.2,377 1241.3,375.9 1241.5,374.2 1241.6,372.5 1241.7,371.1 1241.8,369.6 1242,367.9 1242.1,366.3 1242.2,365 1242.4,363.4 1242.5,361.8 1242.7,360.6 1242.8,358.8 1243,357.4 1243.2,355.5 1243.3,354.3 1243.5,352.5 1243.6,351.2 1243.8,349.5 1243.9,347.8 1244,346.5 1244.2,344.8 1244.3,343.2 1244.5,342.1 1245,339.7 1245.6,339.7 1246.1,338.7 1246.7,332.5 1247.2,332.6 1248.3,331 1249.4,330.9 1250.5,333.4 1251.6,334.7 1251.9,336.3 1252.3,336.6 1252.6,338.1 1252.9,341.1 1253.3,344.4 1253.6,343.4 1254,347.6 1254.3,347.4 1254.4,348.9 1254.6,350.3 1254.7,352.2 1254.9,353.3 1255,355.1 1255.1,356.5 1255.3,358.1 1255.4,359.5 1255.6,361.2 1255.7,362.8 1255.8,364.2 1256,365.7 1256.1,367.2 1256.3,368.9 1256.4,370.3 1256.5,372 1256.7,373.2 1256.8,375.1 1257,376.5 1257.1,377.9 1257.2,379.3 1257.4,381 1257.5,382.3 1257.6,384.1 1257.7,385.8 1257.9,386.9 1258,388.7 1258.1,390.4 1258.2,391.9 1258.4,393.2 1258.5,394.8 1258.6,396.3 1258.8,397.7 1258.9,399.4 1259,400.8 1259.1,402.4 1259.3,403.8 1259.4,405.2 1259.5,407 1259.6,408.4 1259.8,409.9 1259.9,411.4 1260,412.9 1260.1,414.6 1260.2,415.9 1260.4,417.5 1260.5,418.9 1260.6,420.5 1260.7,421.8 1260.8,423.5 1260.9,425.1 1261,426.3 1261.1,427.9 1261.2,429.4 1261.4,430.8 1261.5,432.5 1261.6,433.9 1261.7,435.3 1261.8,437 1261.9,438.4 1262,440.1 1262.1,441.4 1262.3,443 1262.4,444.3 1262.5,445.8 1262.6,447.5 1262.7,449.3 1262.8,450.5 1262.9,452.1 1263,453.6 1263.1,455 1263.1,456.7 1263.2,458 1263.3,459.9 1263.4,461 1263.5,462.9 1263.6,464.3 1263.7,465.9 1263.8,467.4 1263.9,468.9 1264,470.5 1264.1,471.9 1264.1,473.4 1264.2,474.9 1264.3,476.6 1264.4,477.9 1264.5,479.4 1264.6,481 1264.7,482.6 1264.8,484.1 1264.9,485.6 1265,487 1265.1,488.5 1265.2,490.1 1265.3,491.5 1265.4,493.1 1265.5,494.7 1265.7,496 1265.8,497.6 1265.9,499.1 1266,500.7 1266.1,502 1266.2,503.7 1266.3,505 1266.4,506.5 1266.5,508.1 1266.6,509.5 1266.7,510.9 1266.8,512.3 1266.9,514.2 1267,515.8 1267.1,516.9 1267.2,518.6 1267.3,520 1267.4,521.5 1267.6,523.2 1267.7,524.4 1267.9,526.1 1268.1,527.7 1268.2,529.1 1268.4,530.6 1268.5,532.4 1268.7,533.7 1268.8,535.5 1269,536.8 1269.1,538.5 1269.3,539.9 1269.4,541.5 1269.6,543.1 1269.8,544.5 1269.9,546.3 1270.1,547.9 1270.3,549.6 1270.5,551.3 1270.7,552.7 1270.8,554.4 1271,556 1271.2,557.7 1271.4,559.1 1271.6,560.7 1271.7,562.7 1272.2,563.2 1272.7,566.5 1273.1,565.9 1273.6,565.8 1274,571.6 1274.5,572.8 1275,572.8 1275.4,574.3 1275.9,575.5 1276.4,577.8 1276.8,580.1 1277.3,579 1277.7,579.7 1278.2,584.5 1278.9,584.6 1279.5,588.2 1280.2,586.8 1280.9,588.4 1281.6,587.9 1282.2,588.9 1282.9,592.8 1283.6,594.4 1285.2,595.6 1286.8,595.1 1288.4,597.9 1290,597.3 1290.8,601.7 1291.7,602.7 1292.5,598.9 1293.3,603.5 1294.3,605.1 1295.4,601.2 1296.5,597.6 1297.6,598.6 1298.6,597.7 1299.9,599.2 1301.2,599 1302.5,601.5 1303.8,602.2 1305.1,602.1 1306.5,603.9 1308,600.8 1309.4,598.8 1310.5,599.9 1311.6,605 1312.6,603.8 1313.7,606.4 1314.8,604.9 1315.9,605 1316.9,601.5 1318,600.2 1319.1,599.2 1320.2,599.8 1321.2,600.3 1322.3,598.9 1323.4,597.5 1324.5,594.7 1325.6,594.1 1326.6,592 1327.1,589.7 1327.6,589.2 1328.1,588.1 1328.5,586.2 1329,585.1 1329.5,583.1 1330,582.8 1330.5,581.2 1330.9,579.5 1331.3,577.4 1331.6,575.2 1331.9,576.3 1332.2,571.7 1332.5,571.9 1332.9,571 1333.2,568.3 1333.5,568.6 1333.8,565.2 1334.2,564.9 1334.4,562.4 1334.6,561.5 1334.9,560.5 1335.1,558.8 1335.4,558.1 1335.6,554.7 1335.8,553.5 1336.1,552.1 1336.3,549.3 1337.9,549.4 1339.5,547.5 1340.6,549.3 1341.7,551.4 1342.1,551.7 1342.5,553 1342.9,555.2 1343.3,557.2 1343.7,558.8 1344.1,559.5 1344.5,561.7 1344.9,564.4 1345.3,564.7 1345.7,569.6 1346.1,569.9 1346.5,571.4 1346.9,571.4 1347.3,573.2 1347.7,577.6 1348.2,576.8 1348.7,578.4 1349.2,580.3 1349.8,582.1 1350.3,582.8 1350.8,582.3 1351.4,585.8 1351.9,588.3 1352.3,590.4 1352.8,591.4 1353.3,592.9 1354.6,592.8 1355.8,594.1 1357.1,594.9 1358.5,597.4 1359.9,597.2 1361.4,597.2 1362.8,598.6 1364.3,599.1 1365.8,597.8 1367.4,597.4 1368.9,598.9 1370.4,600.6 1371.9,599.2 1373.4,600.2 1374.9,601.6 1376.5,600.5 1378,601.4 1379.6,600.6 1381.2,603.6 1382.7,602.1 1384.3,600.9 1385.9,601.5 1387.5,602.6 1388.8,604.8 1390.2,600.1 1391.6,599.5 1392.9,599.1 1394.3,600.1 1395.6,598.7 1397,597.3 1398.6,597 1400.1,601.5 1401.7,599.6 1403.3,601.7 1404.9,600.5 1406.5,601.5 1407.1,600.9 1407.7,597.3 1408.4,594.7 1410,596.1 1411.6,595.5 1413.3,595.7 1414.9,596.9 1416.5,599 1418.1,598.3 1419.8,598.9 1421.4,601.3 1422.9,602 1424.5,598.3 1426.1,600.5 1427.7,600.7 1429.3,601.3 1430.9,601 1432.4,601.9 1434,603.7 1435.6,601.5 1437.2,603.7 1438.8,602.2 1440.1,602.8 1441.5,600.8 1442.8,602 1444.2,599.6 1445.5,599.3 1446.9,597.1 1448.3,597.8 1449.8,598 1451.3,598.1 1452.8,598.1 1454.3,599.8 1455.9,598.8 1457.3,599.5 1458.7,599.7 1460.1,596.6 1461.6,596.9 1463,595.4 1464.4,595.9 1465.8,598.2 1467.3,596.9 1468.7,598.2 1470.1,598.2 1471.5,598.3 1473,599.8 1474.5,598.9 1476,599.7 1477.5,597.2 1479,596.9 1480.6,596.6 1482,598.1 1483.4,598 1484.8,601.8 1486.2,600.9 1487.5,598.2 1488.8,598.1 1490,597.8 1491.2,598.8 1492.3,599.5 1493.5,600 1494.6,602.9 1495.7,602.2 1497.3,602 1498.8,601.9 1500.3,601.1 1501.8,600.8 1503.3,600.9 1504.9,599.2 1506.4,598.9 1507.9,599.4 1509.4,598.7 1510.9,598.8 1512.5,601.4 1514.1,599 1515.7,600.1 1517.3,601.6 1518.9,600.9 1520.4,601.9 1522,598.9 1523.6,601.2 1525.2,601.4 1526.8,599.9 1528.4,599.9 1529.9,598.8 1531.4,599.1 1532.8,599.5 1534.2,599.5 1535.6,600.6 1537.2,599.6 1538.8,599.6 1540.4,598.6 1542,598.8 1543.5,598.4 1545.1,599.8 1546.6,599.1 1548.2,598.6 1549.7,596.3 1551.2,598.3 1552.7,597 1554,598.1 1555.3,600.4 1556.5,601.7 1558,600.5 1559.6,599.2 1561.1,598 1562.6,600.6 1564.1,597.4 1565.7,597.5 1567.3,598.1 1568.9,598.8 1570.5,598.4 1572,597.5 1573.6,598.2 1575.1,596.5 1576.7,597.4 1578.2,594.7 1579.7,594.5 1581.2,595.9 1583.1,595.3 1585,597.2 1586.1,595.6 1587.2,596.7 1588.2,592.6 1589.3,594 1590.4,590.7 1591.5,590.8 1592.5,588.8 1593.9,589 1595.3,585.8 1596.7,586.7 1598.1,585.7 1599.5,584.7 1600.9,583.7 1602.3,584.7 1603.7,588.1 1605.1,588 1606.3,589.5 1607.5,589.4 1608.7,592.3 1609.8,592.4 1611,592.1 1612.2,593.9 1613.4,594.7 1615.1,594.2 1616.8,594.5 1618.4,593.2 1620.1,592.8 1621.8,592.9 1623.2,592.5 1624.6,590.8 1626,588.9 1627.4,590.4 1628.7,589.7 1630.1,587.8 1631.5,585.9 1632.9,585.4 1634.3,586.9 1635.7,583.6 1637.1,582.1 1638.5,581.8 1640.1,583.2 1641.7,581.8 1643.3,580.4 1644.9,580.9 1646.5,578 1648,578 1649.6,578.6 1651.3,578.4 1653,577.1 1654.7,576.6 1656.3,577.4 1658,577.9 1659.4,578.7 1660.8,578.7 1662.2,582.4 1663.6,580.8 1665,581.7 1666.4,583.9 1667.7,584.3 1669.1,586 1670.5,587.3 1671.9,587.2 1673.3,586.5 1674.7,589.2 1676.1,589.3 1677.5,590.4 1678.9,592.2 1680.3,593.5 1681.7,591.2 1683.1,592.4 1684.5,594.2 1685.8,594.5 1687.2,593.4 1688.6,595.3 1690,597.1 1691.4,596.1 1693,595.5 1694.5,597 1696.1,598.1 1697.6,597.8 1699.2,597.5 1700.7,597.6 1702.3,598.5 1703.8,599.2 1705.3,599.1 1706.9,598.6 1708.4,598.7 1710,598.5 1711.5,599.5 1713.1,599.5 1714.6,599.3 1716.2,598.8 1717.7,598.1 1719.3,599.7 1720.8,599 1722.4,601.1 1723.9,598 1725.5,597.9 1727,600.1 1728.6,600.1 1730.1,599.2 1731.7,599.7 1733.2,599.5 1734.6,596.9 1736,597.9 1737.4,597.6 1738.8,597.8 1740.2,596 1741.6,594.7 1743,594.1 1744.3,593.5 1745.7,594.7 1747.1,592.8 1749,593.1 1750.8,594.9 1752.7,594.7 1754.1,595.4 1755.5,594.2 1756.9,596.2 1758.3,596.4 1759.7,598.1 1761.1,598.1 1762.5,598.4 1763.8,599.1 1765.2,600.7 1766.6,601.3 1768,601.3 1769.4,601.4 1771,602.2 1772.6,600.9 1774.2,601.3 1775.8,601.3 1777.4,603.3 1779,603.2 1780.6,601.6 1782.1,602.9 1783.7,600.4 1785.3,601.3 1786.9,601.1 1788.5,601.6 1790.1,600.1 1791.7,601.3 1793.3,600.3 1794.9,601.1 1796.5,601.5 1798.1,601.1 1799.7,600.9 1801.2,600.4 1802.8,599.9 1804.4,600.9 1805.9,599.2 1807.4,601.5 1808.9,600 1810.4,600 1812,601.3 1813.5,601.4 1815,601.4 1816.5,602 1818,601.9 1819.6,602.9 1821.1,601.7 1822.7,601.2 1824.3,600.8 1825.9,599.4 1827.5,599.8 1829.1,599 1830.7,599.5 1832.3,599.7 1833.9,599.3 1835.5,599.1 1837.1,599 1838.7,599.3 1840.2,600.6 1841.8,599.9 1843.5,599.9 1845.1,601.4 1846.7,600.2 1848.3,601.7 1850,603 1851.6,602.4" fill="none" stroke="#808000" stroke-width="2.3" stroke-linejoin="round" clip-path="url(#cb)"/>
<polyline points="1130.8,599 1130.9,598.1 1131,596.9 1131.2,596.1 1131.3,594.9 1131.5,593.3 1131.6,593 1131.7,591.6 1131.9,591 1132,590.1 1132.2,589.3 1132.3,587.9 1132.4,586.6 1132.6,585.9 1132.7,584.8 1132.9,583.1 1133,582.5 1133.1,581.3 1133.3,580.8 1133.4,579.6 1133.6,578.6 1133.7,577.7 1133.9,576.5 1134,573.7 1134.5,574.3 1134.9,580 1135.4,576.9 1135.8,576.8 1136.3,583.3 1136.8,583.8 1137.2,581.5 1137.5,580.1 1137.7,582.5 1138,578 1138.2,575.7 1138.5,578.7 1138.7,579.5 1139,571.6 1139.2,572.1 1139.5,574.7 1139.8,571.8 1140,572.7 1140.3,571.1 1140.5,573.6 1140.8,563.2 1141,568 1141.3,563.5 1141.5,563.4 1141.7,564.1 1141.9,565.6 1142,569.1 1142.2,568.3 1142.4,568.1 1142.5,569.1 1142.7,572 1142.9,573.7 1143.1,571.9 1143.2,575 1143.4,576 1143.6,576.3 1143.7,577.2 1143.9,578.2 1144.1,578.8 1144.2,579.3 1144.4,581.6 1144.6,582.4 1144.8,583.6 1145,582.2 1145.2,587.7 1145.4,586.5 1145.6,592.2 1145.8,593.2 1146,589.7 1146.3,595.2 1146.5,589.8 1146.7,589.1 1146.9,592.2 1147.1,594.3 1147.3,596.5 1147.6,601.2 1147.8,595.7 1148,599 1148.1,599.5 1148.3,597.3 1148.4,598.5 1148.6,596.4 1148.7,596.5 1148.9,594.6 1149.1,592.4 1149.2,591.4 1149.4,588.2 1149.5,589.3 1149.7,588.3 1149.8,586.8 1150,585.4 1150.1,584.6 1150.3,586.1 1150.4,582.9 1150.6,582.4 1150.7,581.7 1150.9,577.6 1151.1,578.5 1151.2,577.6 1151.4,574 1151.5,576.4 1151.7,573.8 1151.8,573.9 1152,574.4 1152.1,571.5 1152.3,570.6 1152.5,571.8 1152.7,575.2 1152.9,571.5 1153.1,572.5 1153.4,575.6 1153.6,575.7 1153.8,580.1 1154,578.6 1154.2,580 1154.4,580.2 1154.7,578.5 1154.9,584.3 1155.1,584.3 1155.3,584.6 1155.5,585.4 1155.7,587.1 1155.9,586.5 1156.1,584.9 1156.3,581.8 1156.5,578.8 1156.7,578.5 1156.9,576.3 1157.2,576.9 1157.4,580.4 1157.6,573.7 1157.8,577.2 1158,571.8 1158.2,573 1158.4,568.3 1158.6,570.6 1158.8,566.6 1159,568.7 1159.2,566.9 1159.4,568.1 1159.6,568.2 1159.8,564 1160.1,566.4 1160.3,565.5 1160.6,566.2 1160.8,568.6 1161.1,567.3 1161.3,572.5 1161.6,570.4 1161.8,574.8 1162.1,573 1162.3,574.8 1162.6,574.1 1162.8,574.1 1163,577.5 1163.3,579.7 1163.6,571.8 1163.9,573.2 1164.2,572.9 1164.5,570.3 1164.8,571.3 1165.1,574.5 1165.4,572.5 1165.7,562.8 1166,564.3 1166.3,566.8 1166.5,567.2 1166.7,571.2 1166.9,568.8 1167.1,572.5 1167.3,571.6 1167.5,569.5 1167.7,574.3 1167.9,574.6 1168.1,577.8 1168.3,575.7 1168.6,579.3 1168.8,576.2 1169,579 1169.2,581.8 1169.4,580.6 1169.6,582.7 1169.8,585.4 1170,586.5 1170.2,585.7 1170.4,586.1 1170.6,588.4 1170.8,587.7 1171,589.5 1171.2,592 1171.5,587.5 1171.7,592 1171.9,590.3 1172.2,591.1 1172.5,590.4 1172.8,590.8 1173.1,592.7 1173.4,587.1 1173.7,580 1174,582 1174.2,586.3 1174.5,581.6 1174.8,577.3 1175.1,580.1 1175.4,578.9 1175.7,582.3 1176,577.4 1176.5,577.7 1177,582.2 1177.6,580.6 1178.1,574.4 1178.7,584.1 1179.2,583.2 1179.7,588.2 1180.3,585.9 1180.8,581.5 1181.3,585.1 1181.8,586.5 1182.2,587.6 1182.7,585.6 1183.1,580.4 1183.6,582.3 1184,582.9 1184.5,580.6 1184.9,576.5 1185.4,576.8 1185.8,572.6 1186.3,576.7 1186.7,575 1187.1,573.7 1187.4,583.7 1187.7,576.9 1188,579.3 1188.4,581.9 1188.7,582.7 1189,580.7 1189.4,580.8 1189.7,586.4 1190,586.8 1190.4,587.9 1190.7,582.1 1191,588.2 1191.2,587.2 1191.3,586.3 1191.4,585.2 1191.6,584.4 1191.7,582.8 1191.8,582.5 1192,581.1 1192.1,580.3 1192.2,578.9 1192.4,578.1 1192.5,576.8 1192.6,575.7 1192.8,575.1 1192.9,573.5 1193,572.8 1193.2,571.8 1193.3,570.8 1193.5,569.6 1193.6,569 1193.7,567.9 1193.9,566.3 1194,565.3 1194.1,564.5 1194.3,563.6 1194.4,564.9 1194.5,565.6 1194.6,566.3 1194.8,567.5 1194.9,568 1195,569.5 1195.2,570.6 1195.3,571.7 1195.4,572.3 1195.6,573.9 1195.7,574.8 1195.8,575.4 1196,576.4 1196.1,577.5 1196.2,578.4 1196.3,580.2 1196.5,580.8 1196.6,581.4 1196.7,582.3 1196.9,583.3 1197,584.7 1197.1,585.3 1197.3,586.8 1197.4,588 1197.5,588.9 1197.6,589.8 1197.8,590.5 1197.9,591.6 1198,592.8 1198.2,593.8 1198.3,594.7 1198.4,595.8 1198.6,597.1 1198.8,597.7 1199,595.8 1199.2,595 1199.4,592.5 1199.6,589.4 1199.8,588.6 1200,589.7 1200.2,588.3 1200.4,591.2 1200.6,587.5 1200.8,586.5 1201,588.4 1201.3,580.8 1201.5,579.1 1201.7,579.1 1201.9,583.2 1202.1,580.9 1202.3,580.3 1202.5,576.6 1202.7,578.3 1202.9,574.4 1203.1,574.6 1203.3,575.7 1203.5,574.6 1203.7,568.3 1203.9,571.1 1204.3,568.7 1204.6,571.4 1204.9,575 1205.3,580.3 1205.6,576.9 1205.9,576.2 1206.3,576.9 1206.6,584.3 1206.9,580 1207.3,582.2 1207.6,582.9 1207.9,589.2 1208.2,584.2 1208.5,583.7 1208.7,581.4 1208.9,579.8 1209.2,580.6 1209.4,577.3 1209.6,575.3 1209.8,577.2 1210.1,579.8 1210.3,571.8 1210.5,574.1 1210.7,574.5 1211,572.7 1211.2,571.4 1211.4,570.7 1211.6,567.4 1211.9,564.9 1212.1,566.1 1212.3,565.4 1212.6,565 1213.4,566.3 1214.3,563.2 1215.2,564 1216.1,560 1217,559.4 1217.9,562.9 1218.4,562.3 1218.9,561.4 1219.3,563.3 1219.8,560.5 1220.2,559.3 1220.7,568.2 1221.2,566.8 1221.3,565.7 1221.4,565.2 1221.6,563.2 1221.7,562.7 1221.8,561.3 1222,560.5 1222.1,560.1 1222.2,558.7 1222.4,557.6 1222.5,556.4 1222.7,556 1222.8,554.1 1222.9,553.8 1223.1,552.6 1223.2,551.5 1223.3,550.4 1223.5,549.4 1223.6,548.5 1223.7,546.1 1224,547 1224.2,548.1 1224.4,548.4 1224.6,548.6 1224.8,551.7 1225,555.5 1225.3,558.2 1225.5,555.4 1225.7,557.6 1225.9,557.5 1226.1,558.8 1226.3,558.9 1226.5,560.6 1226.8,561.6 1227,562.8 1227.3,557.3 1227.5,557.1 1227.8,558.8 1228,554.5 1228.3,555.7 1228.5,553.4 1228.8,550.1 1229,550.1 1229.3,553.9 1229.5,548.6 1229.8,547.8 1230.1,543.9 1230.3,544.9 1230.6,543.1 1230.9,544.9 1231.2,539.6 1231.5,536.1 1231.8,541 1232.1,540.9 1232.4,541.4 1232.6,538.8 1232.9,537.8 1233.2,536 1233.5,536.1 1233.8,528.1 1234.1,530.4 1234.3,531.3 1234.6,530.4 1234.8,532.9 1235.1,527.6 1235.3,524.2 1235.6,525.6 1235.8,526.5 1236.1,526.1 1236.3,527.1 1236.6,521.5 1236.8,518.5 1237.1,520.5 1237.3,519 1237.6,520.3 1237.9,513.8 1238.2,515.7 1238.5,513.7 1238.8,516.7 1239.1,512.6 1239.4,507.2 1239.7,516.9 1239.9,506.3 1240.2,508.4 1240.5,508.9 1240.7,505.2 1240.8,505.8 1241,505.6 1241.1,503.8 1241.3,503.3 1241.4,501.9 1241.5,501.6 1241.7,502 1241.8,499.6 1242,498.4 1242.1,495.8 1242.3,495.6 1242.4,496.4 1242.5,497.1 1242.7,493.7 1242.8,493.5 1243,492 1243.1,490.6 1243.2,489.6 1243.3,488.4 1243.4,487 1243.5,485.9 1243.7,485.3 1243.8,484.3 1243.9,483.5 1244,482.2 1244.1,481 1244.2,479.9 1244.2,478.6 1244.3,477.9 1244.3,476.5 1244.3,476 1244.4,474.7 1244.4,473.8 1244.5,472.8 1244.5,472.2 1244.5,470.8 1244.6,469.6 1244.6,469.1 1244.6,468 1244.7,467 1244.7,466.2 1244.8,464.7 1244.8,463.7 1244.8,462.5 1245.6,457.4 1246.3,462.3 1247,460.4 1247,459.5 1247.1,458.2 1247.1,457.8 1247.1,456.4 1247.1,455.1 1247.2,454.3 1247.2,453.7 1247.2,452.3 1247.3,451.4 1247.3,450.5 1247.3,449.8 1247.4,448.4 1247.4,447.8 1247.4,446.5 1247.5,445.4 1247.5,444.3 1247.5,443.4 1247.6,442.4 1247.6,441.4 1247.6,440.5 1247.7,439.2 1247.7,438.1 1247.7,437.2 1247.8,435.9 1247.8,435.6 1247.8,434.4 1247.8,433 1247.9,432.2 1247.9,430.7 1247.9,430 1248,429.3 1248,428.3 1248,427 1248.1,426.1 1248.1,424.9 1248.1,424.5 1248.2,423 1248.2,422 1248.2,421.1 1248.3,420.4 1248.3,419 1248.3,418.2 1248.4,416.8 1248.4,415.9 1248.4,414.9 1248.5,414 1248.5,413.4 1248.5,412 1248.6,411.1 1248.6,409.9 1248.6,408.8 1248.7,408.4 1248.7,406.6 1248.7,405.6 1248.8,404.6 1248.8,404 1248.8,402.8 1248.9,401.7 1248.9,401.1 1248.9,399.9 1249,398.8 1249,398 1249,396.7 1249.1,395.9 1249.1,394.6 1249.1,393.8 1249.2,393 1249.2,392 1249.2,391.2 1249.3,389.8 1249.3,388.9 1249.3,387.7 1249.4,386.8 1249.4,385.4 1249.4,384.9 1249.5,383.5 1249.5,382.4 1249.5,381.8 1249.6,380.8 1249.6,379.5 1249.6,378.8 1249.7,377.8 1249.7,376.5 1249.7,375.5 1249.8,374.6 1249.8,373.4 1249.8,372.5 1249.9,371.4 1249.9,370.5 1250,369.8 1250,368.3 1250,367.7 1250.1,366.3 1250.1,365.4 1250.1,364.4 1250.2,363.8 1250.2,362.7 1250.2,361.6 1250.3,360.6 1250.4,358.9 1250.6,358.3 1250.7,357.7 1250.8,356.3 1250.9,355 1251,354 1251.1,352.6 1251.2,352.3 1251.3,350.6 1251.5,349.7 1251.6,348.3 1251.7,348 1251.8,346.7 1251.8,345.5 1251.8,344.7 1251.8,343.8 1251.8,342.4 1251.8,341.6 1251.8,340.6 1251.8,339.4 1251.8,338.5 1251.8,337.9 1251.9,336.6 1251.9,336 1251.9,334.5 1251.9,333.7 1251.9,332.4 1251.9,331.2 1251.9,330.9 1251.9,329.3 1251.9,328.5 1251.9,327.1 1251.9,326.6 1251.9,325.3 1251.9,324.5 1251.9,323.5 1251.9,322.3 1251.9,321.9 1251.9,320.7 1251.9,319.1 1252,318.4 1252,317.6 1252,316.4 1252,315.5 1252,314.7 1252,313.6 1252,312.1 1252,311.3 1252,310.3 1252,309.4 1252,308.7 1252,307.7 1252,306.3 1252,305.1 1252,304.7 1252,303.1 1252,301.8 1252,301.3 1252.1,300 1252.1,299.5 1252.1,298.2 1252.1,297.4 1252.1,296.1 1252.1,295.3 1252.1,294.5 1252.1,293.5 1252.1,292.2 1252.1,290.9 1252.1,290.1 1252.1,289.2 1252.1,288.2 1252.1,287.2 1252.1,286.5 1252.1,285.1 1252.2,284.2 1252.2,283.6 1252.2,282.2 1252.2,281 1252.2,279.7 1252.2,279 1252.3,278.2 1252.3,277.2 1252.3,276.4 1252.3,274.8 1252.3,274.2 1252.3,273.4 1252.4,271.7 1252.4,271.6 1252.4,269.9 1252.4,268.9 1252.4,268.3 1252.5,267.2 1252.5,266.4 1252.5,264.9 1252.5,264.1 1252.5,262.9 1252.5,262.3 1252.6,260.9 1252.6,260 1252.6,259.3 1252.6,257.8 1252.6,257.2 1252.6,256.1 1252.7,255.4 1252.7,254 1252.7,253.3 1252.7,252.1 1252.7,251.2 1252.8,250.3 1252.8,248.9 1252.8,248.3 1252.8,246.8 1252.8,246.2 1252.8,245.2 1252.9,244 1252.9,243.2 1252.9,241.9 1252.9,240.9 1252.9,239.9 1253,239.1 1253,237.8 1253,237.4 1253,236.1 1253,234.9 1253,234.5 1253.1,233.5 1253.1,232 1253.1,231 1253.1,229.9 1253.1,229 1253.1,228.5 1253.2,226.9 1253.2,226.1 1253.2,224.9 1253.2,224 1253.2,223.1 1253.3,221.9 1253.3,220.8 1253.3,220.1 1253.3,219.1 1253.3,217.9 1253.4,217 1253.4,216.2 1253.4,215.1 1253.4,214.1 1253.4,213 1253.5,212.2 1253.5,210.7 1253.5,210.4 1253.5,209.2 1253.5,207.8 1253.6,207.4 1253.6,206 1253.6,205 1253.6,203.9 1253.6,203.4 1253.7,202.3 1253.7,201 1253.7,199.8 1253.7,198.9 1253.7,198.1 1253.7,196.5 1253.8,195.8 1253.8,195.1 1253.8,194.3 1253.8,192.7 1253.8,191.8 1253.9,190.5 1253.9,189.6 1253.9,189 1253.9,187.8 1253.9,186.6 1254,186 1254,184.7 1254,184.4 1254,182.9 1254,182.1 1254.1,181 1254.1,180.3 1254.1,179 1254.1,178.1 1254.1,176.5 1254.2,175.8 1254.2,175.4 1254.2,174.1 1254.2,173 1254.2,171.5 1254.3,171.1 1254.3,170.2 1254.3,168.7 1254.3,168.3 1254.3,167.1 1254.4,165.6 1254.4,164.7 1254.4,164.1 1254.4,162.8 1254.4,161.7 1254.5,160.9 1254.5,160 1254.5,158.5 1254.5,157.7 1254.5,156.8 1254.6,155.6 1254.6,155 1254.6,154 1254.6,152.9 1254.6,151.7 1254.7,151.1 1254.7,149.8 1254.7,149 1254.7,148 1254.7,146.8 1254.8,145.8 1254.8,144.5 1254.8,143.6 1254.8,142.7 1254.8,141.9 1254.9,140.8 1254.9,139.6 1254.9,138.4 1254.9,138 1254.9,137 1255,136.1 1255,135.3 1255,134 1255,133.2 1255,131.6 1255.1,130.7 1255.1,129.6 1255.1,128.6 1255.1,127.5 1255.1,126.9 1255.2,125.7 1255.2,124.5 1255.2,124 1255.2,123.2 1255.2,121.4 1255.3,121 1255.3,120.2 1255.3,118.6 1255.3,117.8 1255.3,116.4 1255.4,115.3 1255.4,114.5 1255.4,113.5 1255.4,112.3 1255.4,111.7 1255.5,111.1 1255.5,109.6 1255.5,108.6 1255.5,107.3 1255.5,107.1 1255.6,105.9 1255.6,104.4 1255.6,104 1255.6,103.1 1255.6,101.7 1255.7,101.1 1255.7,99.2 1255.7,98.7 1255.7,97.2 1255.7,96.7 1255.8,95.5 1255.8,94.8 1255.8,93.3 1255.8,92.4 1255.8,91.7 1255.9,90.2 1255.9,89.9 1255.9,88.5" fill="none" stroke="#000080" stroke-width="2.3" stroke-linejoin="round" clip-path="url(#cb)"/>
<polyline points="1277.8,88.5 1277.8,89.4 1277.8,90.6 1277.9,91.8 1277.9,92.4 1277.9,93.9 1277.9,94.8 1277.9,95.7 1278,96.7 1278,97.9 1278,98.8 1278,99.8 1278.1,100.4 1278.1,101.7 1278.1,103.1 1278.1,103.8 1278.2,104.5 1278.2,105.6 1278.2,107 1278.2,108.1 1278.3,108.6 1278.3,109.9 1278.3,110.5 1278.3,111.8 1278.4,113 1278.4,113.4 1278.4,114.9 1278.4,115.6 1278.5,116.8 1278.5,117.8 1278.5,118.7 1278.5,119.7 1278.6,120.9 1278.6,121.9 1278.6,122.8 1278.6,123.4 1278.7,124.6 1278.7,125.4 1278.7,126.5 1278.7,127.6 1278.8,129 1278.8,129.7 1278.8,131 1278.8,131.8 1278.9,132.9 1278.9,134.2 1278.9,134.9 1278.9,135.8 1278.9,136.7 1279,138 1279,139.1 1279,140.3 1279,140.8 1279.1,141.6 1279.1,143 1279.1,144 1279.1,145 1279.2,145.8 1279.2,147.1 1279.2,147.8 1279.2,149.2 1279.2,150 1279.2,151.1 1279.2,152.2 1279.2,152.9 1279.2,154.1 1279.3,154.9 1279.3,156 1279.3,157.3 1279.3,158.3 1279.3,159.1 1279.3,160.2 1279.3,161.3 1279.3,162 1279.3,163.5 1279.4,163.9 1279.4,165.1 1279.4,165.9 1279.4,167 1279.4,168.2 1279.4,169.5 1279.4,170.1 1279.4,171.1 1279.4,172 1279.4,173.1 1279.5,174.6 1279.5,175.5 1279.5,175.8 1279.5,176.8 1279.5,178 1279.5,179.3 1279.5,180.4 1279.5,181.5 1279.5,182.1 1279.6,183.3 1279.6,184.4 1279.6,185 1279.6,186.7 1279.6,187.6 1279.6,187.9 1279.6,189.5 1279.6,190.2 1279.6,191.3 1279.7,192.1 1279.7,193.3 1279.7,194.4 1279.7,195.1 1279.7,196.2 1279.7,197.5 1279.7,198 1279.7,199.4 1279.7,200.4 1279.7,201.2 1279.8,202.4 1279.8,203.4 1279.8,204.3 1279.8,205.3 1279.8,206.6 1279.8,207.2 1279.8,208.5 1279.8,209.4 1279.8,210.5 1279.9,211.4 1279.9,212.5 1279.9,213.7 1279.9,214.4 1279.9,215.7 1279.9,216.2 1279.9,217.5 1279.9,218.8 1279.9,219.6 1280,220.3 1280,221.7 1280,222.4 1280,223.9 1280,224.6 1280,225.7 1280,226.5 1280,227.3 1280,228.7 1280.1,229.8 1280.1,230.5 1280.1,231.7 1280.1,232.4 1280.1,233.6 1280.1,234.3 1280.1,235.5 1280.1,236.7 1280.1,237.8 1280.1,238.5 1280.2,239.4 1280.2,240.7 1280.2,241.5 1280.2,242.7 1280.2,243.8 1280.3,244.6 1280.3,245.8 1280.3,246.7 1280.3,247.5 1280.4,248.7 1280.4,249.6 1280.4,250.6 1280.4,251.9 1280.5,252.7 1280.5,254 1280.5,254.9 1280.5,255.7 1280.5,256.8 1280.6,258 1280.6,258.3 1280.6,259.7 1280.6,261 1280.7,261.9 1280.7,262.6 1280.7,263.6 1280.7,264.7 1280.8,265.8 1280.8,266.9 1280.8,267.7 1280.8,268.5 1280.9,269.9 1280.9,270.7 1280.9,271.5 1280.9,272.5 1280.9,273.9 1281,274.6 1281,275.7 1281,276.8 1281,277.7 1281.1,278.9 1281.1,280 1281.1,280.7 1281.1,281.8 1281.2,282.7 1281.2,283.4 1281.2,284.5 1281.2,285.7 1281.3,286.8 1281.3,287.9 1281.3,288.6 1281.3,290.1 1281.3,290.9 1281.4,291.6 1281.4,292.7 1281.4,294 1281.4,294.6 1281.5,295.8 1281.5,296.4 1281.5,297.8 1281.5,298.9 1281.6,300.1 1281.6,300.8 1281.6,302 1281.6,302.6 1281.6,304 1281.7,304.7 1281.7,306 1281.7,306.8 1281.7,307.8 1281.8,309.3 1281.8,309.6 1281.8,311.3 1281.8,311.9 1281.8,313.2 1281.9,314.3 1281.9,315 1281.9,316.4 1281.9,317.5 1282,318.5 1282,319.2 1282,320.4 1282,321.4 1282,322.1 1282.1,323.3 1282.1,324.3 1282.1,325.3 1282.1,326.3 1282.1,327.3 1282.2,328.2 1282.2,329.6 1282.2,330.5 1282.2,331.4 1282.3,332.4 1282.3,333.3 1282.3,334.4 1282.3,335.1 1282.3,336.7 1282.4,337.8 1282.4,338.2 1282.4,339.2 1282.4,340.6 1282.5,341.3 1282.5,342.8 1282.5,343.7 1282.5,344.6 1282.5,345.9 1282.6,346.7 1282.6,347.4 1282.6,348.5 1282.6,349.7 1282.7,350.8 1282.7,351.4 1282.7,352.9 1282.8,353.4 1282.8,355 1282.8,355.4 1282.8,356.9 1282.9,358 1282.9,359 1282.9,359.8 1283,361 1283,362.1 1283,363 1283,363.5 1283.1,364.9 1283.1,365.8 1283.1,366.9 1283.2,367.9 1283.2,368.9 1283.2,370 1283.2,371.1 1283.3,372 1283.3,372.7 1283.3,373.6 1283.4,374.6 1283.4,376 1283.4,376.9 1283.4,377.9 1283.5,379.1 1283.5,380.2 1283.5,380.8 1283.6,381.9 1283.6,383 1283.6,383.9 1283.7,385.1 1283.7,386.2 1283.8,387 1283.8,388.2 1283.9,389 1283.9,390 1284,390.9 1284,392 1284.1,393.2 1284.1,394.3 1284.2,395 1284.2,396.1 1284.3,397.3 1284.3,397.9 1284.4,398.9 1284.4,400 1284.5,401 1284.5,402 1284.6,403.2 1284.6,403.9 1284.7,404.7 1284.7,406.3 1284.8,407.2 1284.8,408.5 1284.9,409.1 1284.9,410.3 1285,411.1 1285,411.9 1285.1,412.9 1285.1,414 1285.2,414.8 1285.2,415.9 1285.3,417.2 1285.3,418.4 1285.4,419.4 1285.4,420 1285.5,421.2 1285.5,422.1 1285.6,423 1285.6,423.9 1285.7,424.8 1285.7,426.1 1285.8,427.5 1285.8,428.3 1285.9,429 1285.9,429.8 1286,431.4 1286,431.9 1286.1,432.7 1286.1,433.7 1286.2,435.4 1286.2,435.8 1286.3,437.3 1286.3,438.1 1286.4,439.3 1286.4,440.4 1286.5,441.5 1286.5,442.1 1286.6,442.7 1286.6,444.1 1286.7,445.1 1286.7,445.9 1286.8,447 1286.8,448 1286.9,449.4 1286.9,450.4 1287,451.1 1287,452.1 1287.1,453.2 1287.1,454.4 1287.2,455 1287.2,456.1 1287.3,457.5 1287.3,458.1 1287.4,459.3 1287.4,459.7 1287.5,461 1287.5,462.3 1287.6,462.9 1287.6,464 1287.7,465.1 1287.7,466 1287.8,466.9 1287.8,468.1 1287.9,469.1 1287.9,469.9 1288,471.6 1288.1,472 1288.1,472.8 1288.2,474.1 1288.3,475 1288.3,476.2 1288.4,477.2 1288.4,478.4 1288.5,478.9 1288.6,480.2 1288.6,481 1288.7,482.2 1288.7,483.2 1288.8,484.3 1288.9,485.1 1288.9,486.2 1289,487.3 1289.1,488 1289.1,489.6 1289.2,490.4 1289.2,491.2 1289.3,492.3 1289.4,493.6 1289.4,494.3 1289.5,495.5 1289.5,496.7 1289.6,497.2 1289.7,497.9 1289.7,499.4 1289.8,500.3 1289.9,501.5 1289.9,502.4 1290,503.4 1290,504.2 1290.2,506.2 1290.4,506.7 1290.5,508.1 1290.7,509.3 1290.9,511.7 1291,510.5 1291.2,512.4 1291.4,510.8 1291.5,512.5 1291.7,512.9 1291.9,517.6 1292,517.4 1292.2,518.2 1292.4,520 1292.6,520 1292.8,522.3 1293,519.8 1293.1,522.5 1293.3,524.4 1293.5,524 1293.7,525.4 1293.9,526.2 1294.1,526.2 1294.3,528.8 1294.5,530.6 1294.7,528.9 1294.8,530.9 1295,533.2 1295.2,532.1 1295.4,536 1295.7,532.8 1296,535.8 1296.3,536.4 1296.6,539.7 1296.9,539.5 1297.1,537.6 1297.4,540.2 1297.7,546.1 1298,543.3 1298.3,546.4 1298.6,546.3 1298.9,544.4 1299.2,548.8 1299.4,551.7 1299.7,549.7 1300,551.2 1300.2,549.7 1300.5,554.3 1300.7,550.5 1301,557.3 1301.2,552.9 1301.5,555.8 1301.7,558.1 1302,558.5 1302.2,558.3 1302.5,562.8 1302.7,564.9 1303,562.5 1303.1,563.5 1303.2,564.3 1303.3,565.7 1303.4,566.9 1303.5,567.8 1303.6,569.2 1303.7,570.1 1303.8,571.2 1303.9,572.1 1304,573.1 1304.2,573.1 1304.3,569.7 1304.5,569.7 1304.6,570.3 1304.7,569.1 1304.9,568.1 1305,564.5 1305.2,565.9 1305.3,563.8 1305.5,562.4 1305.6,563.4 1305.8,559.7 1305.9,560.1 1306,559.9 1306.2,558.3 1306.6,556.9 1307.1,560.9 1307.6,560.9 1308,560.2 1308.5,563.8 1308.9,562.2 1309.4,564.3 1309.7,563.7 1309.9,558.9 1310.2,563.5 1310.5,560.8 1310.7,563.2 1311,558.7 1311.2,561.6 1311.5,567.8 1311.7,566.3 1312,566.6 1312.2,566 1312.5,567.2 1312.7,569.5 1313,570.6 1313.2,573.9 1313.5,571.7 1313.7,573.5 1314.8,574.7 1315.9,572.3 1316.9,572.8 1317.8,574.3 1318.7,570.7 1319.5,568.9 1320.4,574 1321.2,571 1321.7,566.4 1322.1,573.4 1322.6,567.3 1323,569.3 1323.5,566.8 1323.9,565.4 1324.4,568.3 1324.8,560.5 1325.3,566.1 1325.7,562.9 1326.2,562.2 1326.6,560.5 1326.9,559.4 1327.2,559.7 1327.5,557.6 1327.8,557.3 1328.1,553.8 1328.4,555.2 1328.7,554.2 1329,551.7 1329.3,549.8 1329.6,551.8 1329.9,549.9 1330.2,544.3 1330.5,549.2 1330.8,546.5 1331.1,547.1 1331.4,548.6 1331.7,543.9 1332,543.1 1332.1,542.1 1332.3,540.7 1332.4,540 1332.5,538.9 1332.6,538 1332.8,536.9 1332.9,535.9 1333,535.2 1333.1,534.3 1333.3,533.2 1333.4,531.8 1333.5,531.2 1333.6,530.1 1333.7,529.3 1333.9,528.4 1334,526.8 1334.1,526.3 1334.2,524.9 1334.4,524.3 1334.5,523.1 1334.6,522 1334.7,521.5 1334.9,519.9 1335,519.3 1335.1,517.8 1335.2,517.2 1335.3,516.2 1335.4,514.8 1335.5,513.9 1335.6,513.3 1335.7,512.1 1335.8,511.2 1335.9,510.3 1336,509.3 1336.1,508.1 1336.2,507 1336.3,506.3 1336.4,504.9 1336.5,504.1 1336.6,503.2 1336.7,501.7 1336.8,501 1336.9,500.1 1337,498.7 1337.1,497.9 1337.2,497.1 1337.3,495.7 1337.4,494.6 1337.9,490.4 1338.3,492.2 1338.8,495 1339.2,486.5 1339.7,490 1340.2,489.8 1340.6,487.9 1340.9,489.4 1341.2,482.8 1341.4,483.9 1341.7,482 1342,484.5 1342.2,483.1 1342.5,482.1 1342.8,479.9 1342.9,478.8 1343,477.5 1343.2,477.1 1343.3,475.3 1343.5,474.6 1343.6,473.6 1343.7,472.7 1343.9,471.6 1344,469.9 1344.1,469 1344.3,468.1 1344.3,469.1 1344.4,470.1 1344.5,471.2 1344.5,472.2 1344.6,473.3 1344.6,474.2 1344.7,475 1344.7,476.6 1344.8,477.6 1344.9,478.3 1344.9,479.3 1345,480 1345,481.1 1345.1,482.7 1345.2,483.9 1345.2,484.7 1345.3,485.5 1345.3,486.8 1345.4,487.7 1345.5,488.5 1345.5,489.6 1345.6,490.7 1345.7,491.8 1345.8,492.7 1345.9,493.3 1346,494.7 1346.1,495.4 1346.3,496.9 1346.4,497.6 1346.5,498.3 1346.6,499.7 1346.7,500.3 1346.8,501.8 1347,502.7 1347.1,503.5 1347.1,505 1347.2,506 1347.3,506.9 1347.3,507.8 1347.4,508.7 1347.5,510 1347.5,510.8 1347.6,511.7 1347.6,512.9 1347.7,514.2 1347.8,515.2 1347.8,516.2 1347.9,517.3 1348,518.3 1348,519.7 1348.1,520.8 1348.2,521.9 1348.3,520.5 1348.5,524.2 1348.6,524 1348.8,526.1 1348.9,526.7 1349.1,528.4 1349.2,528 1349.4,529.4 1349.5,529.3 1349.7,533 1349.8,534.3 1350,533.9 1350.2,535 1350.3,535.6 1350.5,537.5 1350.6,539.1 1350.8,539.5 1350.9,539.3 1351.1,539.5 1351.2,541.4 1351.4,543.3 1351.5,543.3 1351.7,543.5 1351.8,547.2 1352,546.2 1352.2,550 1352.3,550.9 1352.5,549.3 1352.6,551.2 1352.8,552.4 1352.9,551.9 1353.1,553.7 1353.2,555.7 1353.4,555.4 1353.5,557.1 1353.7,556.5 1353.8,559.5 1354,561.5 1354.1,561.5 1354.3,562.5 1354.5,561.8 1354.6,563.8 1354.9,564.2 1355.3,569.6 1355.6,571 1355.9,570.4 1356.2,570.6 1356.5,571.5 1356.9,570.6 1357.2,573.5 1358.1,576.1 1359,577.4 1360,575.1 1360.9,574.3 1361.8,574.8 1362.8,575.7 1363.7,574.5 1364.7,571.8 1365.6,576.1 1366.6,569.6 1367.5,573.5 1368.5,570.6 1369.6,568.5 1370.8,572.3 1371.9,569.1 1373,571.6 1374.2,571.2 1374.9,574.7 1375.6,573.5 1376.3,575.1 1377,575.5 1377.6,576.5 1378.3,579.6 1379,574.7 1379.7,576.7 1380.4,573.5 1381.1,581.4 1381.8,579.6 1382.6,578.7 1383.5,577.8 1384.3,573.7 1385.2,582 1386,576.9 1386.9,577.2 1387.7,573.5 1388.5,573.7 1389.4,574.8 1390,576.9 1390.6,576.2 1391.3,579.7 1391.9,574.8 1392.5,582.8 1393.2,580.1 1393.8,580.2 1394.4,583.8 1395.1,578.6 1395.7,584.1 1396.3,581.6 1397,585.2 1397.3,585.1 1397.7,583.2 1398,581.4 1398.4,581.6 1398.8,575.2 1399.1,582.7 1399.5,574.2 1399.8,571.3 1400.2,575.9 1400.5,569.6 1400.9,571.6 1401.3,568.8 1401.6,573.5 1402,574.3 1402.3,573 1402.7,568.2 1403,571.9 1403.3,572 1403.6,571.8 1403.9,572.4 1404.3,573.5 1404.6,572.5 1404.9,575 1405.2,579.2 1405.5,576.1 1405.8,583.1 1406.2,576.9 1406.5,581 1407.4,582.2 1408.4,583.1 1409.3,579.7 1410.3,580.9 1411.2,579.4 1412.2,574.1 1413.1,578.5 1414.1,577.3 1414.4,576.3 1414.7,578.9 1415,579.1 1415.3,582.8 1415.7,580.3 1416,586.4 1416.3,587 1416.6,589.6 1416.9,587.2 1417.2,585.4 1417.6,585.8 1417.9,590.1 1418.2,587.4 1418.5,588.3 1418.7,587.1 1419,585.2 1419.3,585 1419.6,583.8 1419.9,584.4 1420.2,582.3 1420.5,580.9 1420.8,577.2 1421.1,582 1421.4,579.5 1421.7,576.4 1422.5,576.1 1423.3,577 1424.1,577.1 1424.9,581.2 1425.7,580.4 1426.6,582 1427.4,581.2 1428.1,582.2 1428.8,582.2 1429.5,584 1430.2,586.4 1430.9,581.8 1431.6,589.8 1432.4,589.3 1433.1,586.5 1433.3,582.6 1433.5,586.4 1433.7,584.9 1433.9,582.4 1434.1,579 1434.3,578.9 1434.5,578.5 1434.8,579.9 1435,576.7 1435.4,577 1435.8,577.3 1436.3,580.3 1436.7,581.7 1437.1,582.2 1437.6,584.9 1438,587.7 1438.4,586.4 1438.9,587.6 1439.3,586.2 1439.7,586.2 1440.1,587.6 1440.6,589.3 1441,585.1 1441.4,585.3 1441.9,581.5 1442.3,583.5 1442.7,581.6 1443.2,582.1 1443.6,576.2 1444,575.5 1444.5,576.9 1445.5,576.7 1446.6,576.6 1447.6,580.2 1448.7,578.3 1449.7,576.2 1450.8,580.6 1451.8,575.4 1452.9,578.2 1454,576.2 1455,573.6 1456.1,575.3 1457.1,573.8 1458.2,573.1 1459.2,575.2 1460.3,577.5 1461.3,575.6 1462.4,578.4 1463.5,576.1 1464.3,572.1 1465.2,578.6 1466,574.2 1466.9,578.8 1467.8,579.4 1468.6,577.3 1469.5,576.6 1470.4,575.4 1471.2,578.6 1472.1,579.5 1473,581 1473.9,577.6 1474.9,580.3 1475.8,578.7 1476.8,581.7 1477.7,583.3 1478.7,581.9 1479.6,578.2 1480.6,578.3 1481.5,578.5 1482.5,576.2 1483.4,577 1484.3,575.7 1485.3,575.5 1486.2,576.1 1487,578.9 1487.7,576 1488.4,579.2 1489.1,576.5 1489.8,579.7 1490.5,581.2 1491.2,580.3 1491.9,582.5 1492.7,586.2 1493.5,582.7 1494.2,579.9 1495,577.9 1495.7,580.6 1496.5,581.3 1497.3,575.6 1498,580.6 1498.8,576.9 1499.5,575.8 1500.3,580.2 1501.1,577.5 1501.8,577.2 1502.6,580 1503.3,577.6 1504.1,579.2 1504.9,577.2 1505.6,583.9 1506.4,581 1507.1,583.6 1508.1,582.7 1509,586.1 1510,580.6 1510.9,577.5 1511.9,583.2 1512.8,575.3 1513.8,579.2 1514.7,577.6 1515.7,579.5 1516.6,577.6 1517.6,580.7 1518.5,579.7 1519.5,576.6 1520.4,573.9 1521.4,574.9 1522.3,573.2 1522.9,579.7 1523.4,576.5 1523.9,573.6 1524.4,577.2 1524.9,578.8 1525.4,579.3 1526,579.5 1526.5,581.4 1527,583 1527.5,581.4 1528,583.4 1529.1,588.1 1530.1,582.9 1531.2,579 1532.3,582.8 1533.3,583.8 1534.4,582 1535.4,581.9 1536.5,584.2 1537.5,580.7 1538.5,580.3 1539.4,584.2 1540.4,582.9 1541.3,582.8 1542.3,579.9 1543.2,581.4 1544.2,581.4 1545.1,585.6 1545.9,582.4 1546.6,588 1547.4,584 1548.2,581.3 1548.9,580.9 1549.7,580.8 1550.4,579.5 1551.2,580.6 1552,573.8 1552.7,578.7 1553.7,581 1554.6,576.8 1555.6,577.2 1556.5,579.9 1557.5,581.7 1558.4,576.8 1559.4,579.5 1560.3,582.7 1560.8,575.1 1561.3,582.5 1561.9,575.8 1562.4,575.9 1562.9,574.4 1563.4,575 1563.9,576.7 1564.4,575.4 1564.9,573.9 1565.5,570.8 1565.6,571.1 1565.8,571.4 1565.9,573 1566.1,576.4 1566.3,577 1566.4,577.4 1566.6,577.1 1566.8,578.1 1566.9,581.7 1567.1,581.6 1567.3,582 1567.4,584 1567.6,584.5 1567.8,584.6 1567.9,586.3 1568.6,580.9 1569.2,587.9 1569.8,581.8 1570.5,584 1571.1,579.6 1571.7,583.2 1572.4,581 1573,581.2 1573.6,579.8 1574.3,580.7 1575,577.9 1575.7,582.9 1576.4,577.2 1577.1,585.1 1577.8,581.7 1578.5,580 1579.1,582.6 1579.8,587 1580.5,585.3 1581.2,586.2 1581.7,581.8 1582.3,586.8 1582.8,584.3 1583.3,583.3 1583.8,585.5 1584.3,580.5 1584.8,582.7 1585.4,578.6 1585.9,581 1586.4,583.5 1586.9,577.9 1587.6,579.2 1588.3,577.8 1589,579.4 1589.7,570.8 1590.4,570.7 1591.1,577.6 1591.8,570.4 1592.5,572.2 1593.1,573.3 1593.6,570.3 1594.1,567 1594.6,569.1 1595.1,566.3 1595.7,567.6 1596.2,569.8 1596.7,564 1597.2,566 1597.6,564.6 1598.1,564.7 1598.6,560.6 1599,560.8 1599.5,556.3 1600,556.5 1600.4,555.7 1600.9,556 1601.9,558.3 1603,558.9 1604,559.1 1605.1,554.3 1605.6,553.3 1606.2,555.8 1606.7,558.3 1607.3,556.3 1607.9,557.4 1608.4,558.6 1609,558.3 1609.5,560.2 1610.1,562.8 1610.6,564.4 1611.2,564.1 1611.8,567.1 1612.3,565.9 1612.9,567.7 1613.4,568.6 1614,567.9 1614.5,570.8 1615.1,570.2 1615.7,569.8 1616.2,573.1 1616.8,572.7 1617.3,572.9 1617.9,578.5 1618.4,575.8 1619,573.8 1619.6,576.1 1620.1,577.7 1620.7,580.9 1621.2,575.7 1621.8,579.6 1622.7,580 1623.6,577.2 1624.6,578.4 1625.5,583.4 1626.4,579.3 1627.4,580.7 1628.3,576 1629.2,576.6 1630.1,577.3 1631,578.2 1631.8,575.5 1632.6,577.8 1633.5,575.2 1634.3,573.8 1635.2,575.2 1636,570.3 1636.8,573.5 1637.7,570 1638.5,570.7 1639.5,574 1640.6,568.7 1641.6,572.1 1642.7,571.8 1643.7,573.4 1644.8,574 1645.8,572.3 1646.9,570.9 1647.5,570.1 1648.2,575.6 1648.9,569.9 1649.6,576.2 1650.3,572.6 1651,575.1 1651.7,575.5 1652.4,578.6 1653.1,577 1653.8,576.1 1654.5,571.7 1655.2,575.9 1655.9,570 1656.6,572.6 1657.3,574.5 1658,571.1 1658.7,567.2 1659.4,572.5 1660.1,569.9 1660.8,570.8 1661.5,568.1 1662.2,564.1 1662.9,563.4 1663.6,565.5 1664.5,564.2 1665.4,563.9 1666.4,559.2 1667.3,562.1 1668.2,561.4 1669.1,563 1670.1,559.1 1671,558.7 1671.9,559.8 1672.4,558.5 1672.8,561.6 1673.2,558.9 1673.6,559.1 1674.1,556.7 1674.5,553.6 1674.9,553.3 1675.4,555.8 1675.8,549.4 1676.2,549.4 1676.6,550.3 1677.1,545.5 1677.5,547.1 1677.7,547.9 1677.9,545.4 1678.2,543.1 1678.4,542.7 1678.6,542.9 1678.8,541 1679,539.9 1679.3,539.5 1679.5,538 1679.7,537 1679.9,537.9 1680.1,534.5 1680.4,533.2 1680.6,534.5 1680.8,531.2 1681,532.4 1681.2,528.4 1681.5,529.4 1681.7,528.3 1681.8,526.3 1682,526.2 1682.1,525.5 1682.3,525.5 1682.4,522 1682.6,522.9 1682.7,521.9 1682.9,518.9 1683,518.4 1683.2,517.7 1683.3,518.2 1683.5,515.8 1683.6,514.8 1683.8,514.2 1683.9,511.6 1684.1,512.6 1684.2,511.5 1684.4,509.4 1684.5,508.8 1684.7,509.4 1684.8,508.5 1685,506.7 1685.1,506.6 1685.3,502.7 1685.4,504.2 1685.6,502.9 1685.7,500.5 1685.8,500.1 1686,499.2 1686.1,498 1686.3,497 1686.4,496 1686.6,495.3 1686.7,494.1 1686.9,493.1 1687,492.1 1687.1,491 1687.3,489.9 1687.4,489 1687.6,488.1 1687.7,487.1 1687.9,486 1688,485 1688.2,484.1 1688.3,483.2 1688.4,481.7 1688.6,480.9 1688.7,479.9 1688.9,479 1689,478 1689.2,477 1689.3,476.1 1689.5,474.9 1689.6,474 1689.7,472.7 1689.9,471.8 1690,471.9 1691,469.5 1691.9,468.5 1692.8,468.2 1693.2,466.3 1693.6,469.9 1694,469.8 1694.4,473.2 1694.8,470.6 1695.2,474.8 1695.6,475 1695.8,475.6 1695.9,476.2 1696.1,478.7 1696.3,477.6 1696.4,478.9 1696.6,481.6 1696.8,481.7 1696.9,482.2 1697.1,485.5 1697.3,485 1697.4,487 1697.6,486.4 1697.8,489.4 1697.9,489.6 1698.1,489.5 1698.3,492.1 1698.4,490.6 1698.6,492.7 1698.8,495.5 1698.9,495.9 1699.1,496.7 1699.3,495.6 1699.4,498.8 1699.6,498 1699.8,500.2 1699.9,501.7 1700.1,501.7 1700.2,502.5 1700.4,503.9 1700.5,505.9 1700.7,506.7 1700.8,507 1701,508.2 1701.1,509.1 1701.3,511 1701.4,510 1701.6,512.6 1701.7,513.2 1701.9,514.8 1702,513.9 1702.2,516.5 1702.3,516.9 1702.5,518 1702.6,519.7 1702.8,520.4 1702.9,520.5 1703.1,522.8 1703.2,523.1 1703.4,525.2 1703.5,523.7 1703.7,527.1 1703.8,526.8 1704,528 1704.1,529 1704.3,529.9 1704.5,530.9 1704.6,531.8 1704.8,531.5 1705,534.3 1705.1,534.4 1705.3,536.4 1705.5,537 1705.6,537.8 1705.8,538.3 1706,541.1 1706.1,541.2 1706.3,542.6 1706.5,542.3 1706.6,544.8 1706.8,544.4 1707,547 1707.1,548 1707.3,548 1707.5,548.5 1707.6,551 1707.8,550.8 1708,551.8 1708.1,552.1 1708.5,552.8 1708.9,553.5 1709.2,556.9 1709.6,556.5 1710,556.6 1710.4,559.1 1710.7,560.1 1711.1,559.4 1711.5,562 1711.8,564.6 1712.2,564.6 1712.6,566.6 1713,562.8 1713.3,566.4 1713.7,566.6 1714.2,568 1714.6,569.2 1715.1,571.2 1715.6,571 1716,570.9 1716.5,571.3 1717,570.5 1717.4,577.4 1717.9,574.4 1718.9,576.1 1719.9,575 1720.9,576.4 1721.9,575.5 1722.9,574.6 1723.9,573.3 1724.8,574.1 1725.9,573.7 1726.9,574.2 1728,575.6 1729,575.1 1730.1,577.2 1731.1,575.6 1732.2,577.5 1733.2,576.2 1734,572.8 1734.9,571.3 1735.7,574.8 1736.5,572.9 1737.4,572.8 1738.2,572.4 1739.1,568.6 1739.9,572.2 1740.7,569.2 1741.6,570 1742.4,570.2 1743.2,569 1744.1,566.4 1744.9,568.4 1745.7,565.6 1746.6,564.7 1747.4,566 1748.2,564.4 1749.1,563.6 1749.9,564.2 1750.8,563.9 1751.6,565.7 1752.4,566.3 1753.3,566 1754.1,566.6 1754.9,568.3 1755.8,568.2 1756.6,571.8 1757.4,571.1 1758.3,572 1759.1,570.3 1759.9,568.2 1760.8,567.7 1761.6,566.7 1762.5,566.2 1763.1,566.1 1763.7,569.4 1764.4,570.6 1765,568.1 1765.6,571.8 1766.2,572.7 1766.9,572.7 1767.5,575.7 1768.1,575 1768.8,574 1769.4,575.7 1770.5,579.4 1771.5,578.4 1772.5,579.4 1773.6,576.1 1774.6,577.1 1775.7,577.8 1776.7,577.8 1777.8,579.8 1778.8,578.9 1779.9,579.8 1780.9,581.8 1781.9,579.6 1783,581.8 1784,578.4 1785.1,582.1 1786.1,581.3 1787.2,580.3 1788.2,582.9 1789.3,580.6 1790.3,582.2 1791.4,580.1 1792.4,582 1793.4,585.8 1794.5,583 1795.4,583.2 1796.3,580.8 1797.3,583.8 1798.2,584.6 1799.1,579.9 1800.1,580.1 1801,582.9 1801.9,579.9 1802.8,579.6 1803.9,581.7 1804.9,578.2 1806,581.4 1807,580.7 1808.1,576.3 1809.1,580.3 1810.2,576 1811.2,576.9 1812.1,577.4 1813.1,574.8 1814,576.7 1814.9,577 1815.8,576.2 1816.8,580 1817.7,579.3 1818.6,578.1 1819.6,580.5 1820.4,581.7 1821.2,580.5 1822.1,580.1 1822.9,575.8 1823.7,579.4 1824.6,574.9 1825.4,576.9 1826.2,576.2 1827.1,573 1827.9,574.9 1828.8,575.9 1829.8,573.8 1830.7,575.3 1831.6,573.5 1832.6,573.8 1833.5,572.6 1834.4,569.5 1835.3,572.3 1836.3,570.2 1837.2,567.6 1838.1,568.7 1839.1,567.4 1840,566.8 1840.9,567.7 1841.8,566.8 1842.3,567.1 1842.9,569.1 1843.4,568.3 1843.9,570.8 1844.4,570.2 1844.9,572.9 1845.4,573.9 1845.9,574.7 1846.4,572.1 1846.9,573.1 1847.4,577.3 1848.2,574.7 1849.1,577 1849.9,575.6 1850.8,575.7 1851.6,572.6" fill="none" stroke="#000080" stroke-width="2.3" stroke-linejoin="round" clip-path="url(#cb)"/>
<line x1="1130.3" y1="87.3" x2="1130.3" y2="664.8" stroke="#000" stroke-width="2.6"/>
<line x1="1129" y1="663.5" x2="1853.5" y2="663.5" stroke="#000" stroke-width="2.6"/>
<line x1="1118.8" y1="661.3" x2="1130.3" y2="661.3" stroke="#000" stroke-width="2.4"/>
<text><tspan x="1063.47" y="669.6" font-size="25.4" textLength="48.2" lengthAdjust="spacingAndGlyphs">0.00</tspan></text>
<line x1="1124.1" y1="625.5" x2="1130.3" y2="625.5" stroke="#000" stroke-width="2.4"/>
<line x1="1118.8" y1="589.7" x2="1130.3" y2="589.7" stroke="#000" stroke-width="2.4"/>
<text><tspan x="1063.54" y="598" font-size="25.4" textLength="48.2" lengthAdjust="spacingAndGlyphs">0.05</tspan></text>
<line x1="1124.1" y1="553.9" x2="1130.3" y2="553.9" stroke="#000" stroke-width="2.4"/>
<line x1="1118.8" y1="518.1" x2="1130.3" y2="518.1" stroke="#000" stroke-width="2.4"/>
<text><tspan x="1063.47" y="526.4" font-size="25.4" textLength="48.2" lengthAdjust="spacingAndGlyphs">0.10</tspan></text>
<line x1="1124.1" y1="482.3" x2="1130.3" y2="482.3" stroke="#000" stroke-width="2.4"/>
<line x1="1118.8" y1="446.5" x2="1130.3" y2="446.5" stroke="#000" stroke-width="2.4"/>
<text><tspan x="1063.54" y="454.8" font-size="25.4" textLength="48.2" lengthAdjust="spacingAndGlyphs">0.15</tspan></text>
<line x1="1124.1" y1="410.7" x2="1130.3" y2="410.7" stroke="#000" stroke-width="2.4"/>
<line x1="1118.8" y1="374.9" x2="1130.3" y2="374.9" stroke="#000" stroke-width="2.4"/>
<text><tspan x="1063.47" y="383.2" font-size="25.4" textLength="48.2" lengthAdjust="spacingAndGlyphs">0.20</tspan></text>
<line x1="1124.1" y1="339.1" x2="1130.3" y2="339.1" stroke="#000" stroke-width="2.4"/>
<line x1="1118.8" y1="303.3" x2="1130.3" y2="303.3" stroke="#000" stroke-width="2.4"/>
<text><tspan x="1063.54" y="311.6" font-size="25.4" textLength="48.2" lengthAdjust="spacingAndGlyphs">0.25</tspan></text>
<line x1="1124.1" y1="267.5" x2="1130.3" y2="267.5" stroke="#000" stroke-width="2.4"/>
<line x1="1118.8" y1="231.7" x2="1130.3" y2="231.7" stroke="#000" stroke-width="2.4"/>
<text><tspan x="1063.47" y="240" font-size="25.4" textLength="48.2" lengthAdjust="spacingAndGlyphs">0.30</tspan></text>
<line x1="1124.1" y1="195.9" x2="1130.3" y2="195.9" stroke="#000" stroke-width="2.4"/>
<line x1="1118.8" y1="160.1" x2="1130.3" y2="160.1" stroke="#000" stroke-width="2.4"/>
<text><tspan x="1063.54" y="168.4" font-size="25.4" textLength="48.2" lengthAdjust="spacingAndGlyphs">0.35</tspan></text>
<line x1="1124.1" y1="124.3" x2="1130.3" y2="124.3" stroke="#000" stroke-width="2.4"/>
<line x1="1118.8" y1="88.5" x2="1130.3" y2="88.5" stroke="#000" stroke-width="2.4"/>
<text><tspan x="1063.47" y="96.8" font-size="25.4" textLength="48.2" lengthAdjust="spacingAndGlyphs">0.40</tspan></text>
<line x1="1223.95" y1="663.5" x2="1223.95" y2="669.3" stroke="#000" stroke-width="2.4"/>
<line x1="1349.6" y1="663.5" x2="1349.6" y2="675.5" stroke="#000" stroke-width="2.4"/>
<text><tspan x="1325.5" y="700.2" font-size="25.4" textLength="48.2" lengthAdjust="spacingAndGlyphs">0.10</tspan></text>
<line x1="1475.25" y1="663.5" x2="1475.25" y2="669.3" stroke="#000" stroke-width="2.4"/>
<line x1="1600.9" y1="663.5" x2="1600.9" y2="675.5" stroke="#000" stroke-width="2.4"/>
<text><tspan x="1576.84" y="700.2" font-size="25.4" textLength="48.2" lengthAdjust="spacingAndGlyphs">0.15</tspan></text>
<line x1="1726.55" y1="663.5" x2="1726.55" y2="669.3" stroke="#000" stroke-width="2.4"/>
<line x1="1852.2" y1="663.5" x2="1852.2" y2="675.5" stroke="#000" stroke-width="2.4"/>
<text><tspan x="1828.1" y="700.2" font-size="25.4" textLength="48.2" lengthAdjust="spacingAndGlyphs">0.20</tspan></text>
<text><tspan x="1469.37" y="775.6" font-size="53">q, </tspan><tspan x="1528.5" y="775.6" font-size="53" textLength="34.89" lengthAdjust="spacingAndGlyphs">A</tspan><tspan x="1562.06" y="752.5" font-size="34.6" textLength="13.83" lengthAdjust="spacingAndGlyphs">-</tspan><tspan x="1575.58" y="752.5" font-size="34.6" textLength="17.7" lengthAdjust="spacingAndGlyphs">1</tspan></text>
<text transform="translate(1041.4 0) rotate(-90)"><tspan x="-489.02" y="0" font-size="30.6" textLength="225.35" lengthAdjust="spacingAndGlyphs">subtracted peaks</tspan></text>
<text><tspan x="1087.39" y="50" font-size="67" font-family='"Liberation Sans", Arial, Helvetica, sans-serif' font-weight="bold" textLength="41.13" lengthAdjust="spacingAndGlyphs">B</tspan></text>
<rect x="1397.5" y="81.3" width="192.8" height="187" fill="#fff" stroke="#333" stroke-width="1.4"/>
<line x1="1401.3" y1="101.1" x2="1470.9" y2="101.1" stroke="#00ffff" stroke-width="2.7"/>
<text><tspan x="1477.37" y="111.1" font-size="30.0">step </tspan><tspan x="1543.71" y="111.1" font-size="30.0">4.</tspan><tspan x="1570.88" y="111.1" font-size="30.0">1</tspan></text>
<line x1="1401.3" y1="138.03" x2="1470.9" y2="138.03" stroke="#ff00ff" stroke-width="2.7"/>
<text><tspan x="1477.37" y="148.03" font-size="30.0">step </tspan><tspan x="1543.71" y="148.03" font-size="30.0">4.</tspan><tspan x="1568.62" y="148.03" font-size="30.0">2</tspan></text>
<line x1="1401.3" y1="174.96" x2="1470.9" y2="174.96" stroke="#800080" stroke-width="2.7"/>
<text><tspan x="1477.37" y="184.96" font-size="30.0">step </tspan><tspan x="1543.71" y="184.96" font-size="30.0">4.</tspan><tspan x="1568.43" y="184.96" font-size="30.0">3</tspan></text>
<line x1="1401.3" y1="211.89" x2="1470.9" y2="211.89" stroke="#808000" stroke-width="2.7"/>
<text><tspan x="1477.37" y="221.89" font-size="30.0">step </tspan><tspan x="1543.71" y="221.89" font-size="30.0">4.</tspan><tspan x="1567.99" y="221.89" font-size="30.0">4</tspan></text>
<line x1="1401.3" y1="248.82" x2="1470.9" y2="248.82" stroke="#000080" stroke-width="2.7"/>
<text><tspan x="1477.37" y="258.82" font-size="30.0">step </tspan><tspan x="1543.71" y="258.82" font-size="30.0">4.</tspan><tspan x="1568.38" y="258.82" font-size="30.0">5</tspan></text>
<text><tspan x="1698.53" y="265.2" font-size="30.3">day when crystalls</tspan></text>
<text><tspan x="1699.84" y="302.4" font-size="30.3">were observed</tspan></text>
<text><tspan x="1697.85" y="339.2" font-size="30.3">by vis-microscopy</tspan></text>
<text><tspan x="1315.09" y="361.8" font-size="30.6">L</tspan><tspan x="1332.96" y="370.9" font-size="22" textLength="41.79" lengthAdjust="spacingAndGlyphs">cryst</tspan></text>
<text><tspan x="1314.89" y="404.7" font-size="30.4" textLength="41.41" lengthAdjust="spacingAndGlyphs">64 </tspan><tspan x="1357.74" y="404.7" font-size="30.4" textLength="19.26" lengthAdjust="spacingAndGlyphs">Å</tspan></text>
<text><tspan x="1152.49" y="437.6" font-size="30.6">L</tspan><tspan x="1169.15" y="437.6" font-size="28.6" font-family='"Liberation Serif", "Times New Roman", serif' textLength="19.93" lengthAdjust="spacingAndGlyphs">α</tspan><tspan x="1189.13" y="445.6" font-size="21.3" font-family='"Liberation Serif", "Times New Roman", serif'>1</tspan></text>
<text><tspan x="1379.17" y="463.1" font-size="30">precursor </tspan><tspan x="1515.24" y="463.1" font-size="30">of </tspan><tspan x="1548.01" y="463.1" font-size="30.4">L</tspan><tspan x="1565.16" y="471.6" font-size="22" textLength="41.79" lengthAdjust="spacingAndGlyphs">cryst</tspan></text>
<text><tspan x="1378.89" y="506.3" font-size="30.4" textLength="41.41" lengthAdjust="spacingAndGlyphs">68 </tspan><tspan x="1421.44" y="506.3" font-size="30.4" textLength="19.26" lengthAdjust="spacingAndGlyphs">Å</tspan></text>
<text><tspan x="1630.59" y="435.3" font-size="30.6">L</tspan><tspan x="1647.25" y="435.3" font-size="28.6" font-family='"Liberation Serif", "Times New Roman", serif' textLength="19.93" lengthAdjust="spacingAndGlyphs">α</tspan><tspan x="1667.59" y="444" font-size="21.3" font-family='"Liberation Serif", "Times New Roman", serif' font-style="italic" textLength="11.72" lengthAdjust="spacingAndGlyphs">2</tspan></text>
<line x1="1186.7" y1="468.7" x2="1203.32" y2="498.31" stroke="#000" stroke-width="1.2"/>
<polygon points="1208.7,507.9 1199.5,498.2 1205.2,495" fill="#000"/>
<line x1="1340.6" y1="415.3" x2="1341.36" y2="443.7" stroke="#000" stroke-width="1.3"/>
<polygon points="1341.7,456.2 1337.3,441.8 1345.3,441.6" fill="#000"/>
<line x1="1402.2" y1="518.5" x2="1329.56" y2="642.51" stroke="#000" stroke-width="1.05"/>
<polygon points="1324,652 1327.3,638.9 1333.8,642.7" fill="#000"/>
<line x1="1661.6" y1="452.2" x2="1675.38" y2="478.37" stroke="#000" stroke-width="1.2"/>
<polygon points="1680.5,488.1 1671.6,478.1 1677.3,475.1" fill="#000"/>
<line x1="1658.6" y1="485" x2="1658.6" y2="535.7" stroke="#000" stroke-width="1.3"/>
<polygon points="1658.6,548.2 1654.6,533.7 1662.6,533.7" fill="#000"/>
<line x1="1812.4" y1="349.6" x2="1800.44" y2="645.01" stroke="#000" stroke-width="1.05"/>
<polygon points="1800,656 1796.8,642.9 1804.3,643.2" fill="#000"/>
</g>
</svg>
</body></html>
